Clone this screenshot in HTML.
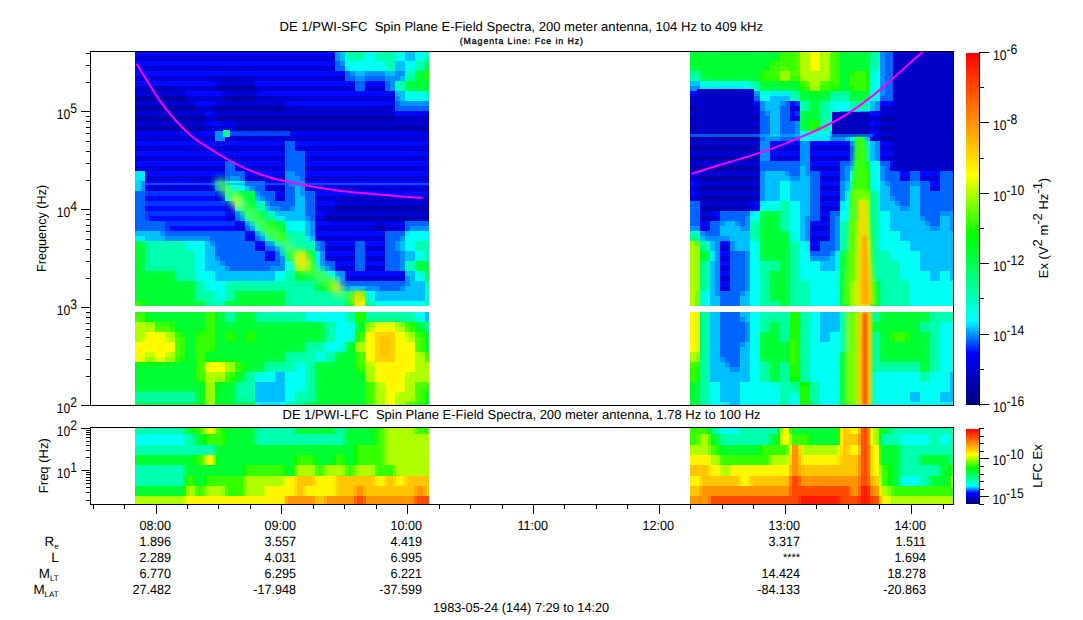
<!DOCTYPE html>
<html><head><meta charset="utf-8"><style>
html,body{margin:0;padding:0;background:#fff;}
svg{display:block;}
text{font-family:"Liberation Sans",sans-serif;fill:#000;}
</style></head><body>
<svg width="1083" height="620" viewBox="0 0 1083 620" shape-rendering="crispEdges">
<defs><filter id="bl" x="-20%" y="-20%" width="140%" height="140%"><feGaussianBlur stdDeviation="1.5"/></filter><filter id="bl2" x="-20%" y="-20%" width="140%" height="140%"><feGaussianBlur stdDeviation="3"/></filter><clipPath id="cLT"><rect x="135" y="51" width="294" height="255"/></clipPath><clipPath id="cRT"><rect x="690" y="51" width="263" height="255"/></clipPath><clipPath id="cRL"><rect x="690" y="312" width="263" height="93"/></clipPath><clipPath id="cRF"><rect x="690" y="428" width="263" height="76"/></clipPath><linearGradient id="cb" x1="0" y1="0" x2="0" y2="1"><stop offset="0.000" stop-color="#ff0000"/><stop offset="0.345" stop-color="#ffff00"/><stop offset="0.520" stop-color="#00ff00"/><stop offset="0.760" stop-color="#00ffff"/><stop offset="0.853" stop-color="#0000ff"/><stop offset="1.000" stop-color="#000078"/></linearGradient></defs>
<rect x="0" y="0" width="1083" height="620" fill="#fff"/>
<rect x="135" y="51" width="200" height="5" fill="#0008ff"/>
<rect x="335" y="51" width="5" height="5" fill="#0091ff"/>
<rect x="340" y="51" width="5" height="5" fill="#00bfff"/>
<rect x="345" y="51" width="20" height="5" fill="#00ffae"/>
<rect x="365" y="51" width="10" height="5" fill="#00fff4"/>
<rect x="375" y="51" width="20" height="5" fill="#00ffae"/>
<rect x="395" y="51" width="10" height="5" fill="#00fff4"/>
<rect x="405" y="51" width="10" height="5" fill="#00bfff"/>
<rect x="415" y="51" width="10" height="5" fill="#00fff4"/>
<rect x="425" y="51" width="4" height="5" fill="#00ffae"/>
<rect x="135" y="56" width="200" height="5" fill="#0000d4"/>
<rect x="335" y="56" width="5" height="5" fill="#0091ff"/>
<rect x="340" y="56" width="5" height="5" fill="#00bfff"/>
<rect x="345" y="56" width="5" height="5" fill="#00ffbf"/>
<rect x="350" y="56" width="15" height="5" fill="#00ffae"/>
<rect x="365" y="56" width="10" height="5" fill="#00fff4"/>
<rect x="375" y="56" width="20" height="5" fill="#00ffae"/>
<rect x="395" y="56" width="10" height="5" fill="#00fff4"/>
<rect x="405" y="56" width="10" height="5" fill="#00bfff"/>
<rect x="415" y="56" width="5" height="5" fill="#00fff4"/>
<rect x="420" y="56" width="5" height="5" fill="#00ffe3"/>
<rect x="425" y="56" width="4" height="5" fill="#00ffae"/>
<rect x="135" y="61" width="200" height="5" fill="#0008ff"/>
<rect x="335" y="61" width="5" height="5" fill="#0064ff"/>
<rect x="340" y="61" width="5" height="5" fill="#0091ff"/>
<rect x="345" y="61" width="35" height="5" fill="#00fff4"/>
<rect x="380" y="61" width="5" height="5" fill="#00ffe3"/>
<rect x="385" y="61" width="10" height="5" fill="#00ffae"/>
<rect x="395" y="61" width="10" height="5" fill="#00bfff"/>
<rect x="405" y="61" width="10" height="5" fill="#00fff4"/>
<rect x="415" y="61" width="10" height="5" fill="#00ffae"/>
<rect x="425" y="61" width="4" height="5" fill="#00ff55"/>
<rect x="135" y="66" width="200" height="5" fill="#0000d4"/>
<rect x="335" y="66" width="10" height="5" fill="#0064ff"/>
<rect x="345" y="66" width="5" height="5" fill="#00edff"/>
<rect x="350" y="66" width="35" height="5" fill="#00fff4"/>
<rect x="385" y="66" width="10" height="5" fill="#00ffbf"/>
<rect x="395" y="66" width="10" height="5" fill="#00bfff"/>
<rect x="405" y="66" width="5" height="5" fill="#00fff4"/>
<rect x="410" y="66" width="5" height="5" fill="#00ffe3"/>
<rect x="415" y="66" width="5" height="5" fill="#00ffae"/>
<rect x="420" y="66" width="5" height="5" fill="#00ff9c"/>
<rect x="425" y="66" width="4" height="5" fill="#00ff43"/>
<rect x="135" y="71" width="210" height="5" fill="#0008ff"/>
<rect x="345" y="71" width="5" height="5" fill="#0064ff"/>
<rect x="350" y="71" width="5" height="5" fill="#0091ff"/>
<rect x="355" y="71" width="10" height="5" fill="#00bfff"/>
<rect x="365" y="71" width="20" height="5" fill="#0091ff"/>
<rect x="385" y="71" width="10" height="5" fill="#00bfff"/>
<rect x="395" y="71" width="10" height="5" fill="#0091ff"/>
<rect x="405" y="71" width="5" height="5" fill="#00ffbf"/>
<rect x="410" y="71" width="5" height="5" fill="#00ffae"/>
<rect x="415" y="71" width="5" height="5" fill="#00ff43"/>
<rect x="420" y="71" width="5" height="5" fill="#00ff32"/>
<rect x="425" y="71" width="4" height="5" fill="#1dff00"/>
<rect x="135" y="76" width="85" height="5" fill="#0000d4"/>
<rect x="220" y="76" width="30" height="5" fill="#0000c5"/>
<rect x="250" y="76" width="95" height="5" fill="#0000d4"/>
<rect x="345" y="76" width="10" height="5" fill="#0064ff"/>
<rect x="355" y="76" width="10" height="5" fill="#0091ff"/>
<rect x="365" y="76" width="20" height="5" fill="#0064ff"/>
<rect x="385" y="76" width="15" height="5" fill="#0091ff"/>
<rect x="400" y="76" width="5" height="5" fill="#00bfff"/>
<rect x="405" y="76" width="5" height="5" fill="#00ffae"/>
<rect x="410" y="76" width="5" height="5" fill="#00ff9c"/>
<rect x="415" y="76" width="5" height="5" fill="#00ff43"/>
<rect x="420" y="76" width="5" height="5" fill="#00ff32"/>
<rect x="425" y="76" width="4" height="5" fill="#1dff00"/>
<rect x="135" y="81" width="80" height="5" fill="#0008ff"/>
<rect x="215" y="81" width="40" height="5" fill="#0000d4"/>
<rect x="255" y="81" width="100" height="5" fill="#0008ff"/>
<rect x="355" y="81" width="10" height="5" fill="#0064ff"/>
<rect x="365" y="81" width="20" height="5" fill="#0008ff"/>
<rect x="385" y="81" width="5" height="5" fill="#0064ff"/>
<rect x="390" y="81" width="5" height="5" fill="#0091ff"/>
<rect x="395" y="81" width="5" height="5" fill="#00ffbf"/>
<rect x="400" y="81" width="5" height="5" fill="#00ffae"/>
<rect x="405" y="81" width="10" height="5" fill="#00ff43"/>
<rect x="415" y="81" width="14" height="5" fill="#00ff32"/>
<rect x="135" y="86" width="45" height="5" fill="#0000c5"/>
<rect x="180" y="86" width="35" height="5" fill="#0000d4"/>
<rect x="215" y="86" width="40" height="5" fill="#0000a6"/>
<rect x="255" y="86" width="5" height="5" fill="#0000c5"/>
<rect x="260" y="86" width="95" height="5" fill="#0000d4"/>
<rect x="355" y="86" width="10" height="5" fill="#0064ff"/>
<rect x="365" y="86" width="20" height="5" fill="#0000d4"/>
<rect x="385" y="86" width="5" height="5" fill="#0064ff"/>
<rect x="390" y="86" width="5" height="5" fill="#0091ff"/>
<rect x="395" y="86" width="5" height="5" fill="#00ffbf"/>
<rect x="400" y="86" width="5" height="5" fill="#00ffae"/>
<rect x="405" y="86" width="5" height="5" fill="#00ff55"/>
<rect x="410" y="86" width="19" height="5" fill="#00ff43"/>
<rect x="135" y="91" width="50" height="5" fill="#0000d4"/>
<rect x="185" y="91" width="35" height="5" fill="#0008ff"/>
<rect x="220" y="91" width="5" height="5" fill="#0000f2"/>
<rect x="225" y="91" width="30" height="5" fill="#0000d4"/>
<rect x="255" y="91" width="5" height="5" fill="#0000f2"/>
<rect x="260" y="91" width="135" height="5" fill="#0008ff"/>
<rect x="395" y="91" width="10" height="5" fill="#00bfff"/>
<rect x="405" y="91" width="20" height="5" fill="#00ffe3"/>
<rect x="425" y="91" width="4" height="5" fill="#00ffae"/>
<rect x="135" y="96" width="50" height="5" fill="#0000a6"/>
<rect x="185" y="96" width="5" height="5" fill="#0000c5"/>
<rect x="190" y="96" width="30" height="5" fill="#0000d4"/>
<rect x="220" y="96" width="5" height="5" fill="#0000c5"/>
<rect x="225" y="96" width="30" height="5" fill="#0000a6"/>
<rect x="255" y="96" width="25" height="5" fill="#0000c5"/>
<rect x="280" y="96" width="115" height="5" fill="#0000d4"/>
<rect x="395" y="96" width="5" height="5" fill="#0091ff"/>
<rect x="400" y="96" width="5" height="5" fill="#00bfff"/>
<rect x="405" y="96" width="20" height="5" fill="#00fff4"/>
<rect x="425" y="96" width="4" height="5" fill="#00ffbf"/>
<rect x="135" y="101" width="60" height="5" fill="#0000d4"/>
<rect x="195" y="101" width="20" height="5" fill="#0008ff"/>
<rect x="215" y="101" width="70" height="5" fill="#0000d4"/>
<rect x="285" y="101" width="110" height="5" fill="#0008ff"/>
<rect x="395" y="101" width="5" height="5" fill="#0064ff"/>
<rect x="400" y="101" width="29" height="5" fill="#0091ff"/>
<rect x="135" y="106" width="60" height="5" fill="#0000a6"/>
<rect x="195" y="106" width="5" height="5" fill="#0000c5"/>
<rect x="200" y="106" width="10" height="5" fill="#0000d4"/>
<rect x="210" y="106" width="5" height="5" fill="#0000c5"/>
<rect x="215" y="106" width="70" height="5" fill="#0000a6"/>
<rect x="285" y="106" width="105" height="5" fill="#0000c5"/>
<rect x="390" y="106" width="5" height="5" fill="#0000d4"/>
<rect x="395" y="106" width="34" height="5" fill="#0064ff"/>
<rect x="135" y="111" width="70" height="5" fill="#0000d4"/>
<rect x="205" y="111" width="5" height="5" fill="#0008ff"/>
<rect x="210" y="111" width="5" height="5" fill="#0000f2"/>
<rect x="215" y="111" width="180" height="5" fill="#0000d4"/>
<rect x="395" y="111" width="34" height="5" fill="#0008ff"/>
<rect x="135" y="116" width="70" height="5" fill="#0000a6"/>
<rect x="205" y="116" width="5" height="5" fill="#0000c5"/>
<rect x="210" y="116" width="5" height="5" fill="#0000d4"/>
<rect x="215" y="116" width="180" height="5" fill="#0000a6"/>
<rect x="395" y="116" width="34" height="5" fill="#0000c5"/>
<rect x="135" y="121" width="70" height="5" fill="#0000d4"/>
<rect x="205" y="121" width="5" height="5" fill="#0000f2"/>
<rect x="210" y="121" width="10" height="5" fill="#0008ff"/>
<rect x="220" y="121" width="15" height="5" fill="#0000f2"/>
<rect x="235" y="121" width="194" height="5" fill="#0000d4"/>
<rect x="135" y="126" width="70" height="5" fill="#0000a6"/>
<rect x="205" y="126" width="30" height="5" fill="#0000d4"/>
<rect x="235" y="126" width="194" height="5" fill="#0000a6"/>
<rect x="135" y="131" width="65" height="5" fill="#0000f2"/>
<rect x="200" y="131" width="15" height="5" fill="#0008ff"/>
<rect x="215" y="131" width="10" height="5" fill="#0091ff"/>
<rect x="225" y="131" width="15" height="5" fill="#0008ff"/>
<rect x="240" y="131" width="189" height="5" fill="#0000f2"/>
<rect x="135" y="136" width="80" height="5" fill="#0000d4"/>
<rect x="215" y="136" width="10" height="5" fill="#0091ff"/>
<rect x="225" y="136" width="204" height="5" fill="#0000d4"/>
<rect x="135" y="141" width="150" height="5" fill="#0008ff"/>
<rect x="285" y="141" width="10" height="5" fill="#0064ff"/>
<rect x="295" y="141" width="134" height="5" fill="#0008ff"/>
<rect x="135" y="146" width="150" height="5" fill="#0000d4"/>
<rect x="285" y="146" width="10" height="5" fill="#0064ff"/>
<rect x="295" y="146" width="5" height="5" fill="#0000e3"/>
<rect x="300" y="146" width="129" height="5" fill="#0000d4"/>
<rect x="135" y="151" width="150" height="5" fill="#0008ff"/>
<rect x="285" y="151" width="20" height="5" fill="#0064ff"/>
<rect x="305" y="151" width="124" height="5" fill="#0008ff"/>
<rect x="135" y="156" width="150" height="5" fill="#0000d4"/>
<rect x="285" y="156" width="20" height="5" fill="#0064ff"/>
<rect x="305" y="156" width="124" height="5" fill="#0000d4"/>
<rect x="135" y="161" width="90" height="5" fill="#0008ff"/>
<rect x="225" y="161" width="10" height="5" fill="#0064ff"/>
<rect x="235" y="161" width="50" height="5" fill="#0008ff"/>
<rect x="285" y="161" width="20" height="5" fill="#0064ff"/>
<rect x="305" y="161" width="124" height="5" fill="#0008ff"/>
<rect x="135" y="166" width="10" height="5" fill="#0000e3"/>
<rect x="145" y="166" width="80" height="5" fill="#0000d4"/>
<rect x="225" y="166" width="10" height="5" fill="#0064ff"/>
<rect x="235" y="166" width="5" height="5" fill="#0000e3"/>
<rect x="240" y="166" width="45" height="5" fill="#0000d4"/>
<rect x="285" y="166" width="20" height="5" fill="#0064ff"/>
<rect x="305" y="166" width="124" height="5" fill="#0000d4"/>
<rect x="135" y="171" width="10" height="5" fill="#00edff"/>
<rect x="145" y="171" width="80" height="5" fill="#0008ff"/>
<rect x="225" y="171" width="20" height="5" fill="#0064ff"/>
<rect x="245" y="171" width="40" height="5" fill="#0008ff"/>
<rect x="285" y="171" width="10" height="5" fill="#0091ff"/>
<rect x="295" y="171" width="10" height="5" fill="#0064ff"/>
<rect x="305" y="171" width="124" height="5" fill="#0008ff"/>
<rect x="135" y="176" width="5" height="5" fill="#00fff4"/>
<rect x="140" y="176" width="5" height="5" fill="#00edff"/>
<rect x="145" y="176" width="5" height="5" fill="#0000e3"/>
<rect x="150" y="176" width="70" height="5" fill="#0000d4"/>
<rect x="220" y="176" width="5" height="5" fill="#0000e3"/>
<rect x="225" y="176" width="5" height="5" fill="#0064ff"/>
<rect x="230" y="176" width="10" height="5" fill="#0091ff"/>
<rect x="240" y="176" width="5" height="5" fill="#0064ff"/>
<rect x="245" y="176" width="5" height="5" fill="#0000e3"/>
<rect x="250" y="176" width="35" height="5" fill="#0000d4"/>
<rect x="285" y="176" width="15" height="5" fill="#0091ff"/>
<rect x="300" y="176" width="5" height="5" fill="#0064ff"/>
<rect x="305" y="176" width="124" height="5" fill="#0000d4"/>
<rect x="135" y="181" width="5" height="5" fill="#00bfff"/>
<rect x="140" y="181" width="5" height="5" fill="#0091ff"/>
<rect x="145" y="181" width="70" height="5" fill="#0008ff"/>
<rect x="215" y="181" width="10" height="5" fill="#0064ff"/>
<rect x="225" y="181" width="5" height="5" fill="#00edff"/>
<rect x="230" y="181" width="10" height="5" fill="#00fff4"/>
<rect x="240" y="181" width="5" height="5" fill="#00edff"/>
<rect x="245" y="181" width="20" height="5" fill="#0064ff"/>
<rect x="265" y="181" width="20" height="5" fill="#0008ff"/>
<rect x="285" y="181" width="5" height="5" fill="#0064ff"/>
<rect x="290" y="181" width="15" height="5" fill="#0091ff"/>
<rect x="305" y="181" width="124" height="5" fill="#0008ff"/>
<rect x="135" y="186" width="5" height="5" fill="#00bfff"/>
<rect x="140" y="186" width="5" height="5" fill="#0091ff"/>
<rect x="145" y="186" width="5" height="5" fill="#0000e3"/>
<rect x="150" y="186" width="65" height="5" fill="#0000d4"/>
<rect x="215" y="186" width="10" height="5" fill="#0064ff"/>
<rect x="225" y="186" width="10" height="5" fill="#00fff4"/>
<rect x="235" y="186" width="10" height="5" fill="#00ffe3"/>
<rect x="245" y="186" width="5" height="5" fill="#00bfff"/>
<rect x="250" y="186" width="5" height="5" fill="#0091ff"/>
<rect x="255" y="186" width="10" height="5" fill="#0064ff"/>
<rect x="265" y="186" width="5" height="5" fill="#0000e3"/>
<rect x="270" y="186" width="15" height="5" fill="#0000d4"/>
<rect x="285" y="186" width="10" height="5" fill="#0064ff"/>
<rect x="295" y="186" width="5" height="5" fill="#00bfff"/>
<rect x="300" y="186" width="5" height="5" fill="#0091ff"/>
<rect x="305" y="186" width="5" height="5" fill="#0000e3"/>
<rect x="310" y="186" width="119" height="5" fill="#0000d4"/>
<rect x="135" y="191" width="10" height="5" fill="#0064ff"/>
<rect x="145" y="191" width="70" height="5" fill="#0036ff"/>
<rect x="215" y="191" width="10" height="5" fill="#0008ff"/>
<rect x="225" y="191" width="5" height="5" fill="#00edff"/>
<rect x="230" y="191" width="5" height="5" fill="#00ffe3"/>
<rect x="235" y="191" width="5" height="5" fill="#00ff55"/>
<rect x="240" y="191" width="10" height="5" fill="#00ff43"/>
<rect x="250" y="191" width="5" height="5" fill="#00ff55"/>
<rect x="255" y="191" width="5" height="5" fill="#0091ff"/>
<rect x="260" y="191" width="15" height="5" fill="#0064ff"/>
<rect x="275" y="191" width="10" height="5" fill="#0008ff"/>
<rect x="285" y="191" width="10" height="5" fill="#0064ff"/>
<rect x="295" y="191" width="5" height="5" fill="#00bfff"/>
<rect x="300" y="191" width="5" height="5" fill="#0091ff"/>
<rect x="305" y="191" width="10" height="5" fill="#0064ff"/>
<rect x="315" y="191" width="114" height="5" fill="#0008ff"/>
<rect x="135" y="196" width="10" height="5" fill="#0064ff"/>
<rect x="145" y="196" width="70" height="5" fill="#0008ff"/>
<rect x="215" y="196" width="5" height="5" fill="#0000d4"/>
<rect x="220" y="196" width="5" height="5" fill="#0000e3"/>
<rect x="225" y="196" width="5" height="5" fill="#00edff"/>
<rect x="230" y="196" width="5" height="5" fill="#00fff4"/>
<rect x="235" y="196" width="5" height="5" fill="#00ff55"/>
<rect x="240" y="196" width="5" height="5" fill="#00ff43"/>
<rect x="245" y="196" width="5" height="5" fill="#00ff32"/>
<rect x="250" y="196" width="5" height="5" fill="#00ff43"/>
<rect x="255" y="196" width="5" height="5" fill="#00bfff"/>
<rect x="260" y="196" width="5" height="5" fill="#0091ff"/>
<rect x="265" y="196" width="10" height="5" fill="#0064ff"/>
<rect x="275" y="196" width="10" height="5" fill="#0000e3"/>
<rect x="285" y="196" width="10" height="5" fill="#0064ff"/>
<rect x="295" y="196" width="10" height="5" fill="#00bfff"/>
<rect x="305" y="196" width="10" height="5" fill="#0064ff"/>
<rect x="315" y="196" width="25" height="5" fill="#0000d4"/>
<rect x="340" y="196" width="89" height="5" fill="#0000c5"/>
<rect x="135" y="201" width="10" height="5" fill="#0064ff"/>
<rect x="145" y="201" width="80" height="5" fill="#0036ff"/>
<rect x="225" y="201" width="10" height="5" fill="#0008ff"/>
<rect x="235" y="201" width="5" height="5" fill="#00fff4"/>
<rect x="240" y="201" width="5" height="5" fill="#00ffd1"/>
<rect x="245" y="201" width="10" height="5" fill="#00ff43"/>
<rect x="255" y="201" width="5" height="5" fill="#00ffae"/>
<rect x="260" y="201" width="5" height="5" fill="#00ffbf"/>
<rect x="265" y="201" width="5" height="5" fill="#0091ff"/>
<rect x="270" y="201" width="25" height="5" fill="#0064ff"/>
<rect x="295" y="201" width="10" height="5" fill="#00bfff"/>
<rect x="305" y="201" width="10" height="5" fill="#0064ff"/>
<rect x="315" y="201" width="20" height="5" fill="#0008ff"/>
<rect x="335" y="201" width="94" height="5" fill="#0000d4"/>
<rect x="135" y="206" width="10" height="5" fill="#0064ff"/>
<rect x="145" y="206" width="80" height="5" fill="#0008ff"/>
<rect x="225" y="206" width="5" height="5" fill="#0000d4"/>
<rect x="230" y="206" width="5" height="5" fill="#0000e3"/>
<rect x="235" y="206" width="5" height="5" fill="#00edff"/>
<rect x="240" y="206" width="5" height="5" fill="#00ffe3"/>
<rect x="245" y="206" width="5" height="5" fill="#00ff55"/>
<rect x="250" y="206" width="5" height="5" fill="#00ff43"/>
<rect x="255" y="206" width="5" height="5" fill="#00ff9c"/>
<rect x="260" y="206" width="5" height="5" fill="#00ffae"/>
<rect x="265" y="206" width="5" height="5" fill="#00bfff"/>
<rect x="270" y="206" width="10" height="5" fill="#0091ff"/>
<rect x="280" y="206" width="10" height="5" fill="#0064ff"/>
<rect x="290" y="206" width="5" height="5" fill="#0091ff"/>
<rect x="295" y="206" width="10" height="5" fill="#00bfff"/>
<rect x="305" y="206" width="10" height="5" fill="#0064ff"/>
<rect x="315" y="206" width="15" height="5" fill="#0000d4"/>
<rect x="330" y="206" width="5" height="5" fill="#0000c5"/>
<rect x="335" y="206" width="94" height="5" fill="#0000a6"/>
<rect x="135" y="211" width="10" height="5" fill="#0064ff"/>
<rect x="145" y="211" width="80" height="5" fill="#0036ff"/>
<rect x="225" y="211" width="10" height="5" fill="#0008ff"/>
<rect x="235" y="211" width="5" height="5" fill="#0064ff"/>
<rect x="240" y="211" width="5" height="5" fill="#0091ff"/>
<rect x="245" y="211" width="5" height="5" fill="#00ffae"/>
<rect x="250" y="211" width="5" height="5" fill="#00ff9c"/>
<rect x="255" y="211" width="10" height="5" fill="#00ff43"/>
<rect x="265" y="211" width="5" height="5" fill="#00ffae"/>
<rect x="270" y="211" width="5" height="5" fill="#00ffbf"/>
<rect x="275" y="211" width="30" height="5" fill="#00bfff"/>
<rect x="305" y="211" width="10" height="5" fill="#0064ff"/>
<rect x="315" y="211" width="10" height="5" fill="#0008ff"/>
<rect x="325" y="211" width="104" height="5" fill="#0000d4"/>
<rect x="135" y="216" width="10" height="5" fill="#0064ff"/>
<rect x="145" y="216" width="5" height="5" fill="#0036ff"/>
<rect x="150" y="216" width="75" height="5" fill="#0008ff"/>
<rect x="225" y="216" width="10" height="5" fill="#0000d4"/>
<rect x="235" y="216" width="5" height="5" fill="#0064ff"/>
<rect x="240" y="216" width="5" height="5" fill="#0091ff"/>
<rect x="245" y="216" width="5" height="5" fill="#00ffbf"/>
<rect x="250" y="216" width="5" height="5" fill="#00ffae"/>
<rect x="255" y="216" width="10" height="5" fill="#00ff43"/>
<rect x="265" y="216" width="5" height="5" fill="#00ff8a"/>
<rect x="270" y="216" width="5" height="5" fill="#00ff9c"/>
<rect x="275" y="216" width="10" height="5" fill="#00edff"/>
<rect x="285" y="216" width="20" height="5" fill="#00bfff"/>
<rect x="305" y="216" width="5" height="5" fill="#0091ff"/>
<rect x="310" y="216" width="5" height="5" fill="#0064ff"/>
<rect x="315" y="216" width="10" height="5" fill="#0000d4"/>
<rect x="325" y="216" width="85" height="5" fill="#0000a6"/>
<rect x="410" y="216" width="19" height="5" fill="#0000b5"/>
<rect x="135" y="221" width="30" height="5" fill="#0064ff"/>
<rect x="165" y="221" width="70" height="5" fill="#0036ff"/>
<rect x="235" y="221" width="10" height="5" fill="#0008ff"/>
<rect x="245" y="221" width="5" height="5" fill="#0091ff"/>
<rect x="250" y="221" width="5" height="5" fill="#00bfff"/>
<rect x="255" y="221" width="5" height="5" fill="#00ffae"/>
<rect x="260" y="221" width="5" height="5" fill="#00ff8a"/>
<rect x="265" y="221" width="5" height="5" fill="#05ff00"/>
<rect x="270" y="221" width="5" height="5" fill="#1dff00"/>
<rect x="275" y="221" width="5" height="5" fill="#00ff43"/>
<rect x="280" y="221" width="5" height="5" fill="#00ff55"/>
<rect x="285" y="221" width="5" height="5" fill="#00ffe3"/>
<rect x="290" y="221" width="15" height="5" fill="#00fff4"/>
<rect x="305" y="221" width="5" height="5" fill="#00bfff"/>
<rect x="310" y="221" width="5" height="5" fill="#0091ff"/>
<rect x="315" y="221" width="15" height="5" fill="#0008ff"/>
<rect x="330" y="221" width="45" height="5" fill="#0000f2"/>
<rect x="375" y="221" width="10" height="5" fill="#0000d4"/>
<rect x="385" y="221" width="15" height="5" fill="#0000f2"/>
<rect x="400" y="221" width="5" height="5" fill="#0008ff"/>
<rect x="405" y="221" width="24" height="5" fill="#0064ff"/>
<rect x="135" y="226" width="30" height="5" fill="#0064ff"/>
<rect x="165" y="226" width="5" height="5" fill="#0036ff"/>
<rect x="170" y="226" width="65" height="5" fill="#0008ff"/>
<rect x="235" y="226" width="5" height="5" fill="#0000d4"/>
<rect x="240" y="226" width="5" height="5" fill="#0000e3"/>
<rect x="245" y="226" width="5" height="5" fill="#0064ff"/>
<rect x="250" y="226" width="5" height="5" fill="#0091ff"/>
<rect x="255" y="226" width="5" height="5" fill="#00ffbf"/>
<rect x="260" y="226" width="5" height="5" fill="#00ff9c"/>
<rect x="265" y="226" width="5" height="5" fill="#05ff00"/>
<rect x="270" y="226" width="5" height="5" fill="#1dff00"/>
<rect x="275" y="226" width="5" height="5" fill="#00ff20"/>
<rect x="280" y="226" width="5" height="5" fill="#00ff43"/>
<rect x="285" y="226" width="5" height="5" fill="#00ffe3"/>
<rect x="290" y="226" width="15" height="5" fill="#00fff4"/>
<rect x="305" y="226" width="5" height="5" fill="#00bfff"/>
<rect x="310" y="226" width="5" height="5" fill="#0091ff"/>
<rect x="315" y="226" width="60" height="5" fill="#0000d4"/>
<rect x="375" y="226" width="10" height="5" fill="#0000a6"/>
<rect x="385" y="226" width="15" height="5" fill="#0000d4"/>
<rect x="400" y="226" width="5" height="5" fill="#0000e3"/>
<rect x="405" y="226" width="5" height="5" fill="#0064ff"/>
<rect x="410" y="226" width="19" height="5" fill="#0091ff"/>
<rect x="135" y="231" width="25" height="5" fill="#00bfff"/>
<rect x="160" y="231" width="5" height="5" fill="#0091ff"/>
<rect x="165" y="231" width="80" height="5" fill="#0064ff"/>
<rect x="245" y="231" width="10" height="5" fill="#0008ff"/>
<rect x="255" y="231" width="5" height="5" fill="#0091ff"/>
<rect x="260" y="231" width="5" height="5" fill="#00bfff"/>
<rect x="265" y="231" width="5" height="5" fill="#00ff9c"/>
<rect x="270" y="231" width="5" height="5" fill="#00ff8a"/>
<rect x="275" y="231" width="10" height="5" fill="#1dff00"/>
<rect x="285" y="231" width="5" height="5" fill="#00ff9c"/>
<rect x="290" y="231" width="10" height="5" fill="#00ffae"/>
<rect x="300" y="231" width="5" height="5" fill="#00ffbf"/>
<rect x="305" y="231" width="5" height="5" fill="#00bfff"/>
<rect x="310" y="231" width="5" height="5" fill="#0091ff"/>
<rect x="315" y="231" width="70" height="5" fill="#0008ff"/>
<rect x="385" y="231" width="20" height="5" fill="#0064ff"/>
<rect x="405" y="231" width="5" height="5" fill="#00edff"/>
<rect x="410" y="231" width="19" height="5" fill="#00fff4"/>
<rect x="135" y="236" width="10" height="5" fill="#00edff"/>
<rect x="145" y="236" width="20" height="5" fill="#00bfff"/>
<rect x="165" y="236" width="45" height="5" fill="#0091ff"/>
<rect x="210" y="236" width="35" height="5" fill="#0064ff"/>
<rect x="245" y="236" width="10" height="5" fill="#0000e3"/>
<rect x="255" y="236" width="5" height="5" fill="#0064ff"/>
<rect x="260" y="236" width="5" height="5" fill="#0091ff"/>
<rect x="265" y="236" width="5" height="5" fill="#00ffbf"/>
<rect x="270" y="236" width="5" height="5" fill="#00ffae"/>
<rect x="275" y="236" width="10" height="5" fill="#05ff00"/>
<rect x="285" y="236" width="5" height="5" fill="#00ff9c"/>
<rect x="290" y="236" width="15" height="5" fill="#00ffae"/>
<rect x="305" y="236" width="5" height="5" fill="#00edff"/>
<rect x="310" y="236" width="5" height="5" fill="#00bfff"/>
<rect x="315" y="236" width="5" height="5" fill="#0000e3"/>
<rect x="320" y="236" width="65" height="5" fill="#0000d4"/>
<rect x="385" y="236" width="15" height="5" fill="#0064ff"/>
<rect x="400" y="236" width="5" height="5" fill="#0091ff"/>
<rect x="405" y="236" width="24" height="5" fill="#00fff4"/>
<rect x="135" y="241" width="5" height="5" fill="#00ff43"/>
<rect x="140" y="241" width="5" height="5" fill="#00ff55"/>
<rect x="145" y="241" width="35" height="5" fill="#00ffae"/>
<rect x="180" y="241" width="5" height="5" fill="#00ffbf"/>
<rect x="185" y="241" width="20" height="5" fill="#00fff4"/>
<rect x="205" y="241" width="5" height="5" fill="#00bfff"/>
<rect x="210" y="241" width="5" height="5" fill="#0091ff"/>
<rect x="215" y="241" width="40" height="5" fill="#0064ff"/>
<rect x="255" y="241" width="10" height="5" fill="#0008ff"/>
<rect x="265" y="241" width="10" height="5" fill="#0091ff"/>
<rect x="275" y="241" width="10" height="5" fill="#00edff"/>
<rect x="285" y="241" width="5" height="5" fill="#00fff4"/>
<rect x="290" y="241" width="5" height="5" fill="#00ffe3"/>
<rect x="295" y="241" width="15" height="5" fill="#00ffae"/>
<rect x="310" y="241" width="5" height="5" fill="#00ffbf"/>
<rect x="315" y="241" width="5" height="5" fill="#0091ff"/>
<rect x="320" y="241" width="5" height="5" fill="#0064ff"/>
<rect x="325" y="241" width="30" height="5" fill="#0008ff"/>
<rect x="355" y="241" width="10" height="5" fill="#0064ff"/>
<rect x="365" y="241" width="20" height="5" fill="#0008ff"/>
<rect x="385" y="241" width="10" height="5" fill="#0064ff"/>
<rect x="395" y="241" width="5" height="5" fill="#0091ff"/>
<rect x="400" y="241" width="5" height="5" fill="#00bfff"/>
<rect x="405" y="241" width="10" height="5" fill="#00fff4"/>
<rect x="415" y="241" width="14" height="5" fill="#00ffae"/>
<rect x="135" y="246" width="5" height="5" fill="#00ff32"/>
<rect x="140" y="246" width="5" height="5" fill="#00ff43"/>
<rect x="145" y="246" width="5" height="5" fill="#00ff9c"/>
<rect x="150" y="246" width="35" height="5" fill="#00ffae"/>
<rect x="185" y="246" width="5" height="5" fill="#00ffe3"/>
<rect x="190" y="246" width="15" height="5" fill="#00fff4"/>
<rect x="205" y="246" width="10" height="5" fill="#00bfff"/>
<rect x="215" y="246" width="40" height="5" fill="#0064ff"/>
<rect x="255" y="246" width="10" height="5" fill="#0000e3"/>
<rect x="265" y="246" width="10" height="5" fill="#0064ff"/>
<rect x="275" y="246" width="5" height="5" fill="#0091ff"/>
<rect x="280" y="246" width="5" height="5" fill="#00bfff"/>
<rect x="285" y="246" width="10" height="5" fill="#00ffe3"/>
<rect x="295" y="246" width="15" height="5" fill="#00ff9c"/>
<rect x="310" y="246" width="5" height="5" fill="#00ffae"/>
<rect x="315" y="246" width="5" height="5" fill="#0091ff"/>
<rect x="320" y="246" width="5" height="5" fill="#0064ff"/>
<rect x="325" y="246" width="30" height="5" fill="#0000d4"/>
<rect x="355" y="246" width="10" height="5" fill="#0064ff"/>
<rect x="365" y="246" width="20" height="5" fill="#0000d4"/>
<rect x="385" y="246" width="10" height="5" fill="#0064ff"/>
<rect x="395" y="246" width="5" height="5" fill="#0091ff"/>
<rect x="400" y="246" width="5" height="5" fill="#00bfff"/>
<rect x="405" y="246" width="10" height="5" fill="#00fff4"/>
<rect x="415" y="246" width="14" height="5" fill="#00ffae"/>
<rect x="135" y="251" width="5" height="5" fill="#00ff32"/>
<rect x="140" y="251" width="5" height="5" fill="#00ff43"/>
<rect x="145" y="251" width="5" height="5" fill="#00ff9c"/>
<rect x="150" y="251" width="45" height="5" fill="#00ffae"/>
<rect x="195" y="251" width="10" height="5" fill="#00fff4"/>
<rect x="205" y="251" width="10" height="5" fill="#00bfff"/>
<rect x="215" y="251" width="50" height="5" fill="#0064ff"/>
<rect x="265" y="251" width="10" height="5" fill="#0008ff"/>
<rect x="275" y="251" width="5" height="5" fill="#0064ff"/>
<rect x="280" y="251" width="5" height="5" fill="#00bfff"/>
<rect x="285" y="251" width="5" height="5" fill="#00ff55"/>
<rect x="290" y="251" width="5" height="5" fill="#00ff32"/>
<rect x="295" y="251" width="10" height="5" fill="#7eff00"/>
<rect x="305" y="251" width="5" height="5" fill="#00ff32"/>
<rect x="310" y="251" width="5" height="5" fill="#00ff55"/>
<rect x="315" y="251" width="5" height="5" fill="#00edff"/>
<rect x="320" y="251" width="5" height="5" fill="#0091ff"/>
<rect x="325" y="251" width="30" height="5" fill="#0008ff"/>
<rect x="355" y="251" width="10" height="5" fill="#0064ff"/>
<rect x="365" y="251" width="20" height="5" fill="#0008ff"/>
<rect x="385" y="251" width="15" height="5" fill="#0064ff"/>
<rect x="400" y="251" width="5" height="5" fill="#0091ff"/>
<rect x="405" y="251" width="10" height="5" fill="#00bfff"/>
<rect x="415" y="251" width="5" height="5" fill="#00fff4"/>
<rect x="420" y="251" width="5" height="5" fill="#00ffe3"/>
<rect x="425" y="251" width="4" height="5" fill="#00ffae"/>
<rect x="135" y="256" width="5" height="5" fill="#00ff32"/>
<rect x="140" y="256" width="5" height="5" fill="#00ff43"/>
<rect x="145" y="256" width="5" height="5" fill="#00ff9c"/>
<rect x="150" y="256" width="45" height="5" fill="#00ffae"/>
<rect x="195" y="256" width="10" height="5" fill="#00fff4"/>
<rect x="205" y="256" width="10" height="5" fill="#00bfff"/>
<rect x="215" y="256" width="5" height="5" fill="#0091ff"/>
<rect x="220" y="256" width="45" height="5" fill="#0064ff"/>
<rect x="265" y="256" width="10" height="5" fill="#0000e3"/>
<rect x="275" y="256" width="5" height="5" fill="#0064ff"/>
<rect x="280" y="256" width="5" height="5" fill="#0091ff"/>
<rect x="285" y="256" width="5" height="5" fill="#00ff55"/>
<rect x="290" y="256" width="5" height="5" fill="#00ff32"/>
<rect x="295" y="256" width="10" height="5" fill="#97ff00"/>
<rect x="305" y="256" width="5" height="5" fill="#00ff20"/>
<rect x="310" y="256" width="5" height="5" fill="#00ff43"/>
<rect x="315" y="256" width="5" height="5" fill="#00edff"/>
<rect x="320" y="256" width="5" height="5" fill="#0091ff"/>
<rect x="325" y="256" width="5" height="5" fill="#0000e3"/>
<rect x="330" y="256" width="25" height="5" fill="#0000d4"/>
<rect x="355" y="256" width="10" height="5" fill="#0064ff"/>
<rect x="365" y="256" width="20" height="5" fill="#0000d4"/>
<rect x="385" y="256" width="15" height="5" fill="#0064ff"/>
<rect x="400" y="256" width="5" height="5" fill="#0091ff"/>
<rect x="405" y="256" width="10" height="5" fill="#00bfff"/>
<rect x="415" y="256" width="10" height="5" fill="#00ffe3"/>
<rect x="425" y="256" width="4" height="5" fill="#00ffae"/>
<rect x="135" y="261" width="5" height="5" fill="#00ff32"/>
<rect x="140" y="261" width="5" height="5" fill="#00ff43"/>
<rect x="145" y="261" width="5" height="5" fill="#00ff9c"/>
<rect x="150" y="261" width="45" height="5" fill="#00ffae"/>
<rect x="195" y="261" width="10" height="5" fill="#00fff4"/>
<rect x="205" y="261" width="15" height="5" fill="#00bfff"/>
<rect x="220" y="261" width="5" height="5" fill="#0091ff"/>
<rect x="225" y="261" width="55" height="5" fill="#0064ff"/>
<rect x="280" y="261" width="5" height="5" fill="#0091ff"/>
<rect x="285" y="261" width="5" height="5" fill="#00fff4"/>
<rect x="290" y="261" width="5" height="5" fill="#00ffd1"/>
<rect x="295" y="261" width="5" height="5" fill="#7eff00"/>
<rect x="300" y="261" width="5" height="5" fill="#afff00"/>
<rect x="305" y="261" width="5" height="5" fill="#35ff00"/>
<rect x="310" y="261" width="5" height="5" fill="#05ff00"/>
<rect x="315" y="261" width="5" height="5" fill="#00edff"/>
<rect x="320" y="261" width="5" height="5" fill="#0091ff"/>
<rect x="325" y="261" width="10" height="5" fill="#0064ff"/>
<rect x="335" y="261" width="20" height="5" fill="#0008ff"/>
<rect x="355" y="261" width="10" height="5" fill="#0064ff"/>
<rect x="365" y="261" width="20" height="5" fill="#0008ff"/>
<rect x="385" y="261" width="15" height="5" fill="#0064ff"/>
<rect x="400" y="261" width="5" height="5" fill="#0091ff"/>
<rect x="405" y="261" width="5" height="5" fill="#00ffbf"/>
<rect x="410" y="261" width="5" height="5" fill="#00ffae"/>
<rect x="415" y="261" width="5" height="5" fill="#00ff55"/>
<rect x="420" y="261" width="9" height="5" fill="#00ff43"/>
<rect x="135" y="266" width="5" height="5" fill="#00ff32"/>
<rect x="140" y="266" width="5" height="5" fill="#00ff43"/>
<rect x="145" y="266" width="30" height="5" fill="#00ff9c"/>
<rect x="175" y="266" width="20" height="5" fill="#00ffae"/>
<rect x="195" y="266" width="10" height="5" fill="#00fff4"/>
<rect x="205" y="266" width="20" height="5" fill="#00bfff"/>
<rect x="225" y="266" width="5" height="5" fill="#0091ff"/>
<rect x="230" y="266" width="40" height="5" fill="#0064ff"/>
<rect x="270" y="266" width="15" height="5" fill="#0091ff"/>
<rect x="285" y="266" width="5" height="5" fill="#00fff4"/>
<rect x="290" y="266" width="5" height="5" fill="#00ffd1"/>
<rect x="295" y="266" width="5" height="5" fill="#7eff00"/>
<rect x="300" y="266" width="5" height="5" fill="#97ff00"/>
<rect x="305" y="266" width="5" height="5" fill="#35ff00"/>
<rect x="310" y="266" width="5" height="5" fill="#05ff00"/>
<rect x="315" y="266" width="5" height="5" fill="#00edff"/>
<rect x="320" y="266" width="5" height="5" fill="#00bfff"/>
<rect x="325" y="266" width="5" height="5" fill="#0091ff"/>
<rect x="330" y="266" width="5" height="5" fill="#0064ff"/>
<rect x="335" y="266" width="5" height="5" fill="#0000e3"/>
<rect x="340" y="266" width="15" height="5" fill="#0000d4"/>
<rect x="355" y="266" width="10" height="5" fill="#0064ff"/>
<rect x="365" y="266" width="20" height="5" fill="#0000d4"/>
<rect x="385" y="266" width="15" height="5" fill="#0064ff"/>
<rect x="400" y="266" width="5" height="5" fill="#0091ff"/>
<rect x="405" y="266" width="5" height="5" fill="#00ffbf"/>
<rect x="410" y="266" width="5" height="5" fill="#00ffae"/>
<rect x="415" y="266" width="5" height="5" fill="#00ff55"/>
<rect x="420" y="266" width="5" height="5" fill="#00ff43"/>
<rect x="425" y="266" width="4" height="5" fill="#00ff32"/>
<rect x="135" y="271" width="10" height="5" fill="#00ff32"/>
<rect x="145" y="271" width="30" height="5" fill="#00ff43"/>
<rect x="175" y="271" width="5" height="5" fill="#00ff9c"/>
<rect x="180" y="271" width="15" height="5" fill="#00ffae"/>
<rect x="195" y="271" width="20" height="5" fill="#00fff4"/>
<rect x="215" y="271" width="60" height="5" fill="#00bfff"/>
<rect x="275" y="271" width="10" height="5" fill="#00fff4"/>
<rect x="285" y="271" width="10" height="5" fill="#00ffae"/>
<rect x="295" y="271" width="5" height="5" fill="#00ff32"/>
<rect x="300" y="271" width="5" height="5" fill="#00ff20"/>
<rect x="305" y="271" width="10" height="5" fill="#00ff32"/>
<rect x="315" y="271" width="5" height="5" fill="#00ffae"/>
<rect x="320" y="271" width="5" height="5" fill="#00ffbf"/>
<rect x="325" y="271" width="10" height="5" fill="#00fff4"/>
<rect x="335" y="271" width="10" height="5" fill="#0091ff"/>
<rect x="345" y="271" width="60" height="5" fill="#0008ff"/>
<rect x="405" y="271" width="10" height="5" fill="#00bfff"/>
<rect x="415" y="271" width="5" height="5" fill="#00ffe3"/>
<rect x="420" y="271" width="5" height="5" fill="#00ffd1"/>
<rect x="425" y="271" width="4" height="5" fill="#00ff55"/>
<rect x="135" y="276" width="35" height="5" fill="#00ff32"/>
<rect x="170" y="276" width="5" height="5" fill="#00ff43"/>
<rect x="175" y="276" width="15" height="5" fill="#00ff9c"/>
<rect x="190" y="276" width="5" height="5" fill="#00ffae"/>
<rect x="195" y="276" width="5" height="5" fill="#00ffe3"/>
<rect x="200" y="276" width="15" height="5" fill="#00fff4"/>
<rect x="215" y="276" width="60" height="5" fill="#00bfff"/>
<rect x="275" y="276" width="5" height="5" fill="#00fff4"/>
<rect x="280" y="276" width="5" height="5" fill="#00ffe3"/>
<rect x="285" y="276" width="5" height="5" fill="#00ffae"/>
<rect x="290" y="276" width="5" height="5" fill="#00ff9c"/>
<rect x="295" y="276" width="20" height="5" fill="#00ff43"/>
<rect x="315" y="276" width="5" height="5" fill="#00ff9c"/>
<rect x="320" y="276" width="5" height="5" fill="#00ffae"/>
<rect x="325" y="276" width="5" height="5" fill="#00ffd1"/>
<rect x="330" y="276" width="5" height="5" fill="#00ffe3"/>
<rect x="335" y="276" width="5" height="5" fill="#00bfff"/>
<rect x="340" y="276" width="5" height="5" fill="#0091ff"/>
<rect x="345" y="276" width="5" height="5" fill="#0000e3"/>
<rect x="350" y="276" width="50" height="5" fill="#0000d4"/>
<rect x="400" y="276" width="5" height="5" fill="#0000e3"/>
<rect x="405" y="276" width="5" height="5" fill="#0091ff"/>
<rect x="410" y="276" width="5" height="5" fill="#00bfff"/>
<rect x="415" y="276" width="5" height="5" fill="#00fff4"/>
<rect x="420" y="276" width="5" height="5" fill="#00ffe3"/>
<rect x="425" y="276" width="4" height="5" fill="#00ff55"/>
<rect x="135" y="281" width="40" height="5" fill="#00ff32"/>
<rect x="175" y="281" width="20" height="5" fill="#00ff43"/>
<rect x="195" y="281" width="10" height="5" fill="#00ffae"/>
<rect x="205" y="281" width="20" height="5" fill="#00fff4"/>
<rect x="225" y="281" width="5" height="5" fill="#00ffbf"/>
<rect x="230" y="281" width="65" height="5" fill="#00ffae"/>
<rect x="295" y="281" width="20" height="5" fill="#00ff9c"/>
<rect x="315" y="281" width="5" height="5" fill="#00ff43"/>
<rect x="320" y="281" width="5" height="5" fill="#00ff32"/>
<rect x="325" y="281" width="5" height="5" fill="#1dff00"/>
<rect x="330" y="281" width="5" height="5" fill="#05ff00"/>
<rect x="335" y="281" width="5" height="5" fill="#00bfff"/>
<rect x="340" y="281" width="65" height="5" fill="#0064ff"/>
<rect x="405" y="281" width="5" height="5" fill="#0091ff"/>
<rect x="410" y="281" width="15" height="5" fill="#00bfff"/>
<rect x="425" y="281" width="4" height="5" fill="#00ffae"/>
<rect x="135" y="286" width="55" height="5" fill="#00ff32"/>
<rect x="190" y="286" width="5" height="5" fill="#00ff43"/>
<rect x="195" y="286" width="5" height="5" fill="#00ff9c"/>
<rect x="200" y="286" width="5" height="5" fill="#00ffae"/>
<rect x="205" y="286" width="5" height="5" fill="#00ffe3"/>
<rect x="210" y="286" width="15" height="5" fill="#00fff4"/>
<rect x="225" y="286" width="10" height="5" fill="#00ffae"/>
<rect x="235" y="286" width="50" height="5" fill="#00ff9c"/>
<rect x="285" y="286" width="25" height="5" fill="#00ffae"/>
<rect x="310" y="286" width="5" height="5" fill="#00ff9c"/>
<rect x="315" y="286" width="5" height="5" fill="#00ff43"/>
<rect x="320" y="286" width="5" height="5" fill="#00ff32"/>
<rect x="325" y="286" width="5" height="5" fill="#1dff00"/>
<rect x="330" y="286" width="5" height="5" fill="#05ff00"/>
<rect x="335" y="286" width="5" height="5" fill="#00bfff"/>
<rect x="340" y="286" width="10" height="5" fill="#0091ff"/>
<rect x="350" y="286" width="15" height="5" fill="#00bfff"/>
<rect x="365" y="286" width="15" height="5" fill="#0091ff"/>
<rect x="380" y="286" width="20" height="5" fill="#0064ff"/>
<rect x="400" y="286" width="5" height="5" fill="#0091ff"/>
<rect x="405" y="286" width="20" height="5" fill="#00bfff"/>
<rect x="425" y="286" width="4" height="5" fill="#00ffbf"/>
<rect x="135" y="291" width="55" height="5" fill="#00ff32"/>
<rect x="190" y="291" width="5" height="5" fill="#00ff43"/>
<rect x="195" y="291" width="5" height="5" fill="#00ff9c"/>
<rect x="200" y="291" width="15" height="5" fill="#00ffae"/>
<rect x="215" y="291" width="10" height="5" fill="#00fff4"/>
<rect x="225" y="291" width="5" height="5" fill="#00ffae"/>
<rect x="230" y="291" width="5" height="5" fill="#00ff9c"/>
<rect x="235" y="291" width="50" height="5" fill="#00ff43"/>
<rect x="285" y="291" width="5" height="5" fill="#00ff9c"/>
<rect x="290" y="291" width="25" height="5" fill="#00ffae"/>
<rect x="315" y="291" width="20" height="5" fill="#00ff9c"/>
<rect x="335" y="291" width="10" height="5" fill="#00ffae"/>
<rect x="345" y="291" width="5" height="5" fill="#00ff55"/>
<rect x="350" y="291" width="5" height="5" fill="#00ff43"/>
<rect x="355" y="291" width="10" height="5" fill="#66ff00"/>
<rect x="365" y="291" width="5" height="5" fill="#00ffe3"/>
<rect x="370" y="291" width="5" height="5" fill="#00fff4"/>
<rect x="375" y="291" width="50" height="5" fill="#00bfff"/>
<rect x="425" y="291" width="4" height="5" fill="#00ffbf"/>
<rect x="135" y="296" width="55" height="5" fill="#00ff32"/>
<rect x="190" y="296" width="5" height="5" fill="#00ff43"/>
<rect x="195" y="296" width="10" height="5" fill="#00ff9c"/>
<rect x="205" y="296" width="10" height="5" fill="#00ffae"/>
<rect x="215" y="296" width="10" height="5" fill="#00ffe3"/>
<rect x="225" y="296" width="5" height="5" fill="#00ffae"/>
<rect x="230" y="296" width="5" height="5" fill="#00ff9c"/>
<rect x="235" y="296" width="5" height="5" fill="#00ff43"/>
<rect x="240" y="296" width="40" height="5" fill="#00ff32"/>
<rect x="280" y="296" width="5" height="5" fill="#00ff43"/>
<rect x="285" y="296" width="5" height="5" fill="#00ff9c"/>
<rect x="290" y="296" width="50" height="5" fill="#00ffae"/>
<rect x="340" y="296" width="5" height="5" fill="#00ff9c"/>
<rect x="345" y="296" width="5" height="5" fill="#00ff43"/>
<rect x="350" y="296" width="5" height="5" fill="#00ff20"/>
<rect x="355" y="296" width="10" height="5" fill="#97ff00"/>
<rect x="365" y="296" width="5" height="5" fill="#00ffd1"/>
<rect x="370" y="296" width="5" height="5" fill="#00fff4"/>
<rect x="375" y="296" width="50" height="5" fill="#00bfff"/>
<rect x="425" y="296" width="4" height="5" fill="#00ffbf"/>
<rect x="135" y="301" width="5" height="5" fill="#35ff00"/>
<rect x="140" y="301" width="5" height="5" fill="#1dff00"/>
<rect x="145" y="301" width="50" height="5" fill="#00ff32"/>
<rect x="195" y="301" width="10" height="5" fill="#00ff43"/>
<rect x="205" y="301" width="5" height="5" fill="#00ff9c"/>
<rect x="210" y="301" width="15" height="5" fill="#00ffae"/>
<rect x="225" y="301" width="10" height="5" fill="#00ff43"/>
<rect x="235" y="301" width="45" height="5" fill="#00ff32"/>
<rect x="280" y="301" width="5" height="5" fill="#00ff43"/>
<rect x="285" y="301" width="5" height="5" fill="#00ff9c"/>
<rect x="290" y="301" width="50" height="5" fill="#00ffae"/>
<rect x="340" y="301" width="5" height="5" fill="#00ff9c"/>
<rect x="345" y="301" width="5" height="5" fill="#00ff43"/>
<rect x="350" y="301" width="5" height="5" fill="#00ff20"/>
<rect x="355" y="301" width="10" height="5" fill="#dfff00"/>
<rect x="365" y="301" width="5" height="5" fill="#00ff9c"/>
<rect x="370" y="301" width="5" height="5" fill="#00ffae"/>
<rect x="375" y="301" width="50" height="5" fill="#00fff4"/>
<rect x="425" y="301" width="4" height="5" fill="#00ffae"/>
<rect x="135" y="312" width="10" height="5" fill="#35ff00"/>
<rect x="145" y="312" width="60" height="5" fill="#00ff32"/>
<rect x="205" y="312" width="10" height="5" fill="#35ff00"/>
<rect x="215" y="312" width="5" height="5" fill="#00ff32"/>
<rect x="220" y="312" width="5" height="5" fill="#00ff43"/>
<rect x="225" y="312" width="10" height="5" fill="#00ff9c"/>
<rect x="235" y="312" width="5" height="5" fill="#00ff43"/>
<rect x="240" y="312" width="10" height="5" fill="#00ff32"/>
<rect x="250" y="312" width="5" height="5" fill="#00ff43"/>
<rect x="255" y="312" width="5" height="5" fill="#00ff9c"/>
<rect x="260" y="312" width="45" height="5" fill="#00ffae"/>
<rect x="305" y="312" width="40" height="5" fill="#00fff4"/>
<rect x="345" y="312" width="5" height="5" fill="#00ffae"/>
<rect x="350" y="312" width="5" height="5" fill="#00ff9c"/>
<rect x="355" y="312" width="10" height="5" fill="#1dff00"/>
<rect x="365" y="312" width="5" height="5" fill="#00ff9c"/>
<rect x="370" y="312" width="45" height="5" fill="#00ffae"/>
<rect x="415" y="312" width="10" height="5" fill="#00fff4"/>
<rect x="425" y="312" width="4" height="5" fill="#00bfff"/>
<rect x="135" y="317" width="5" height="5" fill="#4eff00"/>
<rect x="140" y="317" width="5" height="5" fill="#35ff00"/>
<rect x="145" y="317" width="10" height="5" fill="#00ff20"/>
<rect x="155" y="317" width="50" height="5" fill="#00ff32"/>
<rect x="205" y="317" width="10" height="5" fill="#35ff00"/>
<rect x="215" y="317" width="5" height="5" fill="#00ff32"/>
<rect x="220" y="317" width="5" height="5" fill="#00ff43"/>
<rect x="225" y="317" width="10" height="5" fill="#00ff9c"/>
<rect x="235" y="317" width="5" height="5" fill="#00ff43"/>
<rect x="240" y="317" width="10" height="5" fill="#00ff32"/>
<rect x="250" y="317" width="5" height="5" fill="#00ff43"/>
<rect x="255" y="317" width="45" height="5" fill="#00ff9c"/>
<rect x="300" y="317" width="5" height="5" fill="#00ffae"/>
<rect x="305" y="317" width="20" height="5" fill="#00ffe3"/>
<rect x="325" y="317" width="20" height="5" fill="#00fff4"/>
<rect x="345" y="317" width="5" height="5" fill="#00ffae"/>
<rect x="350" y="317" width="5" height="5" fill="#00ff9c"/>
<rect x="355" y="317" width="10" height="5" fill="#1dff00"/>
<rect x="365" y="317" width="35" height="5" fill="#00ff8a"/>
<rect x="400" y="317" width="15" height="5" fill="#00ff9c"/>
<rect x="415" y="317" width="10" height="5" fill="#00ffe3"/>
<rect x="425" y="317" width="4" height="5" fill="#00bfff"/>
<rect x="135" y="322" width="10" height="5" fill="#afff00"/>
<rect x="145" y="322" width="10" height="5" fill="#97ff00"/>
<rect x="155" y="322" width="15" height="5" fill="#35ff00"/>
<rect x="170" y="322" width="5" height="5" fill="#1dff00"/>
<rect x="175" y="322" width="30" height="5" fill="#00ff32"/>
<rect x="205" y="322" width="10" height="5" fill="#35ff00"/>
<rect x="215" y="322" width="10" height="5" fill="#00ff32"/>
<rect x="225" y="322" width="10" height="5" fill="#00ff43"/>
<rect x="235" y="322" width="20" height="5" fill="#00ff32"/>
<rect x="255" y="322" width="65" height="5" fill="#00ff43"/>
<rect x="320" y="322" width="5" height="5" fill="#00ff55"/>
<rect x="325" y="322" width="10" height="5" fill="#00ffae"/>
<rect x="335" y="322" width="15" height="5" fill="#00fff4"/>
<rect x="350" y="322" width="5" height="5" fill="#00ffe3"/>
<rect x="355" y="322" width="5" height="5" fill="#00ff43"/>
<rect x="360" y="322" width="5" height="5" fill="#00ff20"/>
<rect x="365" y="322" width="5" height="5" fill="#7eff00"/>
<rect x="370" y="322" width="5" height="5" fill="#97ff00"/>
<rect x="375" y="322" width="20" height="5" fill="#dfff00"/>
<rect x="395" y="322" width="5" height="5" fill="#97ff00"/>
<rect x="400" y="322" width="5" height="5" fill="#7eff00"/>
<rect x="405" y="322" width="5" height="5" fill="#35ff00"/>
<rect x="410" y="322" width="5" height="5" fill="#1dff00"/>
<rect x="415" y="322" width="5" height="5" fill="#00ff43"/>
<rect x="420" y="322" width="5" height="5" fill="#00ff55"/>
<rect x="425" y="322" width="4" height="5" fill="#00ff9c"/>
<rect x="135" y="327" width="20" height="5" fill="#afff00"/>
<rect x="155" y="327" width="15" height="5" fill="#4eff00"/>
<rect x="170" y="327" width="5" height="5" fill="#35ff00"/>
<rect x="175" y="327" width="5" height="5" fill="#00ff20"/>
<rect x="180" y="327" width="20" height="5" fill="#00ff32"/>
<rect x="200" y="327" width="5" height="5" fill="#00ff20"/>
<rect x="205" y="327" width="10" height="5" fill="#35ff00"/>
<rect x="215" y="327" width="105" height="5" fill="#00ff32"/>
<rect x="320" y="327" width="5" height="5" fill="#00ff43"/>
<rect x="325" y="327" width="5" height="5" fill="#00ff9c"/>
<rect x="330" y="327" width="5" height="5" fill="#00ffae"/>
<rect x="335" y="327" width="15" height="5" fill="#00fff4"/>
<rect x="350" y="327" width="5" height="5" fill="#00ffe3"/>
<rect x="355" y="327" width="5" height="5" fill="#00ff43"/>
<rect x="360" y="327" width="5" height="5" fill="#00ff20"/>
<rect x="365" y="327" width="5" height="5" fill="#97ff00"/>
<rect x="370" y="327" width="5" height="5" fill="#c7ff00"/>
<rect x="375" y="327" width="20" height="5" fill="#fff600"/>
<rect x="395" y="327" width="5" height="5" fill="#c7ff00"/>
<rect x="400" y="327" width="5" height="5" fill="#afff00"/>
<rect x="405" y="327" width="5" height="5" fill="#4eff00"/>
<rect x="410" y="327" width="5" height="5" fill="#35ff00"/>
<rect x="415" y="327" width="5" height="5" fill="#00ff20"/>
<rect x="420" y="327" width="5" height="5" fill="#00ff32"/>
<rect x="425" y="327" width="4" height="5" fill="#00ff8a"/>
<rect x="135" y="332" width="10" height="5" fill="#afff00"/>
<rect x="145" y="332" width="20" height="5" fill="#f8ff00"/>
<rect x="165" y="332" width="5" height="5" fill="#afff00"/>
<rect x="170" y="332" width="5" height="5" fill="#97ff00"/>
<rect x="175" y="332" width="5" height="5" fill="#35ff00"/>
<rect x="180" y="332" width="5" height="5" fill="#1dff00"/>
<rect x="185" y="332" width="10" height="5" fill="#00ff32"/>
<rect x="195" y="332" width="5" height="5" fill="#1dff00"/>
<rect x="200" y="332" width="15" height="5" fill="#35ff00"/>
<rect x="215" y="332" width="10" height="5" fill="#00ff32"/>
<rect x="225" y="332" width="10" height="5" fill="#1dff00"/>
<rect x="235" y="332" width="10" height="5" fill="#00ff32"/>
<rect x="245" y="332" width="10" height="5" fill="#1dff00"/>
<rect x="255" y="332" width="65" height="5" fill="#00ff32"/>
<rect x="320" y="332" width="5" height="5" fill="#00ff43"/>
<rect x="325" y="332" width="5" height="5" fill="#00ff9c"/>
<rect x="330" y="332" width="5" height="5" fill="#00ffae"/>
<rect x="335" y="332" width="15" height="5" fill="#00fff4"/>
<rect x="350" y="332" width="5" height="5" fill="#00ffe3"/>
<rect x="355" y="332" width="5" height="5" fill="#1dff00"/>
<rect x="360" y="332" width="5" height="5" fill="#35ff00"/>
<rect x="365" y="332" width="5" height="5" fill="#f8ff00"/>
<rect x="370" y="332" width="5" height="5" fill="#fff600"/>
<rect x="375" y="332" width="20" height="5" fill="#ffd100"/>
<rect x="395" y="332" width="5" height="5" fill="#fff600"/>
<rect x="400" y="332" width="5" height="5" fill="#f8ff00"/>
<rect x="405" y="332" width="5" height="5" fill="#afff00"/>
<rect x="410" y="332" width="5" height="5" fill="#97ff00"/>
<rect x="415" y="332" width="5" height="5" fill="#35ff00"/>
<rect x="420" y="332" width="5" height="5" fill="#1dff00"/>
<rect x="425" y="332" width="4" height="5" fill="#00ff32"/>
<rect x="135" y="337" width="5" height="5" fill="#afff00"/>
<rect x="140" y="337" width="5" height="5" fill="#c7ff00"/>
<rect x="145" y="337" width="5" height="5" fill="#f8ff00"/>
<rect x="150" y="337" width="10" height="5" fill="#fff600"/>
<rect x="160" y="337" width="5" height="5" fill="#f8ff00"/>
<rect x="165" y="337" width="5" height="5" fill="#c7ff00"/>
<rect x="170" y="337" width="5" height="5" fill="#afff00"/>
<rect x="175" y="337" width="5" height="5" fill="#4eff00"/>
<rect x="180" y="337" width="5" height="5" fill="#35ff00"/>
<rect x="185" y="337" width="10" height="5" fill="#00ff32"/>
<rect x="195" y="337" width="20" height="5" fill="#35ff00"/>
<rect x="215" y="337" width="10" height="5" fill="#00ff32"/>
<rect x="225" y="337" width="10" height="5" fill="#1dff00"/>
<rect x="235" y="337" width="10" height="5" fill="#00ff32"/>
<rect x="245" y="337" width="10" height="5" fill="#1dff00"/>
<rect x="255" y="337" width="50" height="5" fill="#00ff32"/>
<rect x="305" y="337" width="20" height="5" fill="#00ff43"/>
<rect x="325" y="337" width="10" height="5" fill="#00ffae"/>
<rect x="335" y="337" width="10" height="5" fill="#00fff4"/>
<rect x="345" y="337" width="5" height="5" fill="#00ffe3"/>
<rect x="350" y="337" width="5" height="5" fill="#00ffd1"/>
<rect x="355" y="337" width="5" height="5" fill="#1dff00"/>
<rect x="360" y="337" width="5" height="5" fill="#4eff00"/>
<rect x="365" y="337" width="5" height="5" fill="#f8ff00"/>
<rect x="370" y="337" width="5" height="5" fill="#fff600"/>
<rect x="375" y="337" width="5" height="5" fill="#ffd100"/>
<rect x="380" y="337" width="10" height="5" fill="#ffc500"/>
<rect x="390" y="337" width="5" height="5" fill="#ffd100"/>
<rect x="395" y="337" width="5" height="5" fill="#fff600"/>
<rect x="400" y="337" width="5" height="5" fill="#f8ff00"/>
<rect x="405" y="337" width="5" height="5" fill="#c7ff00"/>
<rect x="410" y="337" width="5" height="5" fill="#afff00"/>
<rect x="415" y="337" width="5" height="5" fill="#4eff00"/>
<rect x="420" y="337" width="5" height="5" fill="#35ff00"/>
<rect x="425" y="337" width="4" height="5" fill="#00ff20"/>
<rect x="135" y="342" width="10" height="5" fill="#f8ff00"/>
<rect x="145" y="342" width="20" height="5" fill="#fff600"/>
<rect x="165" y="342" width="10" height="5" fill="#f8ff00"/>
<rect x="175" y="342" width="5" height="5" fill="#4eff00"/>
<rect x="180" y="342" width="5" height="5" fill="#35ff00"/>
<rect x="185" y="342" width="10" height="5" fill="#00ff32"/>
<rect x="195" y="342" width="20" height="5" fill="#35ff00"/>
<rect x="215" y="342" width="85" height="5" fill="#00ff32"/>
<rect x="300" y="342" width="5" height="5" fill="#00ff43"/>
<rect x="305" y="342" width="15" height="5" fill="#00ff9c"/>
<rect x="320" y="342" width="5" height="5" fill="#00ffae"/>
<rect x="325" y="342" width="5" height="5" fill="#00ffe3"/>
<rect x="330" y="342" width="10" height="5" fill="#00fff4"/>
<rect x="340" y="342" width="5" height="5" fill="#00ffe3"/>
<rect x="345" y="342" width="5" height="5" fill="#00ff55"/>
<rect x="350" y="342" width="5" height="5" fill="#00ff32"/>
<rect x="355" y="342" width="5" height="5" fill="#97ff00"/>
<rect x="360" y="342" width="5" height="5" fill="#afff00"/>
<rect x="365" y="342" width="5" height="5" fill="#f8ff00"/>
<rect x="370" y="342" width="5" height="5" fill="#fff600"/>
<rect x="375" y="342" width="5" height="5" fill="#ffd100"/>
<rect x="380" y="342" width="10" height="5" fill="#ffc500"/>
<rect x="390" y="342" width="5" height="5" fill="#ffd100"/>
<rect x="395" y="342" width="10" height="5" fill="#fff600"/>
<rect x="405" y="342" width="10" height="5" fill="#f8ff00"/>
<rect x="415" y="342" width="5" height="5" fill="#4eff00"/>
<rect x="420" y="342" width="5" height="5" fill="#35ff00"/>
<rect x="425" y="342" width="4" height="5" fill="#00ff20"/>
<rect x="135" y="347" width="10" height="5" fill="#fff600"/>
<rect x="145" y="347" width="10" height="5" fill="#f8ff00"/>
<rect x="155" y="347" width="10" height="5" fill="#fff600"/>
<rect x="165" y="347" width="10" height="5" fill="#f8ff00"/>
<rect x="175" y="347" width="5" height="5" fill="#4eff00"/>
<rect x="180" y="347" width="5" height="5" fill="#35ff00"/>
<rect x="185" y="347" width="10" height="5" fill="#00ff32"/>
<rect x="195" y="347" width="15" height="5" fill="#35ff00"/>
<rect x="210" y="347" width="5" height="5" fill="#1dff00"/>
<rect x="215" y="347" width="70" height="5" fill="#00ff32"/>
<rect x="285" y="347" width="20" height="5" fill="#00ff43"/>
<rect x="305" y="347" width="5" height="5" fill="#00ff9c"/>
<rect x="310" y="347" width="15" height="5" fill="#00ffae"/>
<rect x="325" y="347" width="5" height="5" fill="#00ffe3"/>
<rect x="330" y="347" width="5" height="5" fill="#00fff4"/>
<rect x="335" y="347" width="5" height="5" fill="#00ffe3"/>
<rect x="340" y="347" width="5" height="5" fill="#00ffd1"/>
<rect x="345" y="347" width="5" height="5" fill="#00ff43"/>
<rect x="350" y="347" width="5" height="5" fill="#00ff20"/>
<rect x="355" y="347" width="5" height="5" fill="#97ff00"/>
<rect x="360" y="347" width="5" height="5" fill="#afff00"/>
<rect x="365" y="347" width="5" height="5" fill="#f8ff00"/>
<rect x="370" y="347" width="5" height="5" fill="#fff600"/>
<rect x="375" y="347" width="5" height="5" fill="#ffd100"/>
<rect x="380" y="347" width="10" height="5" fill="#ffc500"/>
<rect x="390" y="347" width="5" height="5" fill="#ffd100"/>
<rect x="395" y="347" width="15" height="5" fill="#fff600"/>
<rect x="410" y="347" width="5" height="5" fill="#f8ff00"/>
<rect x="415" y="347" width="5" height="5" fill="#4eff00"/>
<rect x="420" y="347" width="5" height="5" fill="#35ff00"/>
<rect x="425" y="347" width="4" height="5" fill="#00ff20"/>
<rect x="135" y="352" width="5" height="5" fill="#fff600"/>
<rect x="140" y="352" width="5" height="5" fill="#f8ff00"/>
<rect x="145" y="352" width="10" height="5" fill="#c7ff00"/>
<rect x="155" y="352" width="10" height="5" fill="#f8ff00"/>
<rect x="165" y="352" width="5" height="5" fill="#c7ff00"/>
<rect x="170" y="352" width="5" height="5" fill="#afff00"/>
<rect x="175" y="352" width="5" height="5" fill="#4eff00"/>
<rect x="180" y="352" width="5" height="5" fill="#35ff00"/>
<rect x="185" y="352" width="10" height="5" fill="#00ff32"/>
<rect x="195" y="352" width="10" height="5" fill="#35ff00"/>
<rect x="205" y="352" width="5" height="5" fill="#00ff20"/>
<rect x="210" y="352" width="70" height="5" fill="#00ff32"/>
<rect x="280" y="352" width="5" height="5" fill="#00ff43"/>
<rect x="285" y="352" width="20" height="5" fill="#00ff9c"/>
<rect x="305" y="352" width="10" height="5" fill="#00ffae"/>
<rect x="315" y="352" width="10" height="5" fill="#00ffe3"/>
<rect x="325" y="352" width="10" height="5" fill="#00ffae"/>
<rect x="335" y="352" width="5" height="5" fill="#00ff55"/>
<rect x="340" y="352" width="5" height="5" fill="#00ff43"/>
<rect x="345" y="352" width="10" height="5" fill="#00ff32"/>
<rect x="355" y="352" width="5" height="5" fill="#35ff00"/>
<rect x="360" y="352" width="5" height="5" fill="#4eff00"/>
<rect x="365" y="352" width="5" height="5" fill="#f8ff00"/>
<rect x="370" y="352" width="5" height="5" fill="#fff600"/>
<rect x="375" y="352" width="5" height="5" fill="#ffd100"/>
<rect x="380" y="352" width="10" height="5" fill="#ffc500"/>
<rect x="390" y="352" width="5" height="5" fill="#ffd100"/>
<rect x="395" y="352" width="15" height="5" fill="#fff600"/>
<rect x="410" y="352" width="5" height="5" fill="#f8ff00"/>
<rect x="415" y="352" width="5" height="5" fill="#afff00"/>
<rect x="420" y="352" width="5" height="5" fill="#97ff00"/>
<rect x="425" y="352" width="4" height="5" fill="#35ff00"/>
<rect x="135" y="357" width="5" height="5" fill="#f8ff00"/>
<rect x="140" y="357" width="5" height="5" fill="#dfff00"/>
<rect x="145" y="357" width="10" height="5" fill="#97ff00"/>
<rect x="155" y="357" width="10" height="5" fill="#dfff00"/>
<rect x="165" y="357" width="10" height="5" fill="#97ff00"/>
<rect x="175" y="357" width="5" height="5" fill="#35ff00"/>
<rect x="180" y="357" width="5" height="5" fill="#1dff00"/>
<rect x="185" y="357" width="10" height="5" fill="#00ff32"/>
<rect x="195" y="357" width="10" height="5" fill="#35ff00"/>
<rect x="205" y="357" width="30" height="5" fill="#00ff20"/>
<rect x="235" y="357" width="30" height="5" fill="#00ff32"/>
<rect x="265" y="357" width="20" height="5" fill="#00ff43"/>
<rect x="285" y="357" width="5" height="5" fill="#00ff9c"/>
<rect x="290" y="357" width="25" height="5" fill="#00ffae"/>
<rect x="315" y="357" width="10" height="5" fill="#00ffe3"/>
<rect x="325" y="357" width="5" height="5" fill="#00ffae"/>
<rect x="330" y="357" width="5" height="5" fill="#00ff9c"/>
<rect x="335" y="357" width="5" height="5" fill="#00ff43"/>
<rect x="340" y="357" width="15" height="5" fill="#00ff32"/>
<rect x="355" y="357" width="5" height="5" fill="#35ff00"/>
<rect x="360" y="357" width="5" height="5" fill="#4eff00"/>
<rect x="365" y="357" width="5" height="5" fill="#f8ff00"/>
<rect x="370" y="357" width="5" height="5" fill="#fff600"/>
<rect x="375" y="357" width="20" height="5" fill="#ffd100"/>
<rect x="395" y="357" width="15" height="5" fill="#fff600"/>
<rect x="410" y="357" width="5" height="5" fill="#f8ff00"/>
<rect x="415" y="357" width="10" height="5" fill="#afff00"/>
<rect x="425" y="357" width="4" height="5" fill="#4eff00"/>
<rect x="135" y="362" width="40" height="5" fill="#00ff20"/>
<rect x="175" y="362" width="20" height="5" fill="#00ff32"/>
<rect x="195" y="362" width="5" height="5" fill="#35ff00"/>
<rect x="200" y="362" width="5" height="5" fill="#4eff00"/>
<rect x="205" y="362" width="5" height="5" fill="#dfff00"/>
<rect x="210" y="362" width="10" height="5" fill="#f8ff00"/>
<rect x="220" y="362" width="5" height="5" fill="#dfff00"/>
<rect x="225" y="362" width="10" height="5" fill="#97ff00"/>
<rect x="235" y="362" width="5" height="5" fill="#35ff00"/>
<rect x="240" y="362" width="5" height="5" fill="#1dff00"/>
<rect x="245" y="362" width="15" height="5" fill="#00ff32"/>
<rect x="260" y="362" width="5" height="5" fill="#00ff43"/>
<rect x="265" y="362" width="20" height="5" fill="#00ff9c"/>
<rect x="285" y="362" width="10" height="5" fill="#00ffae"/>
<rect x="295" y="362" width="10" height="5" fill="#00ffe3"/>
<rect x="305" y="362" width="5" height="5" fill="#00ffae"/>
<rect x="310" y="362" width="5" height="5" fill="#00ff9c"/>
<rect x="315" y="362" width="20" height="5" fill="#00ff43"/>
<rect x="335" y="362" width="20" height="5" fill="#00ff32"/>
<rect x="355" y="362" width="5" height="5" fill="#35ff00"/>
<rect x="360" y="362" width="5" height="5" fill="#4eff00"/>
<rect x="365" y="362" width="5" height="5" fill="#afff00"/>
<rect x="370" y="362" width="5" height="5" fill="#c7ff00"/>
<rect x="375" y="362" width="35" height="5" fill="#fff600"/>
<rect x="410" y="362" width="5" height="5" fill="#f8ff00"/>
<rect x="415" y="362" width="14" height="5" fill="#afff00"/>
<rect x="135" y="367" width="60" height="5" fill="#00ff32"/>
<rect x="195" y="367" width="5" height="5" fill="#35ff00"/>
<rect x="200" y="367" width="5" height="5" fill="#4eff00"/>
<rect x="205" y="367" width="20" height="5" fill="#f8ff00"/>
<rect x="225" y="367" width="5" height="5" fill="#afff00"/>
<rect x="230" y="367" width="5" height="5" fill="#97ff00"/>
<rect x="235" y="367" width="5" height="5" fill="#35ff00"/>
<rect x="240" y="367" width="5" height="5" fill="#1dff00"/>
<rect x="245" y="367" width="5" height="5" fill="#00ff32"/>
<rect x="250" y="367" width="10" height="5" fill="#00ff43"/>
<rect x="260" y="367" width="5" height="5" fill="#00ff55"/>
<rect x="265" y="367" width="30" height="5" fill="#00ffae"/>
<rect x="295" y="367" width="10" height="5" fill="#00fff4"/>
<rect x="305" y="367" width="5" height="5" fill="#00ffae"/>
<rect x="310" y="367" width="5" height="5" fill="#00ff9c"/>
<rect x="315" y="367" width="5" height="5" fill="#00ff43"/>
<rect x="320" y="367" width="35" height="5" fill="#00ff32"/>
<rect x="355" y="367" width="5" height="5" fill="#1dff00"/>
<rect x="360" y="367" width="5" height="5" fill="#35ff00"/>
<rect x="365" y="367" width="10" height="5" fill="#afff00"/>
<rect x="375" y="367" width="5" height="5" fill="#f8ff00"/>
<rect x="380" y="367" width="25" height="5" fill="#fff600"/>
<rect x="405" y="367" width="10" height="5" fill="#f8ff00"/>
<rect x="415" y="367" width="14" height="5" fill="#afff00"/>
<rect x="135" y="372" width="60" height="5" fill="#00ff32"/>
<rect x="195" y="372" width="5" height="5" fill="#35ff00"/>
<rect x="200" y="372" width="5" height="5" fill="#4eff00"/>
<rect x="205" y="372" width="20" height="5" fill="#afff00"/>
<rect x="225" y="372" width="5" height="5" fill="#4eff00"/>
<rect x="230" y="372" width="5" height="5" fill="#35ff00"/>
<rect x="235" y="372" width="5" height="5" fill="#00ff20"/>
<rect x="240" y="372" width="5" height="5" fill="#00ff32"/>
<rect x="245" y="372" width="5" height="5" fill="#00ff9c"/>
<rect x="250" y="372" width="5" height="5" fill="#00ffae"/>
<rect x="255" y="372" width="10" height="5" fill="#00ffe3"/>
<rect x="265" y="372" width="10" height="5" fill="#00fff4"/>
<rect x="275" y="372" width="10" height="5" fill="#00bfff"/>
<rect x="285" y="372" width="20" height="5" fill="#00fff4"/>
<rect x="305" y="372" width="5" height="5" fill="#00ffae"/>
<rect x="310" y="372" width="5" height="5" fill="#00ff9c"/>
<rect x="315" y="372" width="5" height="5" fill="#00ff43"/>
<rect x="320" y="372" width="40" height="5" fill="#00ff32"/>
<rect x="360" y="372" width="5" height="5" fill="#00ff20"/>
<rect x="365" y="372" width="5" height="5" fill="#97ff00"/>
<rect x="370" y="372" width="5" height="5" fill="#afff00"/>
<rect x="375" y="372" width="5" height="5" fill="#f8ff00"/>
<rect x="380" y="372" width="20" height="5" fill="#fff600"/>
<rect x="400" y="372" width="5" height="5" fill="#f8ff00"/>
<rect x="405" y="372" width="5" height="5" fill="#c7ff00"/>
<rect x="410" y="372" width="19" height="5" fill="#afff00"/>
<rect x="135" y="377" width="60" height="5" fill="#00ff32"/>
<rect x="195" y="377" width="5" height="5" fill="#1dff00"/>
<rect x="200" y="377" width="5" height="5" fill="#35ff00"/>
<rect x="205" y="377" width="10" height="5" fill="#afff00"/>
<rect x="215" y="377" width="10" height="5" fill="#97ff00"/>
<rect x="225" y="377" width="5" height="5" fill="#35ff00"/>
<rect x="230" y="377" width="5" height="5" fill="#1dff00"/>
<rect x="235" y="377" width="5" height="5" fill="#00ff32"/>
<rect x="240" y="377" width="5" height="5" fill="#00ff43"/>
<rect x="245" y="377" width="5" height="5" fill="#00ff9c"/>
<rect x="250" y="377" width="5" height="5" fill="#00ffae"/>
<rect x="255" y="377" width="20" height="5" fill="#00fff4"/>
<rect x="275" y="377" width="10" height="5" fill="#00bfff"/>
<rect x="285" y="377" width="20" height="5" fill="#00fff4"/>
<rect x="305" y="377" width="5" height="5" fill="#00ffae"/>
<rect x="310" y="377" width="5" height="5" fill="#00ff9c"/>
<rect x="315" y="377" width="5" height="5" fill="#00ff43"/>
<rect x="320" y="377" width="40" height="5" fill="#00ff32"/>
<rect x="360" y="377" width="5" height="5" fill="#00ff20"/>
<rect x="365" y="377" width="5" height="5" fill="#97ff00"/>
<rect x="370" y="377" width="5" height="5" fill="#afff00"/>
<rect x="375" y="377" width="10" height="5" fill="#f8ff00"/>
<rect x="385" y="377" width="15" height="5" fill="#fff600"/>
<rect x="400" y="377" width="5" height="5" fill="#f8ff00"/>
<rect x="405" y="377" width="24" height="5" fill="#afff00"/>
<rect x="135" y="382" width="65" height="5" fill="#00ff32"/>
<rect x="200" y="382" width="5" height="5" fill="#00ff20"/>
<rect x="205" y="382" width="10" height="5" fill="#97ff00"/>
<rect x="215" y="382" width="10" height="5" fill="#00ff20"/>
<rect x="225" y="382" width="10" height="5" fill="#00ff32"/>
<rect x="235" y="382" width="10" height="5" fill="#00ff9c"/>
<rect x="245" y="382" width="10" height="5" fill="#00ffae"/>
<rect x="255" y="382" width="30" height="5" fill="#00bfff"/>
<rect x="285" y="382" width="20" height="5" fill="#00fff4"/>
<rect x="305" y="382" width="5" height="5" fill="#00ffae"/>
<rect x="310" y="382" width="5" height="5" fill="#00ff9c"/>
<rect x="315" y="382" width="5" height="5" fill="#00ff43"/>
<rect x="320" y="382" width="45" height="5" fill="#00ff32"/>
<rect x="365" y="382" width="5" height="5" fill="#35ff00"/>
<rect x="370" y="382" width="5" height="5" fill="#4eff00"/>
<rect x="375" y="382" width="5" height="5" fill="#afff00"/>
<rect x="380" y="382" width="5" height="5" fill="#c7ff00"/>
<rect x="385" y="382" width="5" height="5" fill="#f8ff00"/>
<rect x="390" y="382" width="10" height="5" fill="#fff600"/>
<rect x="400" y="382" width="5" height="5" fill="#f8ff00"/>
<rect x="405" y="382" width="10" height="5" fill="#afff00"/>
<rect x="415" y="382" width="14" height="5" fill="#4eff00"/>
<rect x="135" y="387" width="60" height="5" fill="#00ff43"/>
<rect x="195" y="387" width="5" height="5" fill="#00ff32"/>
<rect x="200" y="387" width="5" height="5" fill="#00ff20"/>
<rect x="205" y="387" width="10" height="5" fill="#97ff00"/>
<rect x="215" y="387" width="5" height="5" fill="#00ff20"/>
<rect x="220" y="387" width="10" height="5" fill="#00ff32"/>
<rect x="230" y="387" width="5" height="5" fill="#00ff43"/>
<rect x="235" y="387" width="5" height="5" fill="#00ff9c"/>
<rect x="240" y="387" width="15" height="5" fill="#00ffae"/>
<rect x="255" y="387" width="30" height="5" fill="#00bfff"/>
<rect x="285" y="387" width="15" height="5" fill="#00fff4"/>
<rect x="300" y="387" width="5" height="5" fill="#00ffe3"/>
<rect x="305" y="387" width="5" height="5" fill="#00ffae"/>
<rect x="310" y="387" width="5" height="5" fill="#00ff9c"/>
<rect x="315" y="387" width="5" height="5" fill="#00ff43"/>
<rect x="320" y="387" width="45" height="5" fill="#00ff32"/>
<rect x="365" y="387" width="5" height="5" fill="#35ff00"/>
<rect x="370" y="387" width="5" height="5" fill="#4eff00"/>
<rect x="375" y="387" width="10" height="5" fill="#afff00"/>
<rect x="385" y="387" width="5" height="5" fill="#f8ff00"/>
<rect x="390" y="387" width="5" height="5" fill="#fff600"/>
<rect x="395" y="387" width="10" height="5" fill="#f8ff00"/>
<rect x="405" y="387" width="10" height="5" fill="#afff00"/>
<rect x="415" y="387" width="5" height="5" fill="#4eff00"/>
<rect x="420" y="387" width="9" height="5" fill="#35ff00"/>
<rect x="135" y="392" width="60" height="5" fill="#00ff9c"/>
<rect x="195" y="392" width="5" height="5" fill="#00ff43"/>
<rect x="200" y="392" width="5" height="5" fill="#00ff20"/>
<rect x="205" y="392" width="10" height="5" fill="#97ff00"/>
<rect x="215" y="392" width="5" height="5" fill="#00ff20"/>
<rect x="220" y="392" width="10" height="5" fill="#00ff32"/>
<rect x="230" y="392" width="5" height="5" fill="#00ff43"/>
<rect x="235" y="392" width="5" height="5" fill="#00ff9c"/>
<rect x="240" y="392" width="15" height="5" fill="#00ffae"/>
<rect x="255" y="392" width="30" height="5" fill="#00bfff"/>
<rect x="285" y="392" width="10" height="5" fill="#00fff4"/>
<rect x="295" y="392" width="15" height="5" fill="#00ffae"/>
<rect x="310" y="392" width="5" height="5" fill="#00ff9c"/>
<rect x="315" y="392" width="5" height="5" fill="#00ff43"/>
<rect x="320" y="392" width="45" height="5" fill="#00ff32"/>
<rect x="365" y="392" width="5" height="5" fill="#35ff00"/>
<rect x="370" y="392" width="5" height="5" fill="#4eff00"/>
<rect x="375" y="392" width="10" height="5" fill="#afff00"/>
<rect x="385" y="392" width="10" height="5" fill="#f8ff00"/>
<rect x="395" y="392" width="5" height="5" fill="#c7ff00"/>
<rect x="400" y="392" width="15" height="5" fill="#afff00"/>
<rect x="415" y="392" width="5" height="5" fill="#4eff00"/>
<rect x="420" y="392" width="5" height="5" fill="#35ff00"/>
<rect x="425" y="392" width="4" height="5" fill="#00ff20"/>
<rect x="135" y="397" width="60" height="5" fill="#00ff9c"/>
<rect x="195" y="397" width="5" height="5" fill="#00ff43"/>
<rect x="200" y="397" width="5" height="5" fill="#00ff20"/>
<rect x="205" y="397" width="10" height="5" fill="#97ff00"/>
<rect x="215" y="397" width="5" height="5" fill="#00ff20"/>
<rect x="220" y="397" width="10" height="5" fill="#00ff32"/>
<rect x="230" y="397" width="5" height="5" fill="#00ff43"/>
<rect x="235" y="397" width="15" height="5" fill="#00ff9c"/>
<rect x="250" y="397" width="5" height="5" fill="#00ffae"/>
<rect x="255" y="397" width="30" height="5" fill="#00bfff"/>
<rect x="285" y="397" width="5" height="5" fill="#00fff4"/>
<rect x="290" y="397" width="5" height="5" fill="#00ffe3"/>
<rect x="295" y="397" width="10" height="5" fill="#00ffae"/>
<rect x="305" y="397" width="10" height="5" fill="#00ff9c"/>
<rect x="315" y="397" width="5" height="5" fill="#00ff43"/>
<rect x="320" y="397" width="45" height="5" fill="#00ff32"/>
<rect x="365" y="397" width="5" height="5" fill="#35ff00"/>
<rect x="370" y="397" width="5" height="5" fill="#4eff00"/>
<rect x="375" y="397" width="10" height="5" fill="#afff00"/>
<rect x="385" y="397" width="10" height="5" fill="#f8ff00"/>
<rect x="395" y="397" width="15" height="5" fill="#afff00"/>
<rect x="410" y="397" width="5" height="5" fill="#97ff00"/>
<rect x="415" y="397" width="5" height="5" fill="#4eff00"/>
<rect x="420" y="397" width="5" height="5" fill="#35ff00"/>
<rect x="425" y="397" width="4" height="5" fill="#00ff20"/>
<rect x="135" y="402" width="60" height="3" fill="#00ff55"/>
<rect x="195" y="402" width="5" height="3" fill="#00ff32"/>
<rect x="200" y="402" width="5" height="3" fill="#00ff20"/>
<rect x="205" y="402" width="10" height="3" fill="#97ff00"/>
<rect x="215" y="402" width="5" height="3" fill="#00ff20"/>
<rect x="220" y="402" width="15" height="3" fill="#00ff32"/>
<rect x="235" y="402" width="20" height="3" fill="#00ff55"/>
<rect x="255" y="402" width="5" height="3" fill="#00fff4"/>
<rect x="260" y="402" width="20" height="3" fill="#00edff"/>
<rect x="280" y="402" width="5" height="3" fill="#00fff4"/>
<rect x="285" y="402" width="10" height="3" fill="#00ffbf"/>
<rect x="295" y="402" width="5" height="3" fill="#00ffae"/>
<rect x="300" y="402" width="5" height="3" fill="#00ff9c"/>
<rect x="305" y="402" width="10" height="3" fill="#00ff55"/>
<rect x="315" y="402" width="50" height="3" fill="#00ff32"/>
<rect x="365" y="402" width="5" height="3" fill="#35ff00"/>
<rect x="370" y="402" width="5" height="3" fill="#4eff00"/>
<rect x="375" y="402" width="10" height="3" fill="#afff00"/>
<rect x="385" y="402" width="10" height="3" fill="#f8ff00"/>
<rect x="395" y="402" width="10" height="3" fill="#afff00"/>
<rect x="405" y="402" width="5" height="3" fill="#66ff00"/>
<rect x="410" y="402" width="5" height="3" fill="#4eff00"/>
<rect x="415" y="402" width="10" height="3" fill="#35ff00"/>
<rect x="425" y="402" width="4" height="3" fill="#00ff20"/>
<rect x="690" y="51" width="90" height="5" fill="#00ff32"/>
<rect x="780" y="51" width="15" height="5" fill="#35ff00"/>
<rect x="795" y="51" width="5" height="5" fill="#4eff00"/>
<rect x="800" y="51" width="10" height="5" fill="#afff00"/>
<rect x="810" y="51" width="10" height="5" fill="#f8ff00"/>
<rect x="820" y="51" width="10" height="5" fill="#afff00"/>
<rect x="830" y="51" width="5" height="5" fill="#4eff00"/>
<rect x="835" y="51" width="5" height="5" fill="#35ff00"/>
<rect x="840" y="51" width="25" height="5" fill="#00ff32"/>
<rect x="865" y="51" width="5" height="5" fill="#00ff43"/>
<rect x="870" y="51" width="5" height="5" fill="#00ff9c"/>
<rect x="875" y="51" width="5" height="5" fill="#00ffae"/>
<rect x="880" y="51" width="5" height="5" fill="#0091ff"/>
<rect x="885" y="51" width="15" height="5" fill="#0064ff"/>
<rect x="900" y="51" width="5" height="5" fill="#0000e3"/>
<rect x="905" y="51" width="48" height="5" fill="#0000d4"/>
<rect x="690" y="56" width="85" height="5" fill="#00ff32"/>
<rect x="775" y="56" width="5" height="5" fill="#00ff20"/>
<rect x="780" y="56" width="15" height="5" fill="#35ff00"/>
<rect x="795" y="56" width="5" height="5" fill="#4eff00"/>
<rect x="800" y="56" width="10" height="5" fill="#afff00"/>
<rect x="810" y="56" width="10" height="5" fill="#f8ff00"/>
<rect x="820" y="56" width="10" height="5" fill="#afff00"/>
<rect x="830" y="56" width="5" height="5" fill="#4eff00"/>
<rect x="835" y="56" width="5" height="5" fill="#35ff00"/>
<rect x="840" y="56" width="25" height="5" fill="#00ff32"/>
<rect x="865" y="56" width="5" height="5" fill="#00ff43"/>
<rect x="870" y="56" width="5" height="5" fill="#00ff9c"/>
<rect x="875" y="56" width="5" height="5" fill="#00ffae"/>
<rect x="880" y="56" width="5" height="5" fill="#0091ff"/>
<rect x="885" y="56" width="15" height="5" fill="#0064ff"/>
<rect x="900" y="56" width="5" height="5" fill="#0000b5"/>
<rect x="905" y="56" width="48" height="5" fill="#0000a6"/>
<rect x="690" y="61" width="80" height="5" fill="#00ff32"/>
<rect x="770" y="61" width="5" height="5" fill="#1dff00"/>
<rect x="775" y="61" width="20" height="5" fill="#35ff00"/>
<rect x="795" y="61" width="5" height="5" fill="#4eff00"/>
<rect x="800" y="61" width="10" height="5" fill="#afff00"/>
<rect x="810" y="61" width="10" height="5" fill="#f8ff00"/>
<rect x="820" y="61" width="10" height="5" fill="#afff00"/>
<rect x="830" y="61" width="5" height="5" fill="#4eff00"/>
<rect x="835" y="61" width="5" height="5" fill="#35ff00"/>
<rect x="840" y="61" width="25" height="5" fill="#00ff32"/>
<rect x="865" y="61" width="5" height="5" fill="#00ff43"/>
<rect x="870" y="61" width="5" height="5" fill="#00ff9c"/>
<rect x="875" y="61" width="5" height="5" fill="#00ffae"/>
<rect x="880" y="61" width="5" height="5" fill="#0091ff"/>
<rect x="885" y="61" width="15" height="5" fill="#0064ff"/>
<rect x="900" y="61" width="5" height="5" fill="#0000e3"/>
<rect x="905" y="61" width="48" height="5" fill="#0000d4"/>
<rect x="690" y="66" width="10" height="5" fill="#00ff43"/>
<rect x="700" y="66" width="65" height="5" fill="#00ff32"/>
<rect x="765" y="66" width="5" height="5" fill="#00ff20"/>
<rect x="770" y="66" width="10" height="5" fill="#35ff00"/>
<rect x="780" y="66" width="10" height="5" fill="#4eff00"/>
<rect x="790" y="66" width="5" height="5" fill="#35ff00"/>
<rect x="795" y="66" width="5" height="5" fill="#4eff00"/>
<rect x="800" y="66" width="10" height="5" fill="#afff00"/>
<rect x="810" y="66" width="10" height="5" fill="#f8ff00"/>
<rect x="820" y="66" width="10" height="5" fill="#afff00"/>
<rect x="830" y="66" width="5" height="5" fill="#4eff00"/>
<rect x="835" y="66" width="5" height="5" fill="#35ff00"/>
<rect x="840" y="66" width="30" height="5" fill="#00ff32"/>
<rect x="870" y="66" width="5" height="5" fill="#00ffae"/>
<rect x="875" y="66" width="5" height="5" fill="#00ffbf"/>
<rect x="880" y="66" width="5" height="5" fill="#0091ff"/>
<rect x="885" y="66" width="15" height="5" fill="#0064ff"/>
<rect x="900" y="66" width="5" height="5" fill="#0000b5"/>
<rect x="905" y="66" width="48" height="5" fill="#0000a6"/>
<rect x="690" y="71" width="10" height="5" fill="#00ff9c"/>
<rect x="700" y="71" width="5" height="5" fill="#00ff43"/>
<rect x="705" y="71" width="55" height="5" fill="#00ff32"/>
<rect x="760" y="71" width="5" height="5" fill="#1dff00"/>
<rect x="765" y="71" width="10" height="5" fill="#35ff00"/>
<rect x="775" y="71" width="5" height="5" fill="#4eff00"/>
<rect x="780" y="71" width="10" height="5" fill="#97ff00"/>
<rect x="790" y="71" width="10" height="5" fill="#4eff00"/>
<rect x="800" y="71" width="30" height="5" fill="#afff00"/>
<rect x="830" y="71" width="5" height="5" fill="#4eff00"/>
<rect x="835" y="71" width="5" height="5" fill="#35ff00"/>
<rect x="840" y="71" width="10" height="5" fill="#00ff32"/>
<rect x="850" y="71" width="5" height="5" fill="#1dff00"/>
<rect x="855" y="71" width="10" height="5" fill="#35ff00"/>
<rect x="865" y="71" width="5" height="5" fill="#1dff00"/>
<rect x="870" y="71" width="5" height="5" fill="#00ffd1"/>
<rect x="875" y="71" width="5" height="5" fill="#00fff4"/>
<rect x="880" y="71" width="5" height="5" fill="#0091ff"/>
<rect x="885" y="71" width="15" height="5" fill="#0064ff"/>
<rect x="900" y="71" width="5" height="5" fill="#0000e3"/>
<rect x="905" y="71" width="48" height="5" fill="#0000d4"/>
<rect x="690" y="76" width="10" height="5" fill="#00ffae"/>
<rect x="700" y="76" width="5" height="5" fill="#00ff55"/>
<rect x="705" y="76" width="50" height="5" fill="#00ff43"/>
<rect x="755" y="76" width="5" height="5" fill="#00ff32"/>
<rect x="760" y="76" width="5" height="5" fill="#1dff00"/>
<rect x="765" y="76" width="15" height="5" fill="#35ff00"/>
<rect x="780" y="76" width="10" height="5" fill="#97ff00"/>
<rect x="790" y="76" width="10" height="5" fill="#35ff00"/>
<rect x="800" y="76" width="5" height="5" fill="#97ff00"/>
<rect x="805" y="76" width="20" height="5" fill="#afff00"/>
<rect x="825" y="76" width="5" height="5" fill="#97ff00"/>
<rect x="830" y="76" width="5" height="5" fill="#4eff00"/>
<rect x="835" y="76" width="5" height="5" fill="#35ff00"/>
<rect x="840" y="76" width="10" height="5" fill="#00ff32"/>
<rect x="850" y="76" width="15" height="5" fill="#35ff00"/>
<rect x="865" y="76" width="5" height="5" fill="#1dff00"/>
<rect x="870" y="76" width="5" height="5" fill="#00ffe3"/>
<rect x="875" y="76" width="5" height="5" fill="#00fff4"/>
<rect x="880" y="76" width="5" height="5" fill="#0091ff"/>
<rect x="885" y="76" width="15" height="5" fill="#0064ff"/>
<rect x="900" y="76" width="5" height="5" fill="#0000b5"/>
<rect x="905" y="76" width="48" height="5" fill="#0000a6"/>
<rect x="690" y="81" width="10" height="5" fill="#00bfff"/>
<rect x="700" y="81" width="50" height="5" fill="#00ffe3"/>
<rect x="750" y="81" width="5" height="5" fill="#00ffae"/>
<rect x="755" y="81" width="5" height="5" fill="#00ff9c"/>
<rect x="760" y="81" width="20" height="5" fill="#00ff32"/>
<rect x="780" y="81" width="10" height="5" fill="#00ff20"/>
<rect x="790" y="81" width="5" height="5" fill="#00ff32"/>
<rect x="795" y="81" width="5" height="5" fill="#00ff20"/>
<rect x="800" y="81" width="5" height="5" fill="#35ff00"/>
<rect x="805" y="81" width="5" height="5" fill="#4eff00"/>
<rect x="810" y="81" width="10" height="5" fill="#afff00"/>
<rect x="820" y="81" width="10" height="5" fill="#4eff00"/>
<rect x="830" y="81" width="10" height="5" fill="#35ff00"/>
<rect x="840" y="81" width="10" height="5" fill="#00ff32"/>
<rect x="850" y="81" width="15" height="5" fill="#35ff00"/>
<rect x="865" y="81" width="5" height="5" fill="#1dff00"/>
<rect x="870" y="81" width="5" height="5" fill="#00ffe3"/>
<rect x="875" y="81" width="5" height="5" fill="#00fff4"/>
<rect x="880" y="81" width="5" height="5" fill="#0091ff"/>
<rect x="885" y="81" width="15" height="5" fill="#0064ff"/>
<rect x="900" y="81" width="5" height="5" fill="#0000e3"/>
<rect x="905" y="81" width="48" height="5" fill="#0000d4"/>
<rect x="690" y="86" width="10" height="5" fill="#0091ff"/>
<rect x="700" y="86" width="45" height="5" fill="#00edff"/>
<rect x="745" y="86" width="5" height="5" fill="#00fff4"/>
<rect x="750" y="86" width="5" height="5" fill="#00ffbf"/>
<rect x="755" y="86" width="5" height="5" fill="#00ffae"/>
<rect x="760" y="86" width="5" height="5" fill="#00ff55"/>
<rect x="765" y="86" width="30" height="5" fill="#00ff43"/>
<rect x="795" y="86" width="5" height="5" fill="#00ff32"/>
<rect x="800" y="86" width="5" height="5" fill="#1dff00"/>
<rect x="805" y="86" width="5" height="5" fill="#35ff00"/>
<rect x="810" y="86" width="10" height="5" fill="#97ff00"/>
<rect x="820" y="86" width="10" height="5" fill="#35ff00"/>
<rect x="830" y="86" width="10" height="5" fill="#1dff00"/>
<rect x="840" y="86" width="10" height="5" fill="#00ff32"/>
<rect x="850" y="86" width="5" height="5" fill="#1dff00"/>
<rect x="855" y="86" width="10" height="5" fill="#35ff00"/>
<rect x="865" y="86" width="5" height="5" fill="#1dff00"/>
<rect x="870" y="86" width="5" height="5" fill="#00ffe3"/>
<rect x="875" y="86" width="5" height="5" fill="#00fff4"/>
<rect x="880" y="86" width="5" height="5" fill="#0091ff"/>
<rect x="885" y="86" width="15" height="5" fill="#0064ff"/>
<rect x="900" y="86" width="5" height="5" fill="#0000b5"/>
<rect x="905" y="86" width="48" height="5" fill="#0000a6"/>
<rect x="690" y="91" width="60" height="5" fill="#0008ff"/>
<rect x="750" y="91" width="10" height="5" fill="#0091ff"/>
<rect x="760" y="91" width="10" height="5" fill="#00ffe3"/>
<rect x="770" y="91" width="20" height="5" fill="#00edff"/>
<rect x="790" y="91" width="5" height="5" fill="#00ffae"/>
<rect x="795" y="91" width="5" height="5" fill="#00ff9c"/>
<rect x="800" y="91" width="10" height="5" fill="#00ff32"/>
<rect x="810" y="91" width="10" height="5" fill="#00ff20"/>
<rect x="820" y="91" width="10" height="5" fill="#00ff32"/>
<rect x="830" y="91" width="5" height="5" fill="#00ff8a"/>
<rect x="835" y="91" width="15" height="5" fill="#00ff9c"/>
<rect x="850" y="91" width="15" height="5" fill="#00ff32"/>
<rect x="865" y="91" width="5" height="5" fill="#00ff43"/>
<rect x="870" y="91" width="5" height="5" fill="#00ffe3"/>
<rect x="875" y="91" width="5" height="5" fill="#00fff4"/>
<rect x="880" y="91" width="5" height="5" fill="#0091ff"/>
<rect x="885" y="91" width="15" height="5" fill="#0064ff"/>
<rect x="900" y="91" width="5" height="5" fill="#0000e3"/>
<rect x="905" y="91" width="48" height="5" fill="#0000d4"/>
<rect x="690" y="96" width="5" height="5" fill="#0000c5"/>
<rect x="695" y="96" width="20" height="5" fill="#0000d4"/>
<rect x="715" y="96" width="30" height="5" fill="#0000c5"/>
<rect x="745" y="96" width="5" height="5" fill="#0000d4"/>
<rect x="750" y="96" width="10" height="5" fill="#0064ff"/>
<rect x="760" y="96" width="10" height="5" fill="#00fff4"/>
<rect x="770" y="96" width="20" height="5" fill="#00bfff"/>
<rect x="790" y="96" width="5" height="5" fill="#00ffbf"/>
<rect x="795" y="96" width="5" height="5" fill="#00ffae"/>
<rect x="800" y="96" width="10" height="5" fill="#00ff43"/>
<rect x="810" y="96" width="10" height="5" fill="#00ff32"/>
<rect x="820" y="96" width="10" height="5" fill="#00ff43"/>
<rect x="830" y="96" width="20" height="5" fill="#00ffae"/>
<rect x="850" y="96" width="15" height="5" fill="#00ff43"/>
<rect x="865" y="96" width="5" height="5" fill="#00ff55"/>
<rect x="870" y="96" width="5" height="5" fill="#00ffe3"/>
<rect x="875" y="96" width="5" height="5" fill="#00fff4"/>
<rect x="880" y="96" width="20" height="5" fill="#0064ff"/>
<rect x="900" y="96" width="53" height="5" fill="#0000a6"/>
<rect x="690" y="101" width="10" height="5" fill="#0000d4"/>
<rect x="700" y="101" width="10" height="5" fill="#0008ff"/>
<rect x="710" y="101" width="40" height="5" fill="#0000d4"/>
<rect x="750" y="101" width="10" height="5" fill="#0008ff"/>
<rect x="760" y="101" width="5" height="5" fill="#0091ff"/>
<rect x="765" y="101" width="15" height="5" fill="#00bfff"/>
<rect x="780" y="101" width="5" height="5" fill="#0091ff"/>
<rect x="785" y="101" width="5" height="5" fill="#0064ff"/>
<rect x="790" y="101" width="5" height="5" fill="#0008ff"/>
<rect x="795" y="101" width="5" height="5" fill="#0036ff"/>
<rect x="800" y="101" width="5" height="5" fill="#00ffae"/>
<rect x="805" y="101" width="5" height="5" fill="#00ff9c"/>
<rect x="810" y="101" width="10" height="5" fill="#00ff43"/>
<rect x="820" y="101" width="5" height="5" fill="#00ff9c"/>
<rect x="825" y="101" width="5" height="5" fill="#00ffae"/>
<rect x="830" y="101" width="5" height="5" fill="#00ffe3"/>
<rect x="835" y="101" width="10" height="5" fill="#00fff4"/>
<rect x="845" y="101" width="5" height="5" fill="#00ffe3"/>
<rect x="850" y="101" width="5" height="5" fill="#00ffae"/>
<rect x="855" y="101" width="10" height="5" fill="#00ff9c"/>
<rect x="865" y="101" width="5" height="5" fill="#00ffae"/>
<rect x="870" y="101" width="5" height="5" fill="#00bfff"/>
<rect x="875" y="101" width="5" height="5" fill="#0091ff"/>
<rect x="880" y="101" width="20" height="5" fill="#0008ff"/>
<rect x="900" y="101" width="53" height="5" fill="#0000d4"/>
<rect x="690" y="106" width="10" height="5" fill="#0000a6"/>
<rect x="700" y="106" width="10" height="5" fill="#0000c5"/>
<rect x="710" y="106" width="40" height="5" fill="#0000a6"/>
<rect x="750" y="106" width="5" height="5" fill="#0000c5"/>
<rect x="755" y="106" width="5" height="5" fill="#0000d4"/>
<rect x="760" y="106" width="5" height="5" fill="#0091ff"/>
<rect x="765" y="106" width="15" height="5" fill="#00bfff"/>
<rect x="780" y="106" width="10" height="5" fill="#0064ff"/>
<rect x="790" y="106" width="5" height="5" fill="#0000d4"/>
<rect x="795" y="106" width="5" height="5" fill="#0000e3"/>
<rect x="800" y="106" width="5" height="5" fill="#00ffae"/>
<rect x="805" y="106" width="5" height="5" fill="#00ff9c"/>
<rect x="810" y="106" width="10" height="5" fill="#00ff43"/>
<rect x="820" y="106" width="5" height="5" fill="#00ff9c"/>
<rect x="825" y="106" width="5" height="5" fill="#00ffae"/>
<rect x="830" y="106" width="5" height="5" fill="#00ffe3"/>
<rect x="835" y="106" width="15" height="5" fill="#00fff4"/>
<rect x="850" y="106" width="5" height="5" fill="#00ffbf"/>
<rect x="855" y="106" width="10" height="5" fill="#00ffae"/>
<rect x="865" y="106" width="5" height="5" fill="#00ffbf"/>
<rect x="870" y="106" width="5" height="5" fill="#00bfff"/>
<rect x="875" y="106" width="5" height="5" fill="#0091ff"/>
<rect x="880" y="106" width="5" height="5" fill="#0000d4"/>
<rect x="885" y="106" width="15" height="5" fill="#0000c5"/>
<rect x="900" y="106" width="53" height="5" fill="#0000a6"/>
<rect x="690" y="111" width="10" height="5" fill="#0000d4"/>
<rect x="700" y="111" width="10" height="5" fill="#0000f2"/>
<rect x="710" y="111" width="45" height="5" fill="#0000d4"/>
<rect x="755" y="111" width="5" height="5" fill="#0000e3"/>
<rect x="760" y="111" width="5" height="5" fill="#0064ff"/>
<rect x="765" y="111" width="5" height="5" fill="#0091ff"/>
<rect x="770" y="111" width="10" height="5" fill="#00bfff"/>
<rect x="780" y="111" width="10" height="5" fill="#0064ff"/>
<rect x="790" y="111" width="5" height="5" fill="#0008ff"/>
<rect x="795" y="111" width="5" height="5" fill="#0036ff"/>
<rect x="800" y="111" width="5" height="5" fill="#00ff55"/>
<rect x="805" y="111" width="5" height="5" fill="#00ff43"/>
<rect x="810" y="111" width="5" height="5" fill="#00ff32"/>
<rect x="815" y="111" width="5" height="5" fill="#00ff43"/>
<rect x="820" y="111" width="5" height="5" fill="#00ff9c"/>
<rect x="825" y="111" width="10" height="5" fill="#00ffae"/>
<rect x="835" y="111" width="5" height="5" fill="#00ffbf"/>
<rect x="840" y="111" width="10" height="5" fill="#0091ff"/>
<rect x="850" y="111" width="10" height="5" fill="#00bfff"/>
<rect x="860" y="111" width="10" height="5" fill="#0091ff"/>
<rect x="870" y="111" width="10" height="5" fill="#0008ff"/>
<rect x="880" y="111" width="73" height="5" fill="#0000d4"/>
<rect x="690" y="116" width="10" height="5" fill="#0000a6"/>
<rect x="700" y="116" width="10" height="5" fill="#0000c5"/>
<rect x="710" y="116" width="45" height="5" fill="#0000a6"/>
<rect x="755" y="116" width="5" height="5" fill="#0000b5"/>
<rect x="760" y="116" width="10" height="5" fill="#0064ff"/>
<rect x="770" y="116" width="10" height="5" fill="#00bfff"/>
<rect x="780" y="116" width="10" height="5" fill="#0064ff"/>
<rect x="790" y="116" width="5" height="5" fill="#0000e3"/>
<rect x="795" y="116" width="5" height="5" fill="#0000f2"/>
<rect x="800" y="116" width="5" height="5" fill="#00ff55"/>
<rect x="805" y="116" width="15" height="5" fill="#00ff32"/>
<rect x="820" y="116" width="5" height="5" fill="#00ff9c"/>
<rect x="825" y="116" width="10" height="5" fill="#00ffae"/>
<rect x="835" y="116" width="5" height="5" fill="#00ffbf"/>
<rect x="840" y="116" width="10" height="5" fill="#0091ff"/>
<rect x="850" y="116" width="10" height="5" fill="#00bfff"/>
<rect x="860" y="116" width="5" height="5" fill="#0091ff"/>
<rect x="865" y="116" width="5" height="5" fill="#0064ff"/>
<rect x="870" y="116" width="5" height="5" fill="#0000d4"/>
<rect x="875" y="116" width="5" height="5" fill="#0000c5"/>
<rect x="880" y="116" width="73" height="5" fill="#0000a6"/>
<rect x="690" y="121" width="10" height="5" fill="#0000d4"/>
<rect x="700" y="121" width="10" height="5" fill="#0000f2"/>
<rect x="710" y="121" width="45" height="5" fill="#0000d4"/>
<rect x="755" y="121" width="5" height="5" fill="#0000e3"/>
<rect x="760" y="121" width="10" height="5" fill="#0064ff"/>
<rect x="770" y="121" width="10" height="5" fill="#00bfff"/>
<rect x="780" y="121" width="15" height="5" fill="#0064ff"/>
<rect x="795" y="121" width="5" height="5" fill="#0091ff"/>
<rect x="800" y="121" width="5" height="5" fill="#00ff43"/>
<rect x="805" y="121" width="5" height="5" fill="#00ff32"/>
<rect x="810" y="121" width="10" height="5" fill="#1dff00"/>
<rect x="820" y="121" width="5" height="5" fill="#00ff9c"/>
<rect x="825" y="121" width="5" height="5" fill="#00ffae"/>
<rect x="830" y="121" width="5" height="5" fill="#00ffe3"/>
<rect x="835" y="121" width="5" height="5" fill="#00fff4"/>
<rect x="840" y="121" width="10" height="5" fill="#0091ff"/>
<rect x="850" y="121" width="10" height="5" fill="#00fff4"/>
<rect x="860" y="121" width="5" height="5" fill="#00bfff"/>
<rect x="865" y="121" width="5" height="5" fill="#0091ff"/>
<rect x="870" y="121" width="5" height="5" fill="#0008ff"/>
<rect x="875" y="121" width="5" height="5" fill="#0000f2"/>
<rect x="880" y="121" width="73" height="5" fill="#0000d4"/>
<rect x="690" y="126" width="10" height="5" fill="#0000a6"/>
<rect x="700" y="126" width="10" height="5" fill="#0000c5"/>
<rect x="710" y="126" width="45" height="5" fill="#0000a6"/>
<rect x="755" y="126" width="5" height="5" fill="#0000b5"/>
<rect x="760" y="126" width="10" height="5" fill="#0064ff"/>
<rect x="770" y="126" width="10" height="5" fill="#00bfff"/>
<rect x="780" y="126" width="15" height="5" fill="#0064ff"/>
<rect x="795" y="126" width="5" height="5" fill="#0091ff"/>
<rect x="800" y="126" width="5" height="5" fill="#00ff55"/>
<rect x="805" y="126" width="5" height="5" fill="#00ff43"/>
<rect x="810" y="126" width="5" height="5" fill="#1dff00"/>
<rect x="815" y="126" width="5" height="5" fill="#05ff00"/>
<rect x="820" y="126" width="5" height="5" fill="#00ff9c"/>
<rect x="825" y="126" width="5" height="5" fill="#00ffae"/>
<rect x="830" y="126" width="10" height="5" fill="#00fff4"/>
<rect x="840" y="126" width="10" height="5" fill="#0091ff"/>
<rect x="850" y="126" width="10" height="5" fill="#00fff4"/>
<rect x="860" y="126" width="5" height="5" fill="#00bfff"/>
<rect x="865" y="126" width="5" height="5" fill="#0091ff"/>
<rect x="870" y="126" width="5" height="5" fill="#0000d4"/>
<rect x="875" y="126" width="5" height="5" fill="#0000c5"/>
<rect x="880" y="126" width="73" height="5" fill="#0000a6"/>
<rect x="690" y="131" width="10" height="5" fill="#0000d4"/>
<rect x="700" y="131" width="10" height="5" fill="#0000f2"/>
<rect x="710" y="131" width="45" height="5" fill="#0000d4"/>
<rect x="755" y="131" width="5" height="5" fill="#0000e3"/>
<rect x="760" y="131" width="10" height="5" fill="#0064ff"/>
<rect x="770" y="131" width="10" height="5" fill="#00bfff"/>
<rect x="780" y="131" width="15" height="5" fill="#0064ff"/>
<rect x="795" y="131" width="5" height="5" fill="#0091ff"/>
<rect x="800" y="131" width="5" height="5" fill="#00fff4"/>
<rect x="805" y="131" width="15" height="5" fill="#00ffe3"/>
<rect x="820" y="131" width="10" height="5" fill="#00fff4"/>
<rect x="830" y="131" width="20" height="5" fill="#00bfff"/>
<rect x="850" y="131" width="10" height="5" fill="#00ffbf"/>
<rect x="860" y="131" width="5" height="5" fill="#00bfff"/>
<rect x="865" y="131" width="5" height="5" fill="#0091ff"/>
<rect x="870" y="131" width="5" height="5" fill="#0008ff"/>
<rect x="875" y="131" width="5" height="5" fill="#0000f2"/>
<rect x="880" y="131" width="73" height="5" fill="#0000d4"/>
<rect x="690" y="136" width="10" height="5" fill="#0000a6"/>
<rect x="700" y="136" width="10" height="5" fill="#0000c5"/>
<rect x="710" y="136" width="45" height="5" fill="#0000a6"/>
<rect x="755" y="136" width="5" height="5" fill="#0000b5"/>
<rect x="760" y="136" width="5" height="5" fill="#0064ff"/>
<rect x="765" y="136" width="15" height="5" fill="#0091ff"/>
<rect x="780" y="136" width="20" height="5" fill="#0064ff"/>
<rect x="800" y="136" width="10" height="5" fill="#00fff4"/>
<rect x="810" y="136" width="20" height="5" fill="#00edff"/>
<rect x="830" y="136" width="15" height="5" fill="#0091ff"/>
<rect x="845" y="136" width="5" height="5" fill="#00bfff"/>
<rect x="850" y="136" width="10" height="5" fill="#00ffbf"/>
<rect x="860" y="136" width="5" height="5" fill="#00edff"/>
<rect x="865" y="136" width="5" height="5" fill="#00bfff"/>
<rect x="870" y="136" width="5" height="5" fill="#0000e3"/>
<rect x="875" y="136" width="5" height="5" fill="#0000d4"/>
<rect x="880" y="136" width="73" height="5" fill="#0000a6"/>
<rect x="690" y="141" width="65" height="5" fill="#0000d4"/>
<rect x="755" y="141" width="5" height="5" fill="#0000e3"/>
<rect x="760" y="141" width="10" height="5" fill="#0091ff"/>
<rect x="770" y="141" width="30" height="5" fill="#0008ff"/>
<rect x="800" y="141" width="10" height="5" fill="#0091ff"/>
<rect x="810" y="141" width="40" height="5" fill="#0008ff"/>
<rect x="850" y="141" width="5" height="5" fill="#0091ff"/>
<rect x="855" y="141" width="5" height="5" fill="#00bfff"/>
<rect x="860" y="141" width="10" height="5" fill="#00ffbf"/>
<rect x="870" y="141" width="5" height="5" fill="#00bfff"/>
<rect x="875" y="141" width="5" height="5" fill="#0091ff"/>
<rect x="880" y="141" width="5" height="5" fill="#0008ff"/>
<rect x="885" y="141" width="15" height="5" fill="#0000f2"/>
<rect x="900" y="141" width="10" height="5" fill="#0000d4"/>
<rect x="910" y="141" width="10" height="5" fill="#0000f2"/>
<rect x="920" y="141" width="33" height="5" fill="#0000d4"/>
<rect x="690" y="146" width="65" height="5" fill="#0000a6"/>
<rect x="755" y="146" width="5" height="5" fill="#0000b5"/>
<rect x="760" y="146" width="10" height="5" fill="#0091ff"/>
<rect x="770" y="146" width="30" height="5" fill="#0000d4"/>
<rect x="800" y="146" width="10" height="5" fill="#0091ff"/>
<rect x="810" y="146" width="40" height="5" fill="#0000d4"/>
<rect x="850" y="146" width="5" height="5" fill="#0064ff"/>
<rect x="855" y="146" width="5" height="5" fill="#0091ff"/>
<rect x="860" y="146" width="10" height="5" fill="#00ffae"/>
<rect x="870" y="146" width="5" height="5" fill="#00bfff"/>
<rect x="875" y="146" width="5" height="5" fill="#0091ff"/>
<rect x="880" y="146" width="15" height="5" fill="#0000d4"/>
<rect x="895" y="146" width="5" height="5" fill="#0000c5"/>
<rect x="900" y="146" width="10" height="5" fill="#0000a6"/>
<rect x="910" y="146" width="10" height="5" fill="#0000c5"/>
<rect x="920" y="146" width="33" height="5" fill="#0000a6"/>
<rect x="690" y="151" width="65" height="5" fill="#0000d4"/>
<rect x="755" y="151" width="5" height="5" fill="#0000e3"/>
<rect x="760" y="151" width="10" height="5" fill="#0091ff"/>
<rect x="770" y="151" width="30" height="5" fill="#0008ff"/>
<rect x="800" y="151" width="10" height="5" fill="#0091ff"/>
<rect x="810" y="151" width="40" height="5" fill="#0008ff"/>
<rect x="850" y="151" width="5" height="5" fill="#0064ff"/>
<rect x="855" y="151" width="5" height="5" fill="#0091ff"/>
<rect x="860" y="151" width="10" height="5" fill="#00ffae"/>
<rect x="870" y="151" width="5" height="5" fill="#00bfff"/>
<rect x="875" y="151" width="5" height="5" fill="#0091ff"/>
<rect x="880" y="151" width="15" height="5" fill="#0008ff"/>
<rect x="895" y="151" width="5" height="5" fill="#0000f2"/>
<rect x="900" y="151" width="10" height="5" fill="#0000d4"/>
<rect x="910" y="151" width="10" height="5" fill="#0000f2"/>
<rect x="920" y="151" width="33" height="5" fill="#0000d4"/>
<rect x="690" y="156" width="65" height="5" fill="#0000a6"/>
<rect x="755" y="156" width="5" height="5" fill="#0000b5"/>
<rect x="760" y="156" width="10" height="5" fill="#0091ff"/>
<rect x="770" y="156" width="5" height="5" fill="#0000e3"/>
<rect x="775" y="156" width="20" height="5" fill="#0000d4"/>
<rect x="795" y="156" width="5" height="5" fill="#0000e3"/>
<rect x="800" y="156" width="10" height="5" fill="#0091ff"/>
<rect x="810" y="156" width="35" height="5" fill="#0000d4"/>
<rect x="845" y="156" width="5" height="5" fill="#0000e3"/>
<rect x="850" y="156" width="5" height="5" fill="#0064ff"/>
<rect x="855" y="156" width="5" height="5" fill="#0091ff"/>
<rect x="860" y="156" width="10" height="5" fill="#00ffae"/>
<rect x="870" y="156" width="5" height="5" fill="#00bfff"/>
<rect x="875" y="156" width="5" height="5" fill="#0091ff"/>
<rect x="880" y="156" width="5" height="5" fill="#0000e3"/>
<rect x="885" y="156" width="15" height="5" fill="#0000d4"/>
<rect x="900" y="156" width="10" height="5" fill="#0000a6"/>
<rect x="910" y="156" width="10" height="5" fill="#0000d4"/>
<rect x="920" y="156" width="33" height="5" fill="#0000a6"/>
<rect x="690" y="161" width="65" height="5" fill="#0000d4"/>
<rect x="755" y="161" width="5" height="5" fill="#0000e3"/>
<rect x="760" y="161" width="40" height="5" fill="#0064ff"/>
<rect x="800" y="161" width="10" height="5" fill="#0091ff"/>
<rect x="810" y="161" width="30" height="5" fill="#0008ff"/>
<rect x="840" y="161" width="10" height="5" fill="#0064ff"/>
<rect x="850" y="161" width="5" height="5" fill="#0091ff"/>
<rect x="855" y="161" width="5" height="5" fill="#00edff"/>
<rect x="860" y="161" width="10" height="5" fill="#00ff55"/>
<rect x="870" y="161" width="5" height="5" fill="#00ffe3"/>
<rect x="875" y="161" width="5" height="5" fill="#00fff4"/>
<rect x="880" y="161" width="10" height="5" fill="#0064ff"/>
<rect x="890" y="161" width="20" height="5" fill="#0008ff"/>
<rect x="910" y="161" width="10" height="5" fill="#0064ff"/>
<rect x="920" y="161" width="5" height="5" fill="#0008ff"/>
<rect x="925" y="161" width="28" height="5" fill="#0000f2"/>
<rect x="690" y="166" width="65" height="5" fill="#0000a6"/>
<rect x="755" y="166" width="5" height="5" fill="#0000b5"/>
<rect x="760" y="166" width="40" height="5" fill="#0064ff"/>
<rect x="800" y="166" width="5" height="5" fill="#00bfff"/>
<rect x="805" y="166" width="5" height="5" fill="#0091ff"/>
<rect x="810" y="166" width="5" height="5" fill="#0000e3"/>
<rect x="815" y="166" width="25" height="5" fill="#0000d4"/>
<rect x="840" y="166" width="5" height="5" fill="#0064ff"/>
<rect x="845" y="166" width="5" height="5" fill="#0091ff"/>
<rect x="850" y="166" width="5" height="5" fill="#00bfff"/>
<rect x="855" y="166" width="5" height="5" fill="#00edff"/>
<rect x="860" y="166" width="10" height="5" fill="#00ff43"/>
<rect x="870" y="166" width="5" height="5" fill="#00ffe3"/>
<rect x="875" y="166" width="5" height="5" fill="#00fff4"/>
<rect x="880" y="166" width="5" height="5" fill="#0091ff"/>
<rect x="885" y="166" width="5" height="5" fill="#0064ff"/>
<rect x="890" y="166" width="5" height="5" fill="#0000e3"/>
<rect x="895" y="166" width="15" height="5" fill="#0000d4"/>
<rect x="910" y="166" width="10" height="5" fill="#0064ff"/>
<rect x="920" y="166" width="33" height="5" fill="#0000d4"/>
<rect x="690" y="171" width="10" height="5" fill="#0000f2"/>
<rect x="700" y="171" width="55" height="5" fill="#0000d4"/>
<rect x="755" y="171" width="5" height="5" fill="#0000e3"/>
<rect x="760" y="171" width="5" height="5" fill="#0091ff"/>
<rect x="765" y="171" width="20" height="5" fill="#00bfff"/>
<rect x="785" y="171" width="5" height="5" fill="#0091ff"/>
<rect x="790" y="171" width="10" height="5" fill="#0064ff"/>
<rect x="800" y="171" width="5" height="5" fill="#00bfff"/>
<rect x="805" y="171" width="5" height="5" fill="#0091ff"/>
<rect x="810" y="171" width="10" height="5" fill="#0064ff"/>
<rect x="820" y="171" width="20" height="5" fill="#0008ff"/>
<rect x="840" y="171" width="5" height="5" fill="#0064ff"/>
<rect x="845" y="171" width="5" height="5" fill="#0091ff"/>
<rect x="850" y="171" width="5" height="5" fill="#00fff4"/>
<rect x="855" y="171" width="5" height="5" fill="#00ffe3"/>
<rect x="860" y="171" width="10" height="5" fill="#1dff00"/>
<rect x="870" y="171" width="5" height="5" fill="#00ffe3"/>
<rect x="875" y="171" width="5" height="5" fill="#00fff4"/>
<rect x="880" y="171" width="5" height="5" fill="#0091ff"/>
<rect x="885" y="171" width="15" height="5" fill="#0064ff"/>
<rect x="900" y="171" width="10" height="5" fill="#0008ff"/>
<rect x="910" y="171" width="10" height="5" fill="#0064ff"/>
<rect x="920" y="171" width="20" height="5" fill="#0008ff"/>
<rect x="940" y="171" width="13" height="5" fill="#0064ff"/>
<rect x="690" y="176" width="5" height="5" fill="#0000d4"/>
<rect x="695" y="176" width="5" height="5" fill="#0000c5"/>
<rect x="700" y="176" width="55" height="5" fill="#0000a6"/>
<rect x="755" y="176" width="5" height="5" fill="#0000b5"/>
<rect x="760" y="176" width="5" height="5" fill="#0091ff"/>
<rect x="765" y="176" width="25" height="5" fill="#00bfff"/>
<rect x="790" y="176" width="10" height="5" fill="#0091ff"/>
<rect x="800" y="176" width="10" height="5" fill="#00bfff"/>
<rect x="810" y="176" width="10" height="5" fill="#0064ff"/>
<rect x="820" y="176" width="20" height="5" fill="#0000d4"/>
<rect x="840" y="176" width="5" height="5" fill="#0064ff"/>
<rect x="845" y="176" width="5" height="5" fill="#0091ff"/>
<rect x="850" y="176" width="5" height="5" fill="#00fff4"/>
<rect x="855" y="176" width="5" height="5" fill="#00ffd1"/>
<rect x="860" y="176" width="10" height="5" fill="#1dff00"/>
<rect x="870" y="176" width="5" height="5" fill="#00ffe3"/>
<rect x="875" y="176" width="5" height="5" fill="#00fff4"/>
<rect x="880" y="176" width="5" height="5" fill="#0091ff"/>
<rect x="885" y="176" width="15" height="5" fill="#0064ff"/>
<rect x="900" y="176" width="10" height="5" fill="#0000e3"/>
<rect x="910" y="176" width="10" height="5" fill="#0064ff"/>
<rect x="920" y="176" width="5" height="5" fill="#0000e3"/>
<rect x="925" y="176" width="15" height="5" fill="#0000d4"/>
<rect x="940" y="176" width="13" height="5" fill="#0064ff"/>
<rect x="690" y="181" width="5" height="5" fill="#0008ff"/>
<rect x="695" y="181" width="5" height="5" fill="#0000f2"/>
<rect x="700" y="181" width="55" height="5" fill="#0000d4"/>
<rect x="755" y="181" width="5" height="5" fill="#0000e3"/>
<rect x="760" y="181" width="5" height="5" fill="#0091ff"/>
<rect x="765" y="181" width="15" height="5" fill="#00bfff"/>
<rect x="780" y="181" width="10" height="5" fill="#00fff4"/>
<rect x="790" y="181" width="20" height="5" fill="#00bfff"/>
<rect x="810" y="181" width="10" height="5" fill="#0064ff"/>
<rect x="820" y="181" width="20" height="5" fill="#0008ff"/>
<rect x="840" y="181" width="5" height="5" fill="#0091ff"/>
<rect x="845" y="181" width="5" height="5" fill="#00bfff"/>
<rect x="850" y="181" width="5" height="5" fill="#00ffbf"/>
<rect x="855" y="181" width="5" height="5" fill="#00ff9c"/>
<rect x="860" y="181" width="10" height="5" fill="#1dff00"/>
<rect x="870" y="181" width="5" height="5" fill="#00ffe3"/>
<rect x="875" y="181" width="5" height="5" fill="#00fff4"/>
<rect x="880" y="181" width="5" height="5" fill="#00bfff"/>
<rect x="885" y="181" width="5" height="5" fill="#0091ff"/>
<rect x="890" y="181" width="20" height="5" fill="#0064ff"/>
<rect x="910" y="181" width="10" height="5" fill="#0091ff"/>
<rect x="920" y="181" width="10" height="5" fill="#0064ff"/>
<rect x="930" y="181" width="10" height="5" fill="#0008ff"/>
<rect x="940" y="181" width="13" height="5" fill="#0064ff"/>
<rect x="690" y="186" width="5" height="5" fill="#0000d4"/>
<rect x="695" y="186" width="5" height="5" fill="#0000c5"/>
<rect x="700" y="186" width="55" height="5" fill="#0000a6"/>
<rect x="755" y="186" width="5" height="5" fill="#0000b5"/>
<rect x="760" y="186" width="5" height="5" fill="#0091ff"/>
<rect x="765" y="186" width="15" height="5" fill="#00bfff"/>
<rect x="780" y="186" width="10" height="5" fill="#00fff4"/>
<rect x="790" y="186" width="20" height="5" fill="#00bfff"/>
<rect x="810" y="186" width="10" height="5" fill="#0064ff"/>
<rect x="820" y="186" width="20" height="5" fill="#0000d4"/>
<rect x="840" y="186" width="5" height="5" fill="#0091ff"/>
<rect x="845" y="186" width="5" height="5" fill="#00bfff"/>
<rect x="850" y="186" width="5" height="5" fill="#00ffae"/>
<rect x="855" y="186" width="5" height="5" fill="#00ff8a"/>
<rect x="860" y="186" width="5" height="5" fill="#35ff00"/>
<rect x="865" y="186" width="5" height="5" fill="#1dff00"/>
<rect x="870" y="186" width="5" height="5" fill="#00ffd1"/>
<rect x="875" y="186" width="5" height="5" fill="#00fff4"/>
<rect x="880" y="186" width="10" height="5" fill="#00bfff"/>
<rect x="890" y="186" width="20" height="5" fill="#0064ff"/>
<rect x="910" y="186" width="10" height="5" fill="#00bfff"/>
<rect x="920" y="186" width="10" height="5" fill="#0064ff"/>
<rect x="930" y="186" width="10" height="5" fill="#0000e3"/>
<rect x="940" y="186" width="13" height="5" fill="#0064ff"/>
<rect x="690" y="191" width="5" height="5" fill="#0008ff"/>
<rect x="695" y="191" width="5" height="5" fill="#0000f2"/>
<rect x="700" y="191" width="55" height="5" fill="#0000d4"/>
<rect x="755" y="191" width="5" height="5" fill="#0000e3"/>
<rect x="760" y="191" width="5" height="5" fill="#0091ff"/>
<rect x="765" y="191" width="15" height="5" fill="#00bfff"/>
<rect x="780" y="191" width="10" height="5" fill="#00fff4"/>
<rect x="790" y="191" width="20" height="5" fill="#00bfff"/>
<rect x="810" y="191" width="10" height="5" fill="#0064ff"/>
<rect x="820" y="191" width="20" height="5" fill="#0008ff"/>
<rect x="840" y="191" width="5" height="5" fill="#0091ff"/>
<rect x="845" y="191" width="5" height="5" fill="#00edff"/>
<rect x="850" y="191" width="5" height="5" fill="#00ff55"/>
<rect x="855" y="191" width="5" height="5" fill="#00ff32"/>
<rect x="860" y="191" width="5" height="5" fill="#97ff00"/>
<rect x="865" y="191" width="5" height="5" fill="#7eff00"/>
<rect x="870" y="191" width="5" height="5" fill="#00ff9c"/>
<rect x="875" y="191" width="5" height="5" fill="#00ffbf"/>
<rect x="880" y="191" width="10" height="5" fill="#00bfff"/>
<rect x="890" y="191" width="20" height="5" fill="#0064ff"/>
<rect x="910" y="191" width="10" height="5" fill="#00bfff"/>
<rect x="920" y="191" width="33" height="5" fill="#0064ff"/>
<rect x="690" y="196" width="10" height="5" fill="#0000d4"/>
<rect x="700" y="196" width="55" height="5" fill="#0000a6"/>
<rect x="755" y="196" width="5" height="5" fill="#0000b5"/>
<rect x="760" y="196" width="5" height="5" fill="#0091ff"/>
<rect x="765" y="196" width="15" height="5" fill="#00bfff"/>
<rect x="780" y="196" width="10" height="5" fill="#00fff4"/>
<rect x="790" y="196" width="20" height="5" fill="#00bfff"/>
<rect x="810" y="196" width="10" height="5" fill="#0064ff"/>
<rect x="820" y="196" width="20" height="5" fill="#0000d4"/>
<rect x="840" y="196" width="5" height="5" fill="#0091ff"/>
<rect x="845" y="196" width="5" height="5" fill="#00edff"/>
<rect x="850" y="196" width="5" height="5" fill="#00ff43"/>
<rect x="855" y="196" width="5" height="5" fill="#00ff20"/>
<rect x="860" y="196" width="10" height="5" fill="#97ff00"/>
<rect x="870" y="196" width="5" height="5" fill="#00ff8a"/>
<rect x="875" y="196" width="5" height="5" fill="#00ffae"/>
<rect x="880" y="196" width="10" height="5" fill="#00bfff"/>
<rect x="890" y="196" width="5" height="5" fill="#0091ff"/>
<rect x="895" y="196" width="15" height="5" fill="#0064ff"/>
<rect x="910" y="196" width="10" height="5" fill="#00bfff"/>
<rect x="920" y="196" width="33" height="5" fill="#0064ff"/>
<rect x="690" y="201" width="10" height="5" fill="#0064ff"/>
<rect x="700" y="201" width="50" height="5" fill="#0000d4"/>
<rect x="750" y="201" width="5" height="5" fill="#0000f2"/>
<rect x="755" y="201" width="5" height="5" fill="#0008ff"/>
<rect x="760" y="201" width="5" height="5" fill="#00edff"/>
<rect x="765" y="201" width="15" height="5" fill="#00fff4"/>
<rect x="780" y="201" width="10" height="5" fill="#00ffae"/>
<rect x="790" y="201" width="10" height="5" fill="#00fff4"/>
<rect x="800" y="201" width="10" height="5" fill="#00bfff"/>
<rect x="810" y="201" width="10" height="5" fill="#0064ff"/>
<rect x="820" y="201" width="20" height="5" fill="#0008ff"/>
<rect x="840" y="201" width="5" height="5" fill="#00edff"/>
<rect x="845" y="201" width="5" height="5" fill="#00ffe3"/>
<rect x="850" y="201" width="5" height="5" fill="#00ff43"/>
<rect x="855" y="201" width="5" height="5" fill="#00ff20"/>
<rect x="860" y="201" width="10" height="5" fill="#97ff00"/>
<rect x="870" y="201" width="5" height="5" fill="#00ff8a"/>
<rect x="875" y="201" width="5" height="5" fill="#00ffae"/>
<rect x="880" y="201" width="15" height="5" fill="#00bfff"/>
<rect x="895" y="201" width="5" height="5" fill="#0091ff"/>
<rect x="900" y="201" width="10" height="5" fill="#0064ff"/>
<rect x="910" y="201" width="10" height="5" fill="#00bfff"/>
<rect x="920" y="201" width="33" height="5" fill="#0064ff"/>
<rect x="690" y="206" width="10" height="5" fill="#0064ff"/>
<rect x="700" y="206" width="5" height="5" fill="#0000b5"/>
<rect x="705" y="206" width="20" height="5" fill="#0000a6"/>
<rect x="725" y="206" width="25" height="5" fill="#0000b5"/>
<rect x="750" y="206" width="5" height="5" fill="#0000d4"/>
<rect x="755" y="206" width="5" height="5" fill="#0000f2"/>
<rect x="760" y="206" width="5" height="5" fill="#00fff4"/>
<rect x="765" y="206" width="15" height="5" fill="#00ffe3"/>
<rect x="780" y="206" width="10" height="5" fill="#00ffae"/>
<rect x="790" y="206" width="10" height="5" fill="#00fff4"/>
<rect x="800" y="206" width="10" height="5" fill="#00bfff"/>
<rect x="810" y="206" width="10" height="5" fill="#0064ff"/>
<rect x="820" y="206" width="15" height="5" fill="#0000d4"/>
<rect x="835" y="206" width="5" height="5" fill="#0000e3"/>
<rect x="840" y="206" width="5" height="5" fill="#00edff"/>
<rect x="845" y="206" width="5" height="5" fill="#00ffe3"/>
<rect x="850" y="206" width="5" height="5" fill="#00ff43"/>
<rect x="855" y="206" width="5" height="5" fill="#00ff20"/>
<rect x="860" y="206" width="10" height="5" fill="#97ff00"/>
<rect x="870" y="206" width="5" height="5" fill="#00ff8a"/>
<rect x="875" y="206" width="5" height="5" fill="#00ffae"/>
<rect x="880" y="206" width="20" height="5" fill="#00bfff"/>
<rect x="900" y="206" width="10" height="5" fill="#0091ff"/>
<rect x="910" y="206" width="10" height="5" fill="#00bfff"/>
<rect x="920" y="206" width="33" height="5" fill="#0064ff"/>
<rect x="690" y="211" width="10" height="5" fill="#0064ff"/>
<rect x="700" y="211" width="5" height="5" fill="#0000e3"/>
<rect x="705" y="211" width="5" height="5" fill="#0000d4"/>
<rect x="710" y="211" width="5" height="5" fill="#0000f2"/>
<rect x="715" y="211" width="5" height="5" fill="#0008ff"/>
<rect x="720" y="211" width="30" height="5" fill="#0064ff"/>
<rect x="750" y="211" width="5" height="5" fill="#00edff"/>
<rect x="755" y="211" width="5" height="5" fill="#00fff4"/>
<rect x="760" y="211" width="5" height="5" fill="#00ff55"/>
<rect x="765" y="211" width="15" height="5" fill="#00ff43"/>
<rect x="780" y="211" width="5" height="5" fill="#00ff9c"/>
<rect x="785" y="211" width="5" height="5" fill="#00ffae"/>
<rect x="790" y="211" width="10" height="5" fill="#00fff4"/>
<rect x="800" y="211" width="10" height="5" fill="#00bfff"/>
<rect x="810" y="211" width="10" height="5" fill="#0064ff"/>
<rect x="820" y="211" width="10" height="5" fill="#0008ff"/>
<rect x="830" y="211" width="10" height="5" fill="#0064ff"/>
<rect x="840" y="211" width="5" height="5" fill="#00fff4"/>
<rect x="845" y="211" width="5" height="5" fill="#00ffe3"/>
<rect x="850" y="211" width="5" height="5" fill="#00ff43"/>
<rect x="855" y="211" width="5" height="5" fill="#00ff20"/>
<rect x="860" y="211" width="10" height="5" fill="#97ff00"/>
<rect x="870" y="211" width="5" height="5" fill="#00ff8a"/>
<rect x="875" y="211" width="5" height="5" fill="#00ffae"/>
<rect x="880" y="211" width="10" height="5" fill="#00fff4"/>
<rect x="890" y="211" width="30" height="5" fill="#00bfff"/>
<rect x="920" y="211" width="20" height="5" fill="#0064ff"/>
<rect x="940" y="211" width="13" height="5" fill="#0091ff"/>
<rect x="690" y="216" width="10" height="5" fill="#0064ff"/>
<rect x="700" y="216" width="5" height="5" fill="#0000b5"/>
<rect x="705" y="216" width="5" height="5" fill="#0000a6"/>
<rect x="710" y="216" width="5" height="5" fill="#0000d4"/>
<rect x="715" y="216" width="5" height="5" fill="#0000e3"/>
<rect x="720" y="216" width="25" height="5" fill="#0064ff"/>
<rect x="745" y="216" width="5" height="5" fill="#0091ff"/>
<rect x="750" y="216" width="5" height="5" fill="#00fff4"/>
<rect x="755" y="216" width="5" height="5" fill="#00ffe3"/>
<rect x="760" y="216" width="5" height="5" fill="#00ff43"/>
<rect x="765" y="216" width="10" height="5" fill="#00ff32"/>
<rect x="775" y="216" width="5" height="5" fill="#00ff43"/>
<rect x="780" y="216" width="5" height="5" fill="#00ff9c"/>
<rect x="785" y="216" width="5" height="5" fill="#00ffae"/>
<rect x="790" y="216" width="10" height="5" fill="#00fff4"/>
<rect x="800" y="216" width="5" height="5" fill="#00bfff"/>
<rect x="805" y="216" width="5" height="5" fill="#0091ff"/>
<rect x="810" y="216" width="10" height="5" fill="#0064ff"/>
<rect x="820" y="216" width="10" height="5" fill="#0000d4"/>
<rect x="830" y="216" width="5" height="5" fill="#0064ff"/>
<rect x="835" y="216" width="5" height="5" fill="#0091ff"/>
<rect x="840" y="216" width="5" height="5" fill="#00fff4"/>
<rect x="845" y="216" width="5" height="5" fill="#00ffe3"/>
<rect x="850" y="216" width="5" height="5" fill="#00ff43"/>
<rect x="855" y="216" width="5" height="5" fill="#00ff20"/>
<rect x="860" y="216" width="10" height="5" fill="#97ff00"/>
<rect x="870" y="216" width="5" height="5" fill="#00ff8a"/>
<rect x="875" y="216" width="5" height="5" fill="#00ffae"/>
<rect x="880" y="216" width="10" height="5" fill="#00fff4"/>
<rect x="890" y="216" width="30" height="5" fill="#00bfff"/>
<rect x="920" y="216" width="5" height="5" fill="#0091ff"/>
<rect x="925" y="216" width="15" height="5" fill="#0064ff"/>
<rect x="940" y="216" width="10" height="5" fill="#00bfff"/>
<rect x="950" y="216" width="3" height="5" fill="#0091ff"/>
<rect x="690" y="221" width="10" height="5" fill="#0064ff"/>
<rect x="700" y="221" width="10" height="5" fill="#0008ff"/>
<rect x="710" y="221" width="10" height="5" fill="#0064ff"/>
<rect x="720" y="221" width="5" height="5" fill="#0091ff"/>
<rect x="725" y="221" width="10" height="5" fill="#00bfff"/>
<rect x="735" y="221" width="5" height="5" fill="#0091ff"/>
<rect x="740" y="221" width="5" height="5" fill="#0064ff"/>
<rect x="745" y="221" width="5" height="5" fill="#0091ff"/>
<rect x="750" y="221" width="5" height="5" fill="#00ffbf"/>
<rect x="755" y="221" width="5" height="5" fill="#00ffae"/>
<rect x="760" y="221" width="5" height="5" fill="#00ff43"/>
<rect x="765" y="221" width="10" height="5" fill="#00ff32"/>
<rect x="775" y="221" width="5" height="5" fill="#00ff43"/>
<rect x="780" y="221" width="5" height="5" fill="#00ff9c"/>
<rect x="785" y="221" width="5" height="5" fill="#00ffae"/>
<rect x="790" y="221" width="10" height="5" fill="#00fff4"/>
<rect x="800" y="221" width="5" height="5" fill="#00bfff"/>
<rect x="805" y="221" width="5" height="5" fill="#0091ff"/>
<rect x="810" y="221" width="20" height="5" fill="#0008ff"/>
<rect x="830" y="221" width="5" height="5" fill="#0064ff"/>
<rect x="835" y="221" width="5" height="5" fill="#0091ff"/>
<rect x="840" y="221" width="5" height="5" fill="#00ffbf"/>
<rect x="845" y="221" width="5" height="5" fill="#00ff9c"/>
<rect x="850" y="221" width="5" height="5" fill="#1dff00"/>
<rect x="855" y="221" width="5" height="5" fill="#35ff00"/>
<rect x="860" y="221" width="5" height="5" fill="#afff00"/>
<rect x="865" y="221" width="5" height="5" fill="#97ff00"/>
<rect x="870" y="221" width="5" height="5" fill="#00ff8a"/>
<rect x="875" y="221" width="5" height="5" fill="#00ffae"/>
<rect x="880" y="221" width="10" height="5" fill="#00fff4"/>
<rect x="890" y="221" width="35" height="5" fill="#00bfff"/>
<rect x="925" y="221" width="5" height="5" fill="#0091ff"/>
<rect x="930" y="221" width="10" height="5" fill="#0064ff"/>
<rect x="940" y="221" width="10" height="5" fill="#00bfff"/>
<rect x="950" y="221" width="3" height="5" fill="#0091ff"/>
<rect x="690" y="226" width="10" height="5" fill="#0091ff"/>
<rect x="700" y="226" width="10" height="5" fill="#0000e3"/>
<rect x="710" y="226" width="10" height="5" fill="#0064ff"/>
<rect x="720" y="226" width="20" height="5" fill="#00bfff"/>
<rect x="740" y="226" width="10" height="5" fill="#0091ff"/>
<rect x="750" y="226" width="5" height="5" fill="#00ffae"/>
<rect x="755" y="226" width="5" height="5" fill="#00ff9c"/>
<rect x="760" y="226" width="5" height="5" fill="#00ff43"/>
<rect x="765" y="226" width="10" height="5" fill="#00ff32"/>
<rect x="775" y="226" width="5" height="5" fill="#00ff43"/>
<rect x="780" y="226" width="5" height="5" fill="#00ff9c"/>
<rect x="785" y="226" width="5" height="5" fill="#00ffae"/>
<rect x="790" y="226" width="10" height="5" fill="#00fff4"/>
<rect x="800" y="226" width="5" height="5" fill="#00bfff"/>
<rect x="805" y="226" width="5" height="5" fill="#0091ff"/>
<rect x="810" y="226" width="20" height="5" fill="#0000d4"/>
<rect x="830" y="226" width="5" height="5" fill="#0064ff"/>
<rect x="835" y="226" width="5" height="5" fill="#0091ff"/>
<rect x="840" y="226" width="5" height="5" fill="#00ffae"/>
<rect x="845" y="226" width="5" height="5" fill="#00ff9c"/>
<rect x="850" y="226" width="5" height="5" fill="#1dff00"/>
<rect x="855" y="226" width="5" height="5" fill="#4eff00"/>
<rect x="860" y="226" width="5" height="5" fill="#afff00"/>
<rect x="865" y="226" width="5" height="5" fill="#97ff00"/>
<rect x="870" y="226" width="5" height="5" fill="#00ff8a"/>
<rect x="875" y="226" width="5" height="5" fill="#00ffae"/>
<rect x="880" y="226" width="10" height="5" fill="#00fff4"/>
<rect x="890" y="226" width="40" height="5" fill="#00bfff"/>
<rect x="930" y="226" width="10" height="5" fill="#0091ff"/>
<rect x="940" y="226" width="10" height="5" fill="#00bfff"/>
<rect x="950" y="226" width="3" height="5" fill="#0091ff"/>
<rect x="690" y="231" width="5" height="5" fill="#00ffae"/>
<rect x="695" y="231" width="5" height="5" fill="#00ffbf"/>
<rect x="700" y="231" width="5" height="5" fill="#0091ff"/>
<rect x="705" y="231" width="15" height="5" fill="#0064ff"/>
<rect x="720" y="231" width="30" height="5" fill="#00bfff"/>
<rect x="750" y="231" width="5" height="5" fill="#00ffae"/>
<rect x="755" y="231" width="5" height="5" fill="#00ff9c"/>
<rect x="760" y="231" width="5" height="5" fill="#00ff43"/>
<rect x="765" y="231" width="15" height="5" fill="#00ff32"/>
<rect x="780" y="231" width="5" height="5" fill="#00ff43"/>
<rect x="785" y="231" width="5" height="5" fill="#00ff55"/>
<rect x="790" y="231" width="5" height="5" fill="#00ffe3"/>
<rect x="795" y="231" width="5" height="5" fill="#00fff4"/>
<rect x="800" y="231" width="5" height="5" fill="#00bfff"/>
<rect x="805" y="231" width="5" height="5" fill="#0091ff"/>
<rect x="810" y="231" width="20" height="5" fill="#0008ff"/>
<rect x="830" y="231" width="5" height="5" fill="#0064ff"/>
<rect x="835" y="231" width="5" height="5" fill="#0091ff"/>
<rect x="840" y="231" width="5" height="5" fill="#00ffae"/>
<rect x="845" y="231" width="5" height="5" fill="#00ff9c"/>
<rect x="850" y="231" width="5" height="5" fill="#1dff00"/>
<rect x="855" y="231" width="5" height="5" fill="#4eff00"/>
<rect x="860" y="231" width="5" height="5" fill="#afff00"/>
<rect x="865" y="231" width="5" height="5" fill="#97ff00"/>
<rect x="870" y="231" width="5" height="5" fill="#00ff8a"/>
<rect x="875" y="231" width="5" height="5" fill="#00ffae"/>
<rect x="880" y="231" width="20" height="5" fill="#00fff4"/>
<rect x="900" y="231" width="53" height="5" fill="#00bfff"/>
<rect x="690" y="236" width="5" height="5" fill="#00ff8a"/>
<rect x="695" y="236" width="5" height="5" fill="#00ff9c"/>
<rect x="700" y="236" width="5" height="5" fill="#00bfff"/>
<rect x="705" y="236" width="25" height="5" fill="#0091ff"/>
<rect x="730" y="236" width="20" height="5" fill="#00bfff"/>
<rect x="750" y="236" width="5" height="5" fill="#00ffbf"/>
<rect x="755" y="236" width="5" height="5" fill="#00ffae"/>
<rect x="760" y="236" width="5" height="5" fill="#00ff43"/>
<rect x="765" y="236" width="20" height="5" fill="#00ff32"/>
<rect x="785" y="236" width="5" height="5" fill="#00ff43"/>
<rect x="790" y="236" width="5" height="5" fill="#00ffe3"/>
<rect x="795" y="236" width="5" height="5" fill="#00fff4"/>
<rect x="800" y="236" width="5" height="5" fill="#00bfff"/>
<rect x="805" y="236" width="5" height="5" fill="#0091ff"/>
<rect x="810" y="236" width="15" height="5" fill="#0000d4"/>
<rect x="825" y="236" width="5" height="5" fill="#0000e3"/>
<rect x="830" y="236" width="5" height="5" fill="#0064ff"/>
<rect x="835" y="236" width="5" height="5" fill="#0091ff"/>
<rect x="840" y="236" width="5" height="5" fill="#00ffae"/>
<rect x="845" y="236" width="5" height="5" fill="#00ff9c"/>
<rect x="850" y="236" width="5" height="5" fill="#1dff00"/>
<rect x="855" y="236" width="5" height="5" fill="#4eff00"/>
<rect x="860" y="236" width="5" height="5" fill="#afff00"/>
<rect x="865" y="236" width="5" height="5" fill="#97ff00"/>
<rect x="870" y="236" width="5" height="5" fill="#00ff8a"/>
<rect x="875" y="236" width="5" height="5" fill="#00ffae"/>
<rect x="880" y="236" width="20" height="5" fill="#00fff4"/>
<rect x="900" y="236" width="53" height="5" fill="#00bfff"/>
<rect x="690" y="241" width="5" height="5" fill="#97ff00"/>
<rect x="695" y="241" width="5" height="5" fill="#66ff00"/>
<rect x="700" y="241" width="5" height="5" fill="#00ff9c"/>
<rect x="705" y="241" width="5" height="5" fill="#00ffbf"/>
<rect x="710" y="241" width="5" height="5" fill="#00bfff"/>
<rect x="715" y="241" width="5" height="5" fill="#0091ff"/>
<rect x="720" y="241" width="10" height="5" fill="#0008ff"/>
<rect x="730" y="241" width="5" height="5" fill="#0091ff"/>
<rect x="735" y="241" width="15" height="5" fill="#00bfff"/>
<rect x="750" y="241" width="5" height="5" fill="#00fff4"/>
<rect x="755" y="241" width="5" height="5" fill="#00ffe3"/>
<rect x="760" y="241" width="5" height="5" fill="#00ff43"/>
<rect x="765" y="241" width="20" height="5" fill="#00ff32"/>
<rect x="785" y="241" width="5" height="5" fill="#00ff43"/>
<rect x="790" y="241" width="10" height="5" fill="#00ffae"/>
<rect x="800" y="241" width="5" height="5" fill="#00fff4"/>
<rect x="805" y="241" width="5" height="5" fill="#00edff"/>
<rect x="810" y="241" width="10" height="5" fill="#0008ff"/>
<rect x="820" y="241" width="15" height="5" fill="#0064ff"/>
<rect x="835" y="241" width="5" height="5" fill="#0091ff"/>
<rect x="840" y="241" width="5" height="5" fill="#00ffae"/>
<rect x="845" y="241" width="5" height="5" fill="#00ff9c"/>
<rect x="850" y="241" width="5" height="5" fill="#1dff00"/>
<rect x="855" y="241" width="5" height="5" fill="#4eff00"/>
<rect x="860" y="241" width="5" height="5" fill="#f8ff00"/>
<rect x="865" y="241" width="5" height="5" fill="#dfff00"/>
<rect x="870" y="241" width="5" height="5" fill="#00ff8a"/>
<rect x="875" y="241" width="5" height="5" fill="#00ffae"/>
<rect x="880" y="241" width="30" height="5" fill="#00fff4"/>
<rect x="910" y="241" width="43" height="5" fill="#00bfff"/>
<rect x="690" y="246" width="5" height="5" fill="#afff00"/>
<rect x="695" y="246" width="5" height="5" fill="#97ff00"/>
<rect x="700" y="246" width="5" height="5" fill="#00ff8a"/>
<rect x="705" y="246" width="5" height="5" fill="#00ffae"/>
<rect x="710" y="246" width="5" height="5" fill="#00bfff"/>
<rect x="715" y="246" width="5" height="5" fill="#0091ff"/>
<rect x="720" y="246" width="10" height="5" fill="#0000d4"/>
<rect x="730" y="246" width="5" height="5" fill="#0091ff"/>
<rect x="735" y="246" width="15" height="5" fill="#00bfff"/>
<rect x="750" y="246" width="5" height="5" fill="#00fff4"/>
<rect x="755" y="246" width="5" height="5" fill="#00ffe3"/>
<rect x="760" y="246" width="5" height="5" fill="#00ff43"/>
<rect x="765" y="246" width="20" height="5" fill="#00ff32"/>
<rect x="785" y="246" width="5" height="5" fill="#00ff43"/>
<rect x="790" y="246" width="5" height="5" fill="#00ff9c"/>
<rect x="795" y="246" width="5" height="5" fill="#00ffae"/>
<rect x="800" y="246" width="5" height="5" fill="#00fff4"/>
<rect x="805" y="246" width="5" height="5" fill="#00edff"/>
<rect x="810" y="246" width="10" height="5" fill="#0000e3"/>
<rect x="820" y="246" width="15" height="5" fill="#0064ff"/>
<rect x="835" y="246" width="5" height="5" fill="#0091ff"/>
<rect x="840" y="246" width="5" height="5" fill="#00ffae"/>
<rect x="845" y="246" width="5" height="5" fill="#00ff8a"/>
<rect x="850" y="246" width="5" height="5" fill="#1dff00"/>
<rect x="855" y="246" width="5" height="5" fill="#4eff00"/>
<rect x="860" y="246" width="5" height="5" fill="#f8ff00"/>
<rect x="865" y="246" width="5" height="5" fill="#dfff00"/>
<rect x="870" y="246" width="5" height="5" fill="#00ff8a"/>
<rect x="875" y="246" width="5" height="5" fill="#00ffae"/>
<rect x="880" y="246" width="5" height="5" fill="#00ffe3"/>
<rect x="885" y="246" width="25" height="5" fill="#00fff4"/>
<rect x="910" y="246" width="43" height="5" fill="#00bfff"/>
<rect x="690" y="251" width="5" height="5" fill="#afff00"/>
<rect x="695" y="251" width="5" height="5" fill="#97ff00"/>
<rect x="700" y="251" width="5" height="5" fill="#00ff32"/>
<rect x="705" y="251" width="5" height="5" fill="#00ff55"/>
<rect x="710" y="251" width="5" height="5" fill="#00edff"/>
<rect x="715" y="251" width="5" height="5" fill="#0091ff"/>
<rect x="720" y="251" width="10" height="5" fill="#0008ff"/>
<rect x="730" y="251" width="15" height="5" fill="#0064ff"/>
<rect x="745" y="251" width="5" height="5" fill="#0091ff"/>
<rect x="750" y="251" width="5" height="5" fill="#00fff4"/>
<rect x="755" y="251" width="5" height="5" fill="#00ffe3"/>
<rect x="760" y="251" width="5" height="5" fill="#00ff43"/>
<rect x="765" y="251" width="20" height="5" fill="#00ff32"/>
<rect x="785" y="251" width="5" height="5" fill="#00ff43"/>
<rect x="790" y="251" width="5" height="5" fill="#00ff9c"/>
<rect x="795" y="251" width="5" height="5" fill="#00ffae"/>
<rect x="800" y="251" width="10" height="5" fill="#00fff4"/>
<rect x="810" y="251" width="20" height="5" fill="#0064ff"/>
<rect x="830" y="251" width="5" height="5" fill="#0091ff"/>
<rect x="835" y="251" width="5" height="5" fill="#00edff"/>
<rect x="840" y="251" width="5" height="5" fill="#00ff55"/>
<rect x="845" y="251" width="5" height="5" fill="#00ff32"/>
<rect x="850" y="251" width="5" height="5" fill="#35ff00"/>
<rect x="855" y="251" width="5" height="5" fill="#4eff00"/>
<rect x="860" y="251" width="5" height="5" fill="#f8ff00"/>
<rect x="865" y="251" width="5" height="5" fill="#dfff00"/>
<rect x="870" y="251" width="5" height="5" fill="#00ff8a"/>
<rect x="875" y="251" width="15" height="5" fill="#00ffae"/>
<rect x="890" y="251" width="30" height="5" fill="#00fff4"/>
<rect x="920" y="251" width="33" height="5" fill="#00bfff"/>
<rect x="690" y="256" width="5" height="5" fill="#afff00"/>
<rect x="695" y="256" width="5" height="5" fill="#97ff00"/>
<rect x="700" y="256" width="5" height="5" fill="#00ff32"/>
<rect x="705" y="256" width="5" height="5" fill="#00ff55"/>
<rect x="710" y="256" width="5" height="5" fill="#00edff"/>
<rect x="715" y="256" width="5" height="5" fill="#0091ff"/>
<rect x="720" y="256" width="10" height="5" fill="#0000d4"/>
<rect x="730" y="256" width="15" height="5" fill="#0064ff"/>
<rect x="745" y="256" width="5" height="5" fill="#0091ff"/>
<rect x="750" y="256" width="5" height="5" fill="#00fff4"/>
<rect x="755" y="256" width="5" height="5" fill="#00ffe3"/>
<rect x="760" y="256" width="5" height="5" fill="#00ff55"/>
<rect x="765" y="256" width="15" height="5" fill="#00ff43"/>
<rect x="780" y="256" width="5" height="5" fill="#00ff32"/>
<rect x="785" y="256" width="5" height="5" fill="#00ff43"/>
<rect x="790" y="256" width="5" height="5" fill="#00ff9c"/>
<rect x="795" y="256" width="5" height="5" fill="#00ffae"/>
<rect x="800" y="256" width="10" height="5" fill="#00fff4"/>
<rect x="810" y="256" width="20" height="5" fill="#0091ff"/>
<rect x="830" y="256" width="5" height="5" fill="#00bfff"/>
<rect x="835" y="256" width="5" height="5" fill="#00edff"/>
<rect x="840" y="256" width="5" height="5" fill="#00ff43"/>
<rect x="845" y="256" width="5" height="5" fill="#00ff32"/>
<rect x="850" y="256" width="5" height="5" fill="#35ff00"/>
<rect x="855" y="256" width="5" height="5" fill="#4eff00"/>
<rect x="860" y="256" width="5" height="5" fill="#f8ff00"/>
<rect x="865" y="256" width="5" height="5" fill="#dfff00"/>
<rect x="870" y="256" width="5" height="5" fill="#00ff8a"/>
<rect x="875" y="256" width="15" height="5" fill="#00ffae"/>
<rect x="890" y="256" width="5" height="5" fill="#00ffe3"/>
<rect x="895" y="256" width="25" height="5" fill="#00fff4"/>
<rect x="920" y="256" width="33" height="5" fill="#00bfff"/>
<rect x="690" y="261" width="5" height="5" fill="#afff00"/>
<rect x="695" y="261" width="5" height="5" fill="#97ff00"/>
<rect x="700" y="261" width="5" height="5" fill="#00ff8a"/>
<rect x="705" y="261" width="5" height="5" fill="#00ffae"/>
<rect x="710" y="261" width="5" height="5" fill="#00bfff"/>
<rect x="715" y="261" width="5" height="5" fill="#0091ff"/>
<rect x="720" y="261" width="10" height="5" fill="#0008ff"/>
<rect x="730" y="261" width="15" height="5" fill="#0064ff"/>
<rect x="745" y="261" width="5" height="5" fill="#0091ff"/>
<rect x="750" y="261" width="10" height="5" fill="#00fff4"/>
<rect x="760" y="261" width="5" height="5" fill="#00ffae"/>
<rect x="765" y="261" width="15" height="5" fill="#00ff9c"/>
<rect x="780" y="261" width="10" height="5" fill="#00ff43"/>
<rect x="790" y="261" width="5" height="5" fill="#00ff9c"/>
<rect x="795" y="261" width="5" height="5" fill="#00ffae"/>
<rect x="800" y="261" width="20" height="5" fill="#00fff4"/>
<rect x="820" y="261" width="15" height="5" fill="#00bfff"/>
<rect x="835" y="261" width="5" height="5" fill="#00edff"/>
<rect x="840" y="261" width="5" height="5" fill="#00ff43"/>
<rect x="845" y="261" width="5" height="5" fill="#00ff32"/>
<rect x="850" y="261" width="5" height="5" fill="#35ff00"/>
<rect x="855" y="261" width="5" height="5" fill="#4eff00"/>
<rect x="860" y="261" width="5" height="5" fill="#f8ff00"/>
<rect x="865" y="261" width="5" height="5" fill="#dfff00"/>
<rect x="870" y="261" width="5" height="5" fill="#00ff8a"/>
<rect x="875" y="261" width="25" height="5" fill="#00ffae"/>
<rect x="900" y="261" width="20" height="5" fill="#00fff4"/>
<rect x="920" y="261" width="33" height="5" fill="#00bfff"/>
<rect x="690" y="266" width="5" height="5" fill="#afff00"/>
<rect x="695" y="266" width="5" height="5" fill="#97ff00"/>
<rect x="700" y="266" width="5" height="5" fill="#00ff8a"/>
<rect x="705" y="266" width="5" height="5" fill="#00ffae"/>
<rect x="710" y="266" width="5" height="5" fill="#00bfff"/>
<rect x="715" y="266" width="5" height="5" fill="#0091ff"/>
<rect x="720" y="266" width="10" height="5" fill="#0000d4"/>
<rect x="730" y="266" width="15" height="5" fill="#0064ff"/>
<rect x="745" y="266" width="5" height="5" fill="#0091ff"/>
<rect x="750" y="266" width="10" height="5" fill="#00fff4"/>
<rect x="760" y="266" width="10" height="5" fill="#00ffae"/>
<rect x="770" y="266" width="10" height="5" fill="#00ff9c"/>
<rect x="780" y="266" width="10" height="5" fill="#00ff43"/>
<rect x="790" y="266" width="5" height="5" fill="#00ff9c"/>
<rect x="795" y="266" width="5" height="5" fill="#00ffae"/>
<rect x="800" y="266" width="20" height="5" fill="#00fff4"/>
<rect x="820" y="266" width="15" height="5" fill="#00bfff"/>
<rect x="835" y="266" width="5" height="5" fill="#00edff"/>
<rect x="840" y="266" width="5" height="5" fill="#00ff43"/>
<rect x="845" y="266" width="5" height="5" fill="#00ff32"/>
<rect x="850" y="266" width="5" height="5" fill="#35ff00"/>
<rect x="855" y="266" width="5" height="5" fill="#4eff00"/>
<rect x="860" y="266" width="5" height="5" fill="#f8ff00"/>
<rect x="865" y="266" width="5" height="5" fill="#dfff00"/>
<rect x="870" y="266" width="5" height="5" fill="#00ff8a"/>
<rect x="875" y="266" width="25" height="5" fill="#00ffae"/>
<rect x="900" y="266" width="20" height="5" fill="#00fff4"/>
<rect x="920" y="266" width="33" height="5" fill="#00bfff"/>
<rect x="690" y="271" width="5" height="5" fill="#afff00"/>
<rect x="695" y="271" width="5" height="5" fill="#97ff00"/>
<rect x="700" y="271" width="5" height="5" fill="#00ff8a"/>
<rect x="705" y="271" width="5" height="5" fill="#00ffae"/>
<rect x="710" y="271" width="5" height="5" fill="#00bfff"/>
<rect x="715" y="271" width="5" height="5" fill="#0091ff"/>
<rect x="720" y="271" width="10" height="5" fill="#0008ff"/>
<rect x="730" y="271" width="15" height="5" fill="#0064ff"/>
<rect x="745" y="271" width="5" height="5" fill="#0091ff"/>
<rect x="750" y="271" width="10" height="5" fill="#00fff4"/>
<rect x="760" y="271" width="5" height="5" fill="#00ffae"/>
<rect x="765" y="271" width="5" height="5" fill="#00ff9c"/>
<rect x="770" y="271" width="10" height="5" fill="#00ff43"/>
<rect x="780" y="271" width="5" height="5" fill="#00ff32"/>
<rect x="785" y="271" width="5" height="5" fill="#00ff43"/>
<rect x="790" y="271" width="5" height="5" fill="#00ff9c"/>
<rect x="795" y="271" width="5" height="5" fill="#00ffae"/>
<rect x="800" y="271" width="35" height="5" fill="#00fff4"/>
<rect x="835" y="271" width="5" height="5" fill="#00ffe3"/>
<rect x="840" y="271" width="5" height="5" fill="#00ff43"/>
<rect x="845" y="271" width="5" height="5" fill="#00ff32"/>
<rect x="850" y="271" width="5" height="5" fill="#35ff00"/>
<rect x="855" y="271" width="5" height="5" fill="#4eff00"/>
<rect x="860" y="271" width="5" height="5" fill="#f8ff00"/>
<rect x="865" y="271" width="5" height="5" fill="#dfff00"/>
<rect x="870" y="271" width="5" height="5" fill="#00ff8a"/>
<rect x="875" y="271" width="25" height="5" fill="#00ffae"/>
<rect x="900" y="271" width="30" height="5" fill="#00fff4"/>
<rect x="930" y="271" width="10" height="5" fill="#00bfff"/>
<rect x="940" y="271" width="10" height="5" fill="#00fff4"/>
<rect x="950" y="271" width="3" height="5" fill="#00bfff"/>
<rect x="690" y="276" width="5" height="5" fill="#afff00"/>
<rect x="695" y="276" width="5" height="5" fill="#97ff00"/>
<rect x="700" y="276" width="5" height="5" fill="#00ff8a"/>
<rect x="705" y="276" width="5" height="5" fill="#00ffae"/>
<rect x="710" y="276" width="5" height="5" fill="#00bfff"/>
<rect x="715" y="276" width="5" height="5" fill="#0091ff"/>
<rect x="720" y="276" width="10" height="5" fill="#0000d4"/>
<rect x="730" y="276" width="15" height="5" fill="#0064ff"/>
<rect x="745" y="276" width="5" height="5" fill="#0091ff"/>
<rect x="750" y="276" width="10" height="5" fill="#00fff4"/>
<rect x="760" y="276" width="5" height="5" fill="#00ffae"/>
<rect x="765" y="276" width="5" height="5" fill="#00ff9c"/>
<rect x="770" y="276" width="5" height="5" fill="#00ff43"/>
<rect x="775" y="276" width="10" height="5" fill="#00ff32"/>
<rect x="785" y="276" width="5" height="5" fill="#00ff43"/>
<rect x="790" y="276" width="5" height="5" fill="#00ff9c"/>
<rect x="795" y="276" width="5" height="5" fill="#00ffae"/>
<rect x="800" y="276" width="5" height="5" fill="#00ffe3"/>
<rect x="805" y="276" width="30" height="5" fill="#00fff4"/>
<rect x="835" y="276" width="5" height="5" fill="#00ffe3"/>
<rect x="840" y="276" width="5" height="5" fill="#00ff43"/>
<rect x="845" y="276" width="5" height="5" fill="#00ff32"/>
<rect x="850" y="276" width="5" height="5" fill="#35ff00"/>
<rect x="855" y="276" width="5" height="5" fill="#4eff00"/>
<rect x="860" y="276" width="5" height="5" fill="#f8ff00"/>
<rect x="865" y="276" width="5" height="5" fill="#dfff00"/>
<rect x="870" y="276" width="5" height="5" fill="#00ff8a"/>
<rect x="875" y="276" width="5" height="5" fill="#00ff9c"/>
<rect x="880" y="276" width="20" height="5" fill="#00ffae"/>
<rect x="900" y="276" width="5" height="5" fill="#00ffe3"/>
<rect x="905" y="276" width="25" height="5" fill="#00fff4"/>
<rect x="930" y="276" width="10" height="5" fill="#00bfff"/>
<rect x="940" y="276" width="10" height="5" fill="#00fff4"/>
<rect x="950" y="276" width="3" height="5" fill="#00bfff"/>
<rect x="690" y="281" width="5" height="5" fill="#afff00"/>
<rect x="695" y="281" width="5" height="5" fill="#97ff00"/>
<rect x="700" y="281" width="5" height="5" fill="#00ff8a"/>
<rect x="705" y="281" width="5" height="5" fill="#00ffae"/>
<rect x="710" y="281" width="5" height="5" fill="#00bfff"/>
<rect x="715" y="281" width="5" height="5" fill="#0091ff"/>
<rect x="720" y="281" width="10" height="5" fill="#0008ff"/>
<rect x="730" y="281" width="15" height="5" fill="#0064ff"/>
<rect x="745" y="281" width="5" height="5" fill="#0091ff"/>
<rect x="750" y="281" width="10" height="5" fill="#00fff4"/>
<rect x="760" y="281" width="5" height="5" fill="#00ffae"/>
<rect x="765" y="281" width="5" height="5" fill="#00ff9c"/>
<rect x="770" y="281" width="5" height="5" fill="#00ff43"/>
<rect x="775" y="281" width="10" height="5" fill="#00ff32"/>
<rect x="785" y="281" width="5" height="5" fill="#00ff43"/>
<rect x="790" y="281" width="5" height="5" fill="#00ff9c"/>
<rect x="795" y="281" width="15" height="5" fill="#00ffae"/>
<rect x="810" y="281" width="25" height="5" fill="#00fff4"/>
<rect x="835" y="281" width="5" height="5" fill="#00ffe3"/>
<rect x="840" y="281" width="5" height="5" fill="#00ff43"/>
<rect x="845" y="281" width="5" height="5" fill="#00ff20"/>
<rect x="850" y="281" width="5" height="5" fill="#97ff00"/>
<rect x="855" y="281" width="5" height="5" fill="#afff00"/>
<rect x="860" y="281" width="5" height="5" fill="#f8ff00"/>
<rect x="865" y="281" width="5" height="5" fill="#dfff00"/>
<rect x="870" y="281" width="5" height="5" fill="#00ff32"/>
<rect x="875" y="281" width="5" height="5" fill="#00ff43"/>
<rect x="880" y="281" width="5" height="5" fill="#00ff9c"/>
<rect x="885" y="281" width="25" height="5" fill="#00ffae"/>
<rect x="910" y="281" width="43" height="5" fill="#00fff4"/>
<rect x="690" y="286" width="5" height="5" fill="#afff00"/>
<rect x="695" y="286" width="5" height="5" fill="#97ff00"/>
<rect x="700" y="286" width="5" height="5" fill="#00ff9c"/>
<rect x="705" y="286" width="5" height="5" fill="#00ffbf"/>
<rect x="710" y="286" width="5" height="5" fill="#00bfff"/>
<rect x="715" y="286" width="5" height="5" fill="#0091ff"/>
<rect x="720" y="286" width="10" height="5" fill="#0000e3"/>
<rect x="730" y="286" width="15" height="5" fill="#0064ff"/>
<rect x="745" y="286" width="5" height="5" fill="#0091ff"/>
<rect x="750" y="286" width="10" height="5" fill="#00fff4"/>
<rect x="760" y="286" width="5" height="5" fill="#00ffae"/>
<rect x="765" y="286" width="5" height="5" fill="#00ff9c"/>
<rect x="770" y="286" width="5" height="5" fill="#00ff43"/>
<rect x="775" y="286" width="10" height="5" fill="#00ff32"/>
<rect x="785" y="286" width="5" height="5" fill="#00ff43"/>
<rect x="790" y="286" width="5" height="5" fill="#00ff9c"/>
<rect x="795" y="286" width="15" height="5" fill="#00ffae"/>
<rect x="810" y="286" width="25" height="5" fill="#00fff4"/>
<rect x="835" y="286" width="5" height="5" fill="#00ffe3"/>
<rect x="840" y="286" width="5" height="5" fill="#00ff43"/>
<rect x="845" y="286" width="5" height="5" fill="#00ff20"/>
<rect x="850" y="286" width="5" height="5" fill="#97ff00"/>
<rect x="855" y="286" width="5" height="5" fill="#afff00"/>
<rect x="860" y="286" width="10" height="5" fill="#f8ff00"/>
<rect x="870" y="286" width="5" height="5" fill="#00ff20"/>
<rect x="875" y="286" width="5" height="5" fill="#00ff43"/>
<rect x="880" y="286" width="5" height="5" fill="#00ff9c"/>
<rect x="885" y="286" width="25" height="5" fill="#00ffae"/>
<rect x="910" y="286" width="43" height="5" fill="#00fff4"/>
<rect x="690" y="291" width="5" height="5" fill="#afff00"/>
<rect x="695" y="291" width="5" height="5" fill="#7eff00"/>
<rect x="700" y="291" width="5" height="5" fill="#00ffd1"/>
<rect x="705" y="291" width="5" height="5" fill="#00fff4"/>
<rect x="710" y="291" width="5" height="5" fill="#00bfff"/>
<rect x="715" y="291" width="5" height="5" fill="#0091ff"/>
<rect x="720" y="291" width="20" height="5" fill="#0064ff"/>
<rect x="740" y="291" width="5" height="5" fill="#0091ff"/>
<rect x="745" y="291" width="5" height="5" fill="#00bfff"/>
<rect x="750" y="291" width="10" height="5" fill="#00fff4"/>
<rect x="760" y="291" width="5" height="5" fill="#00ffae"/>
<rect x="765" y="291" width="5" height="5" fill="#00ff9c"/>
<rect x="770" y="291" width="5" height="5" fill="#00ff43"/>
<rect x="775" y="291" width="10" height="5" fill="#00ff32"/>
<rect x="785" y="291" width="5" height="5" fill="#00ff43"/>
<rect x="790" y="291" width="5" height="5" fill="#00ff9c"/>
<rect x="795" y="291" width="15" height="5" fill="#00ffae"/>
<rect x="810" y="291" width="25" height="5" fill="#00fff4"/>
<rect x="835" y="291" width="5" height="5" fill="#00ffe3"/>
<rect x="840" y="291" width="5" height="5" fill="#00ff43"/>
<rect x="845" y="291" width="5" height="5" fill="#00ff20"/>
<rect x="850" y="291" width="5" height="5" fill="#97ff00"/>
<rect x="855" y="291" width="5" height="5" fill="#afff00"/>
<rect x="860" y="291" width="10" height="5" fill="#f8ff00"/>
<rect x="870" y="291" width="5" height="5" fill="#00ff20"/>
<rect x="875" y="291" width="5" height="5" fill="#00ff43"/>
<rect x="880" y="291" width="5" height="5" fill="#00ff9c"/>
<rect x="885" y="291" width="25" height="5" fill="#00ffae"/>
<rect x="910" y="291" width="43" height="5" fill="#00fff4"/>
<rect x="690" y="296" width="5" height="5" fill="#afff00"/>
<rect x="695" y="296" width="5" height="5" fill="#7eff00"/>
<rect x="700" y="296" width="5" height="5" fill="#00ffd1"/>
<rect x="705" y="296" width="5" height="5" fill="#00fff4"/>
<rect x="710" y="296" width="10" height="5" fill="#00bfff"/>
<rect x="720" y="296" width="20" height="5" fill="#0064ff"/>
<rect x="740" y="296" width="10" height="5" fill="#00bfff"/>
<rect x="750" y="296" width="10" height="5" fill="#00fff4"/>
<rect x="760" y="296" width="5" height="5" fill="#00ffae"/>
<rect x="765" y="296" width="5" height="5" fill="#00ff9c"/>
<rect x="770" y="296" width="10" height="5" fill="#00ff43"/>
<rect x="780" y="296" width="5" height="5" fill="#00ff32"/>
<rect x="785" y="296" width="5" height="5" fill="#00ff43"/>
<rect x="790" y="296" width="5" height="5" fill="#00ff9c"/>
<rect x="795" y="296" width="15" height="5" fill="#00ffae"/>
<rect x="810" y="296" width="25" height="5" fill="#00fff4"/>
<rect x="835" y="296" width="5" height="5" fill="#00ffe3"/>
<rect x="840" y="296" width="5" height="5" fill="#00ff43"/>
<rect x="845" y="296" width="5" height="5" fill="#00ff20"/>
<rect x="850" y="296" width="5" height="5" fill="#97ff00"/>
<rect x="855" y="296" width="5" height="5" fill="#afff00"/>
<rect x="860" y="296" width="10" height="5" fill="#f8ff00"/>
<rect x="870" y="296" width="5" height="5" fill="#00ff20"/>
<rect x="875" y="296" width="5" height="5" fill="#00ff43"/>
<rect x="880" y="296" width="5" height="5" fill="#00ff9c"/>
<rect x="885" y="296" width="25" height="5" fill="#00ffae"/>
<rect x="910" y="296" width="43" height="5" fill="#00fff4"/>
<rect x="690" y="301" width="5" height="5" fill="#afff00"/>
<rect x="695" y="301" width="5" height="5" fill="#7eff00"/>
<rect x="700" y="301" width="5" height="5" fill="#00ffd1"/>
<rect x="705" y="301" width="5" height="5" fill="#00fff4"/>
<rect x="710" y="301" width="10" height="5" fill="#00bfff"/>
<rect x="720" y="301" width="20" height="5" fill="#0064ff"/>
<rect x="740" y="301" width="10" height="5" fill="#00bfff"/>
<rect x="750" y="301" width="10" height="5" fill="#00fff4"/>
<rect x="760" y="301" width="10" height="5" fill="#00ffae"/>
<rect x="770" y="301" width="10" height="5" fill="#00ff9c"/>
<rect x="780" y="301" width="10" height="5" fill="#00ff43"/>
<rect x="790" y="301" width="5" height="5" fill="#00ff9c"/>
<rect x="795" y="301" width="15" height="5" fill="#00ffae"/>
<rect x="810" y="301" width="25" height="5" fill="#00fff4"/>
<rect x="835" y="301" width="5" height="5" fill="#00ffe3"/>
<rect x="840" y="301" width="5" height="5" fill="#00ff43"/>
<rect x="845" y="301" width="5" height="5" fill="#00ff20"/>
<rect x="850" y="301" width="5" height="5" fill="#97ff00"/>
<rect x="855" y="301" width="5" height="5" fill="#afff00"/>
<rect x="860" y="301" width="10" height="5" fill="#f8ff00"/>
<rect x="870" y="301" width="5" height="5" fill="#00ff20"/>
<rect x="875" y="301" width="5" height="5" fill="#00ff43"/>
<rect x="880" y="301" width="5" height="5" fill="#00ff9c"/>
<rect x="885" y="301" width="25" height="5" fill="#00ffae"/>
<rect x="910" y="301" width="43" height="5" fill="#00fff4"/>
<rect x="690" y="312" width="5" height="5" fill="#fff600"/>
<rect x="695" y="312" width="5" height="5" fill="#dfff00"/>
<rect x="700" y="312" width="5" height="5" fill="#00ff8a"/>
<rect x="705" y="312" width="5" height="5" fill="#00ffae"/>
<rect x="710" y="312" width="10" height="5" fill="#00bfff"/>
<rect x="720" y="312" width="20" height="5" fill="#0064ff"/>
<rect x="740" y="312" width="10" height="5" fill="#00bfff"/>
<rect x="750" y="312" width="10" height="5" fill="#00fff4"/>
<rect x="760" y="312" width="25" height="5" fill="#00ffae"/>
<rect x="785" y="312" width="5" height="5" fill="#00ff9c"/>
<rect x="790" y="312" width="10" height="5" fill="#1dff00"/>
<rect x="800" y="312" width="5" height="5" fill="#00ff9c"/>
<rect x="805" y="312" width="5" height="5" fill="#00ffae"/>
<rect x="810" y="312" width="10" height="5" fill="#00fff4"/>
<rect x="820" y="312" width="20" height="5" fill="#00bfff"/>
<rect x="840" y="312" width="5" height="5" fill="#00ffae"/>
<rect x="845" y="312" width="5" height="5" fill="#00ff9c"/>
<rect x="850" y="312" width="5" height="5" fill="#1dff00"/>
<rect x="855" y="312" width="5" height="5" fill="#4eff00"/>
<rect x="860" y="312" width="5" height="5" fill="#f8ff00"/>
<rect x="865" y="312" width="5" height="5" fill="#dfff00"/>
<rect x="870" y="312" width="5" height="5" fill="#00ff8a"/>
<rect x="875" y="312" width="5" height="5" fill="#00ff9c"/>
<rect x="880" y="312" width="5" height="5" fill="#00ff43"/>
<rect x="885" y="312" width="40" height="5" fill="#00ff32"/>
<rect x="925" y="312" width="5" height="5" fill="#00ff43"/>
<rect x="930" y="312" width="5" height="5" fill="#00ff9c"/>
<rect x="935" y="312" width="18" height="5" fill="#00ffae"/>
<rect x="690" y="317" width="5" height="5" fill="#fff600"/>
<rect x="695" y="317" width="5" height="5" fill="#dfff00"/>
<rect x="700" y="317" width="5" height="5" fill="#00ff8a"/>
<rect x="705" y="317" width="5" height="5" fill="#00ffae"/>
<rect x="710" y="317" width="10" height="5" fill="#00bfff"/>
<rect x="720" y="317" width="20" height="5" fill="#0064ff"/>
<rect x="740" y="317" width="5" height="5" fill="#0091ff"/>
<rect x="745" y="317" width="5" height="5" fill="#00bfff"/>
<rect x="750" y="317" width="10" height="5" fill="#00fff4"/>
<rect x="760" y="317" width="10" height="5" fill="#00ffae"/>
<rect x="770" y="317" width="10" height="5" fill="#00ff9c"/>
<rect x="780" y="317" width="5" height="5" fill="#00ffae"/>
<rect x="785" y="317" width="5" height="5" fill="#00ff9c"/>
<rect x="790" y="317" width="10" height="5" fill="#1dff00"/>
<rect x="800" y="317" width="5" height="5" fill="#00ff9c"/>
<rect x="805" y="317" width="5" height="5" fill="#00ffae"/>
<rect x="810" y="317" width="10" height="5" fill="#00fff4"/>
<rect x="820" y="317" width="20" height="5" fill="#00bfff"/>
<rect x="840" y="317" width="5" height="5" fill="#00ffae"/>
<rect x="845" y="317" width="5" height="5" fill="#00ff9c"/>
<rect x="850" y="317" width="5" height="5" fill="#1dff00"/>
<rect x="855" y="317" width="5" height="5" fill="#4eff00"/>
<rect x="860" y="317" width="5" height="5" fill="#f8ff00"/>
<rect x="865" y="317" width="5" height="5" fill="#dfff00"/>
<rect x="870" y="317" width="5" height="5" fill="#00ff8a"/>
<rect x="875" y="317" width="5" height="5" fill="#00ff9c"/>
<rect x="880" y="317" width="5" height="5" fill="#00ff43"/>
<rect x="885" y="317" width="35" height="5" fill="#00ff32"/>
<rect x="920" y="317" width="10" height="5" fill="#00ff43"/>
<rect x="930" y="317" width="5" height="5" fill="#00ff9c"/>
<rect x="935" y="317" width="18" height="5" fill="#00ffae"/>
<rect x="690" y="322" width="5" height="5" fill="#fff600"/>
<rect x="695" y="322" width="5" height="5" fill="#dfff00"/>
<rect x="700" y="322" width="5" height="5" fill="#00ff8a"/>
<rect x="705" y="322" width="5" height="5" fill="#00ffae"/>
<rect x="710" y="322" width="10" height="5" fill="#00bfff"/>
<rect x="720" y="322" width="25" height="5" fill="#0064ff"/>
<rect x="745" y="322" width="5" height="5" fill="#0091ff"/>
<rect x="750" y="322" width="10" height="5" fill="#00fff4"/>
<rect x="760" y="322" width="5" height="5" fill="#00ffae"/>
<rect x="765" y="322" width="5" height="5" fill="#00ff9c"/>
<rect x="770" y="322" width="10" height="5" fill="#00ff43"/>
<rect x="780" y="322" width="10" height="5" fill="#00ff9c"/>
<rect x="790" y="322" width="10" height="5" fill="#1dff00"/>
<rect x="800" y="322" width="5" height="5" fill="#00ff9c"/>
<rect x="805" y="322" width="5" height="5" fill="#00ffae"/>
<rect x="810" y="322" width="10" height="5" fill="#00fff4"/>
<rect x="820" y="322" width="20" height="5" fill="#00bfff"/>
<rect x="840" y="322" width="5" height="5" fill="#00ffae"/>
<rect x="845" y="322" width="5" height="5" fill="#00ff9c"/>
<rect x="850" y="322" width="5" height="5" fill="#1dff00"/>
<rect x="855" y="322" width="5" height="5" fill="#4eff00"/>
<rect x="860" y="322" width="5" height="5" fill="#f8ff00"/>
<rect x="865" y="322" width="5" height="5" fill="#dfff00"/>
<rect x="870" y="322" width="5" height="5" fill="#00ff32"/>
<rect x="875" y="322" width="5" height="5" fill="#00ff43"/>
<rect x="880" y="322" width="35" height="5" fill="#00ff32"/>
<rect x="915" y="322" width="5" height="5" fill="#00ff43"/>
<rect x="920" y="322" width="10" height="5" fill="#00ff9c"/>
<rect x="930" y="322" width="10" height="5" fill="#00ffae"/>
<rect x="940" y="322" width="5" height="5" fill="#00ffe3"/>
<rect x="945" y="322" width="8" height="5" fill="#00fff4"/>
<rect x="690" y="327" width="5" height="5" fill="#fff600"/>
<rect x="695" y="327" width="5" height="5" fill="#dfff00"/>
<rect x="700" y="327" width="5" height="5" fill="#00ff8a"/>
<rect x="705" y="327" width="5" height="5" fill="#00ffae"/>
<rect x="710" y="327" width="10" height="5" fill="#00bfff"/>
<rect x="720" y="327" width="25" height="5" fill="#0064ff"/>
<rect x="745" y="327" width="5" height="5" fill="#0091ff"/>
<rect x="750" y="327" width="10" height="5" fill="#00fff4"/>
<rect x="760" y="327" width="5" height="5" fill="#00ffae"/>
<rect x="765" y="327" width="5" height="5" fill="#00ff9c"/>
<rect x="770" y="327" width="10" height="5" fill="#00ff43"/>
<rect x="780" y="327" width="10" height="5" fill="#00ff9c"/>
<rect x="790" y="327" width="10" height="5" fill="#1dff00"/>
<rect x="800" y="327" width="5" height="5" fill="#00ff9c"/>
<rect x="805" y="327" width="5" height="5" fill="#00ffae"/>
<rect x="810" y="327" width="10" height="5" fill="#00fff4"/>
<rect x="820" y="327" width="20" height="5" fill="#00bfff"/>
<rect x="840" y="327" width="5" height="5" fill="#00ffae"/>
<rect x="845" y="327" width="5" height="5" fill="#00ff9c"/>
<rect x="850" y="327" width="5" height="5" fill="#1dff00"/>
<rect x="855" y="327" width="5" height="5" fill="#4eff00"/>
<rect x="860" y="327" width="10" height="5" fill="#f8ff00"/>
<rect x="870" y="327" width="5" height="5" fill="#00ff32"/>
<rect x="875" y="327" width="5" height="5" fill="#00ff43"/>
<rect x="880" y="327" width="35" height="5" fill="#00ff32"/>
<rect x="915" y="327" width="5" height="5" fill="#00ff43"/>
<rect x="920" y="327" width="10" height="5" fill="#00ff9c"/>
<rect x="930" y="327" width="10" height="5" fill="#00ffae"/>
<rect x="940" y="327" width="13" height="5" fill="#00fff4"/>
<rect x="690" y="332" width="5" height="5" fill="#fff600"/>
<rect x="695" y="332" width="5" height="5" fill="#dfff00"/>
<rect x="700" y="332" width="5" height="5" fill="#00ff8a"/>
<rect x="705" y="332" width="5" height="5" fill="#00ffae"/>
<rect x="710" y="332" width="10" height="5" fill="#00bfff"/>
<rect x="720" y="332" width="25" height="5" fill="#0064ff"/>
<rect x="745" y="332" width="5" height="5" fill="#0091ff"/>
<rect x="750" y="332" width="5" height="5" fill="#00fff4"/>
<rect x="755" y="332" width="5" height="5" fill="#00ffe3"/>
<rect x="760" y="332" width="5" height="5" fill="#00ff55"/>
<rect x="765" y="332" width="5" height="5" fill="#00ff43"/>
<rect x="770" y="332" width="5" height="5" fill="#00ff32"/>
<rect x="775" y="332" width="5" height="5" fill="#00ff43"/>
<rect x="780" y="332" width="10" height="5" fill="#00ff9c"/>
<rect x="790" y="332" width="10" height="5" fill="#1dff00"/>
<rect x="800" y="332" width="5" height="5" fill="#00ff9c"/>
<rect x="805" y="332" width="5" height="5" fill="#00ffae"/>
<rect x="810" y="332" width="10" height="5" fill="#00fff4"/>
<rect x="820" y="332" width="10" height="5" fill="#00bfff"/>
<rect x="830" y="332" width="10" height="5" fill="#00fff4"/>
<rect x="840" y="332" width="5" height="5" fill="#00ffae"/>
<rect x="845" y="332" width="5" height="5" fill="#00ff9c"/>
<rect x="850" y="332" width="5" height="5" fill="#1dff00"/>
<rect x="855" y="332" width="5" height="5" fill="#4eff00"/>
<rect x="860" y="332" width="5" height="5" fill="#ffd100"/>
<rect x="865" y="332" width="5" height="5" fill="#ffde00"/>
<rect x="870" y="332" width="5" height="5" fill="#00ff78"/>
<rect x="875" y="332" width="5" height="5" fill="#00ff9c"/>
<rect x="880" y="332" width="5" height="5" fill="#00ff43"/>
<rect x="885" y="332" width="5" height="5" fill="#00ff32"/>
<rect x="890" y="332" width="5" height="5" fill="#1dff00"/>
<rect x="895" y="332" width="10" height="5" fill="#35ff00"/>
<rect x="905" y="332" width="5" height="5" fill="#1dff00"/>
<rect x="910" y="332" width="10" height="5" fill="#00ff32"/>
<rect x="920" y="332" width="10" height="5" fill="#00ff43"/>
<rect x="930" y="332" width="5" height="5" fill="#00ff9c"/>
<rect x="935" y="332" width="5" height="5" fill="#00ffae"/>
<rect x="940" y="332" width="13" height="5" fill="#00fff4"/>
<rect x="690" y="337" width="5" height="5" fill="#fff600"/>
<rect x="695" y="337" width="5" height="5" fill="#dfff00"/>
<rect x="700" y="337" width="5" height="5" fill="#00ff8a"/>
<rect x="705" y="337" width="5" height="5" fill="#00ffae"/>
<rect x="710" y="337" width="10" height="5" fill="#00bfff"/>
<rect x="720" y="337" width="25" height="5" fill="#0064ff"/>
<rect x="745" y="337" width="5" height="5" fill="#0091ff"/>
<rect x="750" y="337" width="5" height="5" fill="#00fff4"/>
<rect x="755" y="337" width="5" height="5" fill="#00ffe3"/>
<rect x="760" y="337" width="5" height="5" fill="#00ff43"/>
<rect x="765" y="337" width="10" height="5" fill="#00ff32"/>
<rect x="775" y="337" width="5" height="5" fill="#00ff43"/>
<rect x="780" y="337" width="5" height="5" fill="#00ff9c"/>
<rect x="785" y="337" width="5" height="5" fill="#00ff8a"/>
<rect x="790" y="337" width="10" height="5" fill="#1dff00"/>
<rect x="800" y="337" width="5" height="5" fill="#00ff9c"/>
<rect x="805" y="337" width="5" height="5" fill="#00ffae"/>
<rect x="810" y="337" width="10" height="5" fill="#00fff4"/>
<rect x="820" y="337" width="10" height="5" fill="#00bfff"/>
<rect x="830" y="337" width="10" height="5" fill="#00fff4"/>
<rect x="840" y="337" width="5" height="5" fill="#00ffae"/>
<rect x="845" y="337" width="5" height="5" fill="#00ff9c"/>
<rect x="850" y="337" width="5" height="5" fill="#1dff00"/>
<rect x="855" y="337" width="5" height="5" fill="#4eff00"/>
<rect x="860" y="337" width="5" height="5" fill="#ffd100"/>
<rect x="865" y="337" width="5" height="5" fill="#ffde00"/>
<rect x="870" y="337" width="5" height="5" fill="#00ff8a"/>
<rect x="875" y="337" width="5" height="5" fill="#00ff9c"/>
<rect x="880" y="337" width="5" height="5" fill="#00ff43"/>
<rect x="885" y="337" width="5" height="5" fill="#00ff32"/>
<rect x="890" y="337" width="5" height="5" fill="#1dff00"/>
<rect x="895" y="337" width="10" height="5" fill="#35ff00"/>
<rect x="905" y="337" width="5" height="5" fill="#1dff00"/>
<rect x="910" y="337" width="15" height="5" fill="#00ff32"/>
<rect x="925" y="337" width="5" height="5" fill="#00ff43"/>
<rect x="930" y="337" width="5" height="5" fill="#00ff9c"/>
<rect x="935" y="337" width="5" height="5" fill="#00ffae"/>
<rect x="940" y="337" width="13" height="5" fill="#00fff4"/>
<rect x="690" y="342" width="5" height="5" fill="#fff600"/>
<rect x="695" y="342" width="5" height="5" fill="#dfff00"/>
<rect x="700" y="342" width="5" height="5" fill="#00ff8a"/>
<rect x="705" y="342" width="5" height="5" fill="#00ffae"/>
<rect x="710" y="342" width="10" height="5" fill="#00bfff"/>
<rect x="720" y="342" width="20" height="5" fill="#0064ff"/>
<rect x="740" y="342" width="5" height="5" fill="#0091ff"/>
<rect x="745" y="342" width="5" height="5" fill="#00bfff"/>
<rect x="750" y="342" width="5" height="5" fill="#00fff4"/>
<rect x="755" y="342" width="5" height="5" fill="#00ffe3"/>
<rect x="760" y="342" width="5" height="5" fill="#00ff43"/>
<rect x="765" y="342" width="15" height="5" fill="#00ff32"/>
<rect x="780" y="342" width="5" height="5" fill="#00ff43"/>
<rect x="785" y="342" width="5" height="5" fill="#00ff32"/>
<rect x="790" y="342" width="5" height="5" fill="#35ff00"/>
<rect x="795" y="342" width="5" height="5" fill="#1dff00"/>
<rect x="800" y="342" width="5" height="5" fill="#00ff9c"/>
<rect x="805" y="342" width="5" height="5" fill="#00ffae"/>
<rect x="810" y="342" width="30" height="5" fill="#00fff4"/>
<rect x="840" y="342" width="5" height="5" fill="#00ffae"/>
<rect x="845" y="342" width="5" height="5" fill="#00ff9c"/>
<rect x="850" y="342" width="5" height="5" fill="#1dff00"/>
<rect x="855" y="342" width="5" height="5" fill="#4eff00"/>
<rect x="860" y="342" width="5" height="5" fill="#ffd100"/>
<rect x="865" y="342" width="5" height="5" fill="#ffde00"/>
<rect x="870" y="342" width="5" height="5" fill="#00ff8a"/>
<rect x="875" y="342" width="5" height="5" fill="#00ff9c"/>
<rect x="880" y="342" width="5" height="5" fill="#00ff43"/>
<rect x="885" y="342" width="40" height="5" fill="#00ff32"/>
<rect x="925" y="342" width="5" height="5" fill="#00ff43"/>
<rect x="930" y="342" width="5" height="5" fill="#00ff9c"/>
<rect x="935" y="342" width="5" height="5" fill="#00ffae"/>
<rect x="940" y="342" width="13" height="5" fill="#00fff4"/>
<rect x="690" y="347" width="5" height="5" fill="#f8ff00"/>
<rect x="695" y="347" width="5" height="5" fill="#dfff00"/>
<rect x="700" y="347" width="5" height="5" fill="#00ff8a"/>
<rect x="705" y="347" width="5" height="5" fill="#00ffae"/>
<rect x="710" y="347" width="10" height="5" fill="#00bfff"/>
<rect x="720" y="347" width="20" height="5" fill="#0064ff"/>
<rect x="740" y="347" width="10" height="5" fill="#00bfff"/>
<rect x="750" y="347" width="5" height="5" fill="#00fff4"/>
<rect x="755" y="347" width="5" height="5" fill="#00ffe3"/>
<rect x="760" y="347" width="5" height="5" fill="#00ff43"/>
<rect x="765" y="347" width="25" height="5" fill="#00ff32"/>
<rect x="790" y="347" width="5" height="5" fill="#35ff00"/>
<rect x="795" y="347" width="5" height="5" fill="#1dff00"/>
<rect x="800" y="347" width="5" height="5" fill="#00ff9c"/>
<rect x="805" y="347" width="5" height="5" fill="#00ffae"/>
<rect x="810" y="347" width="30" height="5" fill="#00fff4"/>
<rect x="840" y="347" width="5" height="5" fill="#00ffae"/>
<rect x="845" y="347" width="5" height="5" fill="#00ff8a"/>
<rect x="850" y="347" width="5" height="5" fill="#1dff00"/>
<rect x="855" y="347" width="5" height="5" fill="#4eff00"/>
<rect x="860" y="347" width="5" height="5" fill="#ffd100"/>
<rect x="865" y="347" width="5" height="5" fill="#ffde00"/>
<rect x="870" y="347" width="5" height="5" fill="#00ff8a"/>
<rect x="875" y="347" width="5" height="5" fill="#00ff9c"/>
<rect x="880" y="347" width="5" height="5" fill="#00ff43"/>
<rect x="885" y="347" width="40" height="5" fill="#00ff32"/>
<rect x="925" y="347" width="5" height="5" fill="#00ff43"/>
<rect x="930" y="347" width="5" height="5" fill="#00ff9c"/>
<rect x="935" y="347" width="5" height="5" fill="#00ffae"/>
<rect x="940" y="347" width="13" height="5" fill="#00fff4"/>
<rect x="690" y="352" width="5" height="5" fill="#afff00"/>
<rect x="695" y="352" width="5" height="5" fill="#97ff00"/>
<rect x="700" y="352" width="5" height="5" fill="#00ff8a"/>
<rect x="705" y="352" width="5" height="5" fill="#00ffae"/>
<rect x="710" y="352" width="10" height="5" fill="#00bfff"/>
<rect x="720" y="352" width="20" height="5" fill="#0064ff"/>
<rect x="740" y="352" width="10" height="5" fill="#00bfff"/>
<rect x="750" y="352" width="5" height="5" fill="#00fff4"/>
<rect x="755" y="352" width="5" height="5" fill="#00ffe3"/>
<rect x="760" y="352" width="5" height="5" fill="#00ff43"/>
<rect x="765" y="352" width="25" height="5" fill="#00ff32"/>
<rect x="790" y="352" width="5" height="5" fill="#35ff00"/>
<rect x="795" y="352" width="5" height="5" fill="#1dff00"/>
<rect x="800" y="352" width="5" height="5" fill="#00ff9c"/>
<rect x="805" y="352" width="5" height="5" fill="#00ffae"/>
<rect x="810" y="352" width="25" height="5" fill="#00fff4"/>
<rect x="835" y="352" width="5" height="5" fill="#00ffe3"/>
<rect x="840" y="352" width="5" height="5" fill="#00ff55"/>
<rect x="845" y="352" width="5" height="5" fill="#00ff32"/>
<rect x="850" y="352" width="5" height="5" fill="#35ff00"/>
<rect x="855" y="352" width="5" height="5" fill="#4eff00"/>
<rect x="860" y="352" width="5" height="5" fill="#ffd100"/>
<rect x="865" y="352" width="5" height="5" fill="#ffde00"/>
<rect x="870" y="352" width="5" height="5" fill="#00ff8a"/>
<rect x="875" y="352" width="5" height="5" fill="#00ff9c"/>
<rect x="880" y="352" width="5" height="5" fill="#00ff43"/>
<rect x="885" y="352" width="40" height="5" fill="#00ff32"/>
<rect x="925" y="352" width="5" height="5" fill="#00ff43"/>
<rect x="930" y="352" width="5" height="5" fill="#00ff9c"/>
<rect x="935" y="352" width="5" height="5" fill="#00ffae"/>
<rect x="940" y="352" width="13" height="5" fill="#00fff4"/>
<rect x="690" y="357" width="5" height="5" fill="#afff00"/>
<rect x="695" y="357" width="5" height="5" fill="#7eff00"/>
<rect x="700" y="357" width="5" height="5" fill="#00ff9c"/>
<rect x="705" y="357" width="5" height="5" fill="#00ffae"/>
<rect x="710" y="357" width="10" height="5" fill="#00bfff"/>
<rect x="720" y="357" width="5" height="5" fill="#0091ff"/>
<rect x="725" y="357" width="15" height="5" fill="#0064ff"/>
<rect x="740" y="357" width="10" height="5" fill="#00bfff"/>
<rect x="750" y="357" width="5" height="5" fill="#00fff4"/>
<rect x="755" y="357" width="5" height="5" fill="#00ffe3"/>
<rect x="760" y="357" width="5" height="5" fill="#00ff55"/>
<rect x="765" y="357" width="5" height="5" fill="#00ff43"/>
<rect x="770" y="357" width="10" height="5" fill="#00ff32"/>
<rect x="780" y="357" width="5" height="5" fill="#00ff43"/>
<rect x="785" y="357" width="5" height="5" fill="#00ff32"/>
<rect x="790" y="357" width="5" height="5" fill="#35ff00"/>
<rect x="795" y="357" width="5" height="5" fill="#1dff00"/>
<rect x="800" y="357" width="5" height="5" fill="#00ff9c"/>
<rect x="805" y="357" width="5" height="5" fill="#00ffae"/>
<rect x="810" y="357" width="25" height="5" fill="#00fff4"/>
<rect x="835" y="357" width="5" height="5" fill="#00ffe3"/>
<rect x="840" y="357" width="5" height="5" fill="#00ff43"/>
<rect x="845" y="357" width="5" height="5" fill="#00ff32"/>
<rect x="850" y="357" width="5" height="5" fill="#35ff00"/>
<rect x="855" y="357" width="5" height="5" fill="#4eff00"/>
<rect x="860" y="357" width="5" height="5" fill="#ffd100"/>
<rect x="865" y="357" width="5" height="5" fill="#ffde00"/>
<rect x="870" y="357" width="5" height="5" fill="#00ff8a"/>
<rect x="875" y="357" width="5" height="5" fill="#00ff9c"/>
<rect x="880" y="357" width="40" height="5" fill="#00ff43"/>
<rect x="920" y="357" width="5" height="5" fill="#00ff32"/>
<rect x="925" y="357" width="5" height="5" fill="#00ff43"/>
<rect x="930" y="357" width="5" height="5" fill="#00ff9c"/>
<rect x="935" y="357" width="5" height="5" fill="#00ffae"/>
<rect x="940" y="357" width="13" height="5" fill="#00fff4"/>
<rect x="690" y="362" width="5" height="5" fill="#4eff00"/>
<rect x="695" y="362" width="5" height="5" fill="#35ff00"/>
<rect x="700" y="362" width="5" height="5" fill="#00ff9c"/>
<rect x="705" y="362" width="5" height="5" fill="#00ffae"/>
<rect x="710" y="362" width="15" height="5" fill="#00bfff"/>
<rect x="725" y="362" width="5" height="5" fill="#0091ff"/>
<rect x="730" y="362" width="10" height="5" fill="#0064ff"/>
<rect x="740" y="362" width="10" height="5" fill="#00bfff"/>
<rect x="750" y="362" width="10" height="5" fill="#00fff4"/>
<rect x="760" y="362" width="5" height="5" fill="#00ffae"/>
<rect x="765" y="362" width="5" height="5" fill="#00ff9c"/>
<rect x="770" y="362" width="10" height="5" fill="#00ff43"/>
<rect x="780" y="362" width="5" height="5" fill="#00ff9c"/>
<rect x="785" y="362" width="5" height="5" fill="#00ff8a"/>
<rect x="790" y="362" width="10" height="5" fill="#1dff00"/>
<rect x="800" y="362" width="5" height="5" fill="#00ff9c"/>
<rect x="805" y="362" width="5" height="5" fill="#00ffae"/>
<rect x="810" y="362" width="25" height="5" fill="#00fff4"/>
<rect x="835" y="362" width="5" height="5" fill="#00ffe3"/>
<rect x="840" y="362" width="5" height="5" fill="#00ff43"/>
<rect x="845" y="362" width="5" height="5" fill="#00ff32"/>
<rect x="850" y="362" width="5" height="5" fill="#35ff00"/>
<rect x="855" y="362" width="5" height="5" fill="#4eff00"/>
<rect x="860" y="362" width="5" height="5" fill="#ffd100"/>
<rect x="865" y="362" width="5" height="5" fill="#ffde00"/>
<rect x="870" y="362" width="5" height="5" fill="#00ff8a"/>
<rect x="875" y="362" width="5" height="5" fill="#00ffae"/>
<rect x="880" y="362" width="40" height="5" fill="#00ff9c"/>
<rect x="920" y="362" width="10" height="5" fill="#00ff43"/>
<rect x="930" y="362" width="5" height="5" fill="#00ff9c"/>
<rect x="935" y="362" width="5" height="5" fill="#00ffae"/>
<rect x="940" y="362" width="13" height="5" fill="#00fff4"/>
<rect x="690" y="367" width="5" height="5" fill="#35ff00"/>
<rect x="695" y="367" width="5" height="5" fill="#1dff00"/>
<rect x="700" y="367" width="5" height="5" fill="#00ff9c"/>
<rect x="705" y="367" width="5" height="5" fill="#00ffae"/>
<rect x="710" y="367" width="20" height="5" fill="#00bfff"/>
<rect x="730" y="367" width="10" height="5" fill="#0091ff"/>
<rect x="740" y="367" width="10" height="5" fill="#00bfff"/>
<rect x="750" y="367" width="10" height="5" fill="#00fff4"/>
<rect x="760" y="367" width="5" height="5" fill="#00ffae"/>
<rect x="765" y="367" width="5" height="5" fill="#00ff9c"/>
<rect x="770" y="367" width="10" height="5" fill="#00ff43"/>
<rect x="780" y="367" width="10" height="5" fill="#00ff9c"/>
<rect x="790" y="367" width="10" height="5" fill="#1dff00"/>
<rect x="800" y="367" width="5" height="5" fill="#00ff9c"/>
<rect x="805" y="367" width="5" height="5" fill="#00ffae"/>
<rect x="810" y="367" width="25" height="5" fill="#00fff4"/>
<rect x="835" y="367" width="5" height="5" fill="#00ffe3"/>
<rect x="840" y="367" width="5" height="5" fill="#00ff43"/>
<rect x="845" y="367" width="5" height="5" fill="#00ff32"/>
<rect x="850" y="367" width="5" height="5" fill="#35ff00"/>
<rect x="855" y="367" width="5" height="5" fill="#4eff00"/>
<rect x="860" y="367" width="5" height="5" fill="#ffd100"/>
<rect x="865" y="367" width="5" height="5" fill="#ffde00"/>
<rect x="870" y="367" width="5" height="5" fill="#00ff8a"/>
<rect x="875" y="367" width="45" height="5" fill="#00ffae"/>
<rect x="920" y="367" width="10" height="5" fill="#00ff43"/>
<rect x="930" y="367" width="10" height="5" fill="#00ffae"/>
<rect x="940" y="367" width="13" height="5" fill="#00fff4"/>
<rect x="690" y="372" width="5" height="5" fill="#35ff00"/>
<rect x="695" y="372" width="5" height="5" fill="#1dff00"/>
<rect x="700" y="372" width="5" height="5" fill="#00ff9c"/>
<rect x="705" y="372" width="5" height="5" fill="#00ffae"/>
<rect x="710" y="372" width="40" height="5" fill="#00bfff"/>
<rect x="750" y="372" width="10" height="5" fill="#00fff4"/>
<rect x="760" y="372" width="5" height="5" fill="#00ffae"/>
<rect x="765" y="372" width="5" height="5" fill="#00ff9c"/>
<rect x="770" y="372" width="10" height="5" fill="#00ff43"/>
<rect x="780" y="372" width="10" height="5" fill="#00ff9c"/>
<rect x="790" y="372" width="10" height="5" fill="#1dff00"/>
<rect x="800" y="372" width="5" height="5" fill="#00ff9c"/>
<rect x="805" y="372" width="5" height="5" fill="#00ffae"/>
<rect x="810" y="372" width="25" height="5" fill="#00fff4"/>
<rect x="835" y="372" width="5" height="5" fill="#00ffe3"/>
<rect x="840" y="372" width="5" height="5" fill="#00ff43"/>
<rect x="845" y="372" width="5" height="5" fill="#00ff32"/>
<rect x="850" y="372" width="5" height="5" fill="#35ff00"/>
<rect x="855" y="372" width="5" height="5" fill="#4eff00"/>
<rect x="860" y="372" width="5" height="5" fill="#ffd100"/>
<rect x="865" y="372" width="5" height="5" fill="#ffde00"/>
<rect x="870" y="372" width="5" height="5" fill="#00ffbf"/>
<rect x="875" y="372" width="40" height="5" fill="#00fff4"/>
<rect x="915" y="372" width="5" height="5" fill="#00ffe3"/>
<rect x="920" y="372" width="10" height="5" fill="#00ffae"/>
<rect x="930" y="372" width="5" height="5" fill="#00ffe3"/>
<rect x="935" y="372" width="15" height="5" fill="#00fff4"/>
<rect x="950" y="372" width="3" height="5" fill="#00bfff"/>
<rect x="690" y="377" width="5" height="5" fill="#35ff00"/>
<rect x="695" y="377" width="5" height="5" fill="#1dff00"/>
<rect x="700" y="377" width="5" height="5" fill="#00ff9c"/>
<rect x="705" y="377" width="5" height="5" fill="#00ffae"/>
<rect x="710" y="377" width="40" height="5" fill="#00bfff"/>
<rect x="750" y="377" width="10" height="5" fill="#00fff4"/>
<rect x="760" y="377" width="10" height="5" fill="#00ffae"/>
<rect x="770" y="377" width="5" height="5" fill="#00ff55"/>
<rect x="775" y="377" width="5" height="5" fill="#00ff43"/>
<rect x="780" y="377" width="10" height="5" fill="#00ff9c"/>
<rect x="790" y="377" width="10" height="5" fill="#05ff00"/>
<rect x="800" y="377" width="5" height="5" fill="#00ff8a"/>
<rect x="805" y="377" width="5" height="5" fill="#00ff9c"/>
<rect x="810" y="377" width="5" height="5" fill="#00ffe3"/>
<rect x="815" y="377" width="20" height="5" fill="#00fff4"/>
<rect x="835" y="377" width="5" height="5" fill="#00ffe3"/>
<rect x="840" y="377" width="5" height="5" fill="#00ff43"/>
<rect x="845" y="377" width="5" height="5" fill="#00ff32"/>
<rect x="850" y="377" width="5" height="5" fill="#35ff00"/>
<rect x="855" y="377" width="5" height="5" fill="#4eff00"/>
<rect x="860" y="377" width="5" height="5" fill="#ffd100"/>
<rect x="865" y="377" width="5" height="5" fill="#ffde00"/>
<rect x="870" y="377" width="5" height="5" fill="#00ffd1"/>
<rect x="875" y="377" width="45" height="5" fill="#00fff4"/>
<rect x="920" y="377" width="10" height="5" fill="#00ffae"/>
<rect x="930" y="377" width="20" height="5" fill="#00fff4"/>
<rect x="950" y="377" width="3" height="5" fill="#00bfff"/>
<rect x="690" y="382" width="10" height="5" fill="#00ff32"/>
<rect x="700" y="382" width="5" height="5" fill="#00ff9c"/>
<rect x="705" y="382" width="5" height="5" fill="#00ffae"/>
<rect x="710" y="382" width="10" height="5" fill="#00fff4"/>
<rect x="720" y="382" width="20" height="5" fill="#00bfff"/>
<rect x="740" y="382" width="30" height="5" fill="#00fff4"/>
<rect x="770" y="382" width="10" height="5" fill="#00ffe3"/>
<rect x="780" y="382" width="10" height="5" fill="#00ffae"/>
<rect x="790" y="382" width="5" height="5" fill="#00ff9c"/>
<rect x="795" y="382" width="5" height="5" fill="#00ff8a"/>
<rect x="800" y="382" width="10" height="5" fill="#05ff00"/>
<rect x="810" y="382" width="5" height="5" fill="#00ff9c"/>
<rect x="815" y="382" width="5" height="5" fill="#00ffae"/>
<rect x="820" y="382" width="15" height="5" fill="#00fff4"/>
<rect x="835" y="382" width="5" height="5" fill="#00ffe3"/>
<rect x="840" y="382" width="5" height="5" fill="#00ff43"/>
<rect x="845" y="382" width="5" height="5" fill="#00ff32"/>
<rect x="850" y="382" width="5" height="5" fill="#35ff00"/>
<rect x="855" y="382" width="5" height="5" fill="#4eff00"/>
<rect x="860" y="382" width="5" height="5" fill="#ffd100"/>
<rect x="865" y="382" width="5" height="5" fill="#ffde00"/>
<rect x="870" y="382" width="5" height="5" fill="#00ffd1"/>
<rect x="875" y="382" width="75" height="5" fill="#00fff4"/>
<rect x="950" y="382" width="3" height="5" fill="#00bfff"/>
<rect x="690" y="387" width="5" height="5" fill="#00ff32"/>
<rect x="695" y="387" width="5" height="5" fill="#00ff43"/>
<rect x="700" y="387" width="5" height="5" fill="#00ff9c"/>
<rect x="705" y="387" width="5" height="5" fill="#00ffae"/>
<rect x="710" y="387" width="10" height="5" fill="#00fff4"/>
<rect x="720" y="387" width="20" height="5" fill="#00bfff"/>
<rect x="740" y="387" width="40" height="5" fill="#00fff4"/>
<rect x="780" y="387" width="15" height="5" fill="#00ffae"/>
<rect x="795" y="387" width="5" height="5" fill="#00ff9c"/>
<rect x="800" y="387" width="10" height="5" fill="#1dff00"/>
<rect x="810" y="387" width="5" height="5" fill="#00ff9c"/>
<rect x="815" y="387" width="5" height="5" fill="#00ffae"/>
<rect x="820" y="387" width="15" height="5" fill="#00fff4"/>
<rect x="835" y="387" width="5" height="5" fill="#00ffe3"/>
<rect x="840" y="387" width="5" height="5" fill="#00ff43"/>
<rect x="845" y="387" width="5" height="5" fill="#00ff32"/>
<rect x="850" y="387" width="5" height="5" fill="#35ff00"/>
<rect x="855" y="387" width="5" height="5" fill="#4eff00"/>
<rect x="860" y="387" width="5" height="5" fill="#ffd100"/>
<rect x="865" y="387" width="5" height="5" fill="#ffde00"/>
<rect x="870" y="387" width="5" height="5" fill="#00ffd1"/>
<rect x="875" y="387" width="75" height="5" fill="#00fff4"/>
<rect x="950" y="387" width="3" height="5" fill="#00bfff"/>
<rect x="690" y="392" width="5" height="5" fill="#00ff32"/>
<rect x="695" y="392" width="5" height="5" fill="#00ff43"/>
<rect x="700" y="392" width="5" height="5" fill="#00ff9c"/>
<rect x="705" y="392" width="5" height="5" fill="#00ffae"/>
<rect x="710" y="392" width="10" height="5" fill="#00fff4"/>
<rect x="720" y="392" width="20" height="5" fill="#00bfff"/>
<rect x="740" y="392" width="40" height="5" fill="#00fff4"/>
<rect x="780" y="392" width="10" height="5" fill="#00ffae"/>
<rect x="790" y="392" width="5" height="5" fill="#00ffe3"/>
<rect x="795" y="392" width="5" height="5" fill="#00ffd1"/>
<rect x="800" y="392" width="10" height="5" fill="#1dff00"/>
<rect x="810" y="392" width="5" height="5" fill="#00ff9c"/>
<rect x="815" y="392" width="5" height="5" fill="#00ffae"/>
<rect x="820" y="392" width="15" height="5" fill="#00fff4"/>
<rect x="835" y="392" width="5" height="5" fill="#00ffe3"/>
<rect x="840" y="392" width="5" height="5" fill="#00ff43"/>
<rect x="845" y="392" width="5" height="5" fill="#00ff32"/>
<rect x="850" y="392" width="5" height="5" fill="#35ff00"/>
<rect x="855" y="392" width="5" height="5" fill="#4eff00"/>
<rect x="860" y="392" width="5" height="5" fill="#ffd100"/>
<rect x="865" y="392" width="5" height="5" fill="#ffde00"/>
<rect x="870" y="392" width="5" height="5" fill="#00ffd1"/>
<rect x="875" y="392" width="35" height="5" fill="#00fff4"/>
<rect x="910" y="392" width="10" height="5" fill="#00bfff"/>
<rect x="920" y="392" width="20" height="5" fill="#00fff4"/>
<rect x="940" y="392" width="13" height="5" fill="#00bfff"/>
<rect x="690" y="397" width="5" height="5" fill="#00ff32"/>
<rect x="695" y="397" width="5" height="5" fill="#00ff43"/>
<rect x="700" y="397" width="5" height="5" fill="#00ff9c"/>
<rect x="705" y="397" width="5" height="5" fill="#00ffae"/>
<rect x="710" y="397" width="10" height="5" fill="#00fff4"/>
<rect x="720" y="397" width="20" height="5" fill="#00bfff"/>
<rect x="740" y="397" width="40" height="5" fill="#00fff4"/>
<rect x="780" y="397" width="10" height="5" fill="#00ffae"/>
<rect x="790" y="397" width="5" height="5" fill="#00fff4"/>
<rect x="795" y="397" width="5" height="5" fill="#00ffe3"/>
<rect x="800" y="397" width="10" height="5" fill="#1dff00"/>
<rect x="810" y="397" width="5" height="5" fill="#00ff9c"/>
<rect x="815" y="397" width="5" height="5" fill="#00ffae"/>
<rect x="820" y="397" width="15" height="5" fill="#00fff4"/>
<rect x="835" y="397" width="5" height="5" fill="#00ffe3"/>
<rect x="840" y="397" width="5" height="5" fill="#00ff43"/>
<rect x="845" y="397" width="5" height="5" fill="#00ff32"/>
<rect x="850" y="397" width="5" height="5" fill="#35ff00"/>
<rect x="855" y="397" width="5" height="5" fill="#4eff00"/>
<rect x="860" y="397" width="5" height="5" fill="#ffd100"/>
<rect x="865" y="397" width="5" height="5" fill="#ffde00"/>
<rect x="870" y="397" width="5" height="5" fill="#00ffd1"/>
<rect x="875" y="397" width="35" height="5" fill="#00fff4"/>
<rect x="910" y="397" width="10" height="5" fill="#00bfff"/>
<rect x="920" y="397" width="20" height="5" fill="#00fff4"/>
<rect x="940" y="397" width="13" height="5" fill="#00bfff"/>
<rect x="690" y="402" width="5" height="3" fill="#00ff32"/>
<rect x="695" y="402" width="5" height="3" fill="#00ff43"/>
<rect x="700" y="402" width="5" height="3" fill="#00ff9c"/>
<rect x="705" y="402" width="5" height="3" fill="#00ffae"/>
<rect x="710" y="402" width="15" height="3" fill="#00fff4"/>
<rect x="725" y="402" width="5" height="3" fill="#00edff"/>
<rect x="730" y="402" width="10" height="3" fill="#00bfff"/>
<rect x="740" y="402" width="40" height="3" fill="#00fff4"/>
<rect x="780" y="402" width="10" height="3" fill="#00ffae"/>
<rect x="790" y="402" width="5" height="3" fill="#00fff4"/>
<rect x="795" y="402" width="5" height="3" fill="#00ffe3"/>
<rect x="800" y="402" width="10" height="3" fill="#1dff00"/>
<rect x="810" y="402" width="5" height="3" fill="#00ff9c"/>
<rect x="815" y="402" width="5" height="3" fill="#00ffae"/>
<rect x="820" y="402" width="15" height="3" fill="#00fff4"/>
<rect x="835" y="402" width="5" height="3" fill="#00ffe3"/>
<rect x="840" y="402" width="5" height="3" fill="#00ff43"/>
<rect x="845" y="402" width="5" height="3" fill="#00ff32"/>
<rect x="850" y="402" width="5" height="3" fill="#35ff00"/>
<rect x="855" y="402" width="5" height="3" fill="#4eff00"/>
<rect x="860" y="402" width="5" height="3" fill="#ffd100"/>
<rect x="865" y="402" width="5" height="3" fill="#ffde00"/>
<rect x="870" y="402" width="5" height="3" fill="#00ffd1"/>
<rect x="875" y="402" width="70" height="3" fill="#00fff4"/>
<rect x="945" y="402" width="8" height="3" fill="#00edff"/>
<rect x="135" y="428" width="48" height="6" fill="#00ffae"/>
<rect x="183" y="428" width="3" height="6" fill="#00ff78"/>
<rect x="186" y="428" width="3" height="6" fill="#00ff43"/>
<rect x="189" y="428" width="3" height="6" fill="#00ff32"/>
<rect x="192" y="428" width="3" height="6" fill="#00ff20"/>
<rect x="195" y="428" width="3" height="6" fill="#1dff00"/>
<rect x="198" y="428" width="3" height="6" fill="#35ff00"/>
<rect x="201" y="428" width="3" height="6" fill="#4eff00"/>
<rect x="204" y="428" width="3" height="6" fill="#afff00"/>
<rect x="207" y="428" width="6" height="6" fill="#fff600"/>
<rect x="213" y="428" width="3" height="6" fill="#afff00"/>
<rect x="216" y="428" width="3" height="6" fill="#4eff00"/>
<rect x="219" y="428" width="3" height="6" fill="#35ff00"/>
<rect x="222" y="428" width="3" height="6" fill="#1dff00"/>
<rect x="225" y="428" width="3" height="6" fill="#00ff20"/>
<rect x="228" y="428" width="24" height="6" fill="#00ff32"/>
<rect x="252" y="428" width="3" height="6" fill="#00ff55"/>
<rect x="255" y="428" width="3" height="6" fill="#00ff8a"/>
<rect x="258" y="428" width="33" height="6" fill="#00ffae"/>
<rect x="291" y="428" width="3" height="6" fill="#00ff9c"/>
<rect x="294" y="428" width="3" height="6" fill="#00ff67"/>
<rect x="297" y="428" width="36" height="6" fill="#00ff32"/>
<rect x="333" y="428" width="3" height="6" fill="#00ff67"/>
<rect x="336" y="428" width="3" height="6" fill="#00ff9c"/>
<rect x="339" y="428" width="3" height="6" fill="#00ffae"/>
<rect x="342" y="428" width="3" height="6" fill="#00ff8a"/>
<rect x="345" y="428" width="3" height="6" fill="#00ff55"/>
<rect x="348" y="428" width="24" height="6" fill="#00ff32"/>
<rect x="372" y="428" width="3" height="6" fill="#00ff20"/>
<rect x="375" y="428" width="3" height="6" fill="#1dff00"/>
<rect x="378" y="428" width="3" height="6" fill="#35ff00"/>
<rect x="381" y="428" width="3" height="6" fill="#4eff00"/>
<rect x="384" y="428" width="3" height="6" fill="#7eff00"/>
<rect x="387" y="428" width="27" height="6" fill="#afff00"/>
<rect x="414" y="428" width="3" height="6" fill="#66ff00"/>
<rect x="417" y="428" width="12" height="6" fill="#35ff00"/>
<rect x="135" y="434" width="48" height="11" fill="#00fff4"/>
<rect x="183" y="434" width="3" height="11" fill="#00ffd1"/>
<rect x="186" y="434" width="6" height="11" fill="#00ffae"/>
<rect x="192" y="434" width="3" height="11" fill="#00ff8a"/>
<rect x="195" y="434" width="3" height="11" fill="#00ff55"/>
<rect x="198" y="434" width="6" height="11" fill="#00ff32"/>
<rect x="204" y="434" width="3" height="11" fill="#05ff00"/>
<rect x="207" y="434" width="15" height="11" fill="#35ff00"/>
<rect x="222" y="434" width="3" height="11" fill="#1dff00"/>
<rect x="225" y="434" width="3" height="11" fill="#00ff20"/>
<rect x="228" y="434" width="24" height="11" fill="#00ff32"/>
<rect x="252" y="434" width="3" height="11" fill="#00ff55"/>
<rect x="255" y="434" width="3" height="11" fill="#00ff8a"/>
<rect x="258" y="434" width="84" height="11" fill="#00ffae"/>
<rect x="342" y="434" width="3" height="11" fill="#00ff8a"/>
<rect x="345" y="434" width="3" height="11" fill="#00ff55"/>
<rect x="348" y="434" width="24" height="11" fill="#00ff32"/>
<rect x="372" y="434" width="3" height="11" fill="#00ff20"/>
<rect x="375" y="434" width="3" height="11" fill="#1dff00"/>
<rect x="378" y="434" width="3" height="11" fill="#35ff00"/>
<rect x="381" y="434" width="3" height="11" fill="#4eff00"/>
<rect x="384" y="434" width="3" height="11" fill="#7eff00"/>
<rect x="387" y="434" width="42" height="11" fill="#afff00"/>
<rect x="135" y="445" width="78" height="10" fill="#00ffae"/>
<rect x="213" y="445" width="3" height="10" fill="#00ff78"/>
<rect x="216" y="445" width="3" height="10" fill="#00ff43"/>
<rect x="219" y="445" width="135" height="10" fill="#00ff32"/>
<rect x="354" y="445" width="3" height="10" fill="#05ff00"/>
<rect x="357" y="445" width="24" height="10" fill="#35ff00"/>
<rect x="381" y="445" width="3" height="10" fill="#4eff00"/>
<rect x="384" y="445" width="3" height="10" fill="#7eff00"/>
<rect x="387" y="445" width="42" height="10" fill="#afff00"/>
<rect x="135" y="455" width="57" height="10" fill="#00ff32"/>
<rect x="192" y="455" width="3" height="10" fill="#00ff20"/>
<rect x="195" y="455" width="3" height="10" fill="#1dff00"/>
<rect x="198" y="455" width="3" height="10" fill="#35ff00"/>
<rect x="201" y="455" width="3" height="10" fill="#4eff00"/>
<rect x="204" y="455" width="3" height="10" fill="#afff00"/>
<rect x="207" y="455" width="6" height="10" fill="#fff600"/>
<rect x="213" y="455" width="3" height="10" fill="#7eff00"/>
<rect x="216" y="455" width="3" height="10" fill="#00ff20"/>
<rect x="219" y="455" width="75" height="10" fill="#00ff32"/>
<rect x="294" y="455" width="3" height="10" fill="#05ff00"/>
<rect x="297" y="455" width="15" height="10" fill="#35ff00"/>
<rect x="312" y="455" width="3" height="10" fill="#1dff00"/>
<rect x="315" y="455" width="3" height="10" fill="#00ff20"/>
<rect x="318" y="455" width="15" height="10" fill="#00ff32"/>
<rect x="333" y="455" width="3" height="10" fill="#00ff0e"/>
<rect x="336" y="455" width="6" height="10" fill="#35ff00"/>
<rect x="342" y="455" width="3" height="10" fill="#1dff00"/>
<rect x="345" y="455" width="3" height="10" fill="#00ff20"/>
<rect x="348" y="455" width="6" height="10" fill="#00ff32"/>
<rect x="354" y="455" width="3" height="10" fill="#05ff00"/>
<rect x="357" y="455" width="24" height="10" fill="#35ff00"/>
<rect x="381" y="455" width="3" height="10" fill="#4eff00"/>
<rect x="384" y="455" width="3" height="10" fill="#7eff00"/>
<rect x="387" y="455" width="42" height="10" fill="#afff00"/>
<rect x="135" y="465" width="48" height="11" fill="#00ffae"/>
<rect x="183" y="465" width="3" height="11" fill="#00ff78"/>
<rect x="186" y="465" width="3" height="11" fill="#00ff43"/>
<rect x="189" y="465" width="54" height="11" fill="#00ff32"/>
<rect x="243" y="465" width="3" height="11" fill="#00ff0e"/>
<rect x="246" y="465" width="36" height="11" fill="#35ff00"/>
<rect x="282" y="465" width="3" height="11" fill="#1dff00"/>
<rect x="285" y="465" width="3" height="11" fill="#00ff20"/>
<rect x="288" y="465" width="3" height="11" fill="#00ff32"/>
<rect x="291" y="465" width="3" height="11" fill="#00ff20"/>
<rect x="294" y="465" width="3" height="11" fill="#4eff00"/>
<rect x="297" y="465" width="15" height="11" fill="#afff00"/>
<rect x="312" y="465" width="3" height="11" fill="#97ff00"/>
<rect x="315" y="465" width="3" height="11" fill="#4eff00"/>
<rect x="318" y="465" width="3" height="11" fill="#35ff00"/>
<rect x="321" y="465" width="3" height="11" fill="#4eff00"/>
<rect x="324" y="465" width="3" height="11" fill="#7eff00"/>
<rect x="327" y="465" width="15" height="11" fill="#afff00"/>
<rect x="342" y="465" width="3" height="11" fill="#97ff00"/>
<rect x="345" y="465" width="3" height="11" fill="#4eff00"/>
<rect x="348" y="465" width="3" height="11" fill="#35ff00"/>
<rect x="351" y="465" width="3" height="11" fill="#4eff00"/>
<rect x="354" y="465" width="3" height="11" fill="#7eff00"/>
<rect x="357" y="465" width="15" height="11" fill="#afff00"/>
<rect x="372" y="465" width="3" height="11" fill="#97ff00"/>
<rect x="375" y="465" width="3" height="11" fill="#4eff00"/>
<rect x="378" y="465" width="15" height="11" fill="#35ff00"/>
<rect x="393" y="465" width="3" height="11" fill="#66ff00"/>
<rect x="396" y="465" width="33" height="11" fill="#afff00"/>
<rect x="135" y="476" width="48" height="10" fill="#00ffae"/>
<rect x="183" y="476" width="3" height="10" fill="#00ff55"/>
<rect x="186" y="476" width="3" height="10" fill="#1dff00"/>
<rect x="189" y="476" width="3" height="10" fill="#35ff00"/>
<rect x="192" y="476" width="3" height="10" fill="#1dff00"/>
<rect x="195" y="476" width="3" height="10" fill="#00ff20"/>
<rect x="198" y="476" width="6" height="10" fill="#00ff32"/>
<rect x="204" y="476" width="3" height="10" fill="#05ff00"/>
<rect x="207" y="476" width="36" height="10" fill="#35ff00"/>
<rect x="243" y="476" width="3" height="10" fill="#66ff00"/>
<rect x="246" y="476" width="36" height="10" fill="#afff00"/>
<rect x="282" y="476" width="3" height="10" fill="#c7ff00"/>
<rect x="285" y="476" width="3" height="10" fill="#f8ff00"/>
<rect x="288" y="476" width="6" height="10" fill="#fff600"/>
<rect x="294" y="476" width="3" height="10" fill="#ffde00"/>
<rect x="297" y="476" width="15" height="10" fill="#ffc500"/>
<rect x="312" y="476" width="3" height="10" fill="#ffd100"/>
<rect x="315" y="476" width="3" height="10" fill="#ffea00"/>
<rect x="318" y="476" width="15" height="10" fill="#fff600"/>
<rect x="333" y="476" width="3" height="10" fill="#ffea00"/>
<rect x="336" y="476" width="3" height="10" fill="#ffd100"/>
<rect x="339" y="476" width="33" height="10" fill="#ffc500"/>
<rect x="372" y="476" width="3" height="10" fill="#ffd100"/>
<rect x="375" y="476" width="3" height="10" fill="#ffea00"/>
<rect x="378" y="476" width="6" height="10" fill="#fff600"/>
<rect x="384" y="476" width="3" height="10" fill="#ffde00"/>
<rect x="387" y="476" width="6" height="10" fill="#ffc500"/>
<rect x="393" y="476" width="3" height="10" fill="#ffde00"/>
<rect x="396" y="476" width="6" height="10" fill="#fff600"/>
<rect x="402" y="476" width="3" height="10" fill="#ffea00"/>
<rect x="405" y="476" width="3" height="10" fill="#ffd100"/>
<rect x="408" y="476" width="21" height="10" fill="#ffc500"/>
<rect x="135" y="486" width="48" height="10" fill="#00ff32"/>
<rect x="183" y="486" width="3" height="10" fill="#1dff00"/>
<rect x="186" y="486" width="3" height="10" fill="#97ff00"/>
<rect x="189" y="486" width="3" height="10" fill="#afff00"/>
<rect x="192" y="486" width="3" height="10" fill="#97ff00"/>
<rect x="195" y="486" width="3" height="10" fill="#4eff00"/>
<rect x="198" y="486" width="3" height="10" fill="#35ff00"/>
<rect x="201" y="486" width="3" height="10" fill="#4eff00"/>
<rect x="204" y="486" width="3" height="10" fill="#7eff00"/>
<rect x="207" y="486" width="15" height="10" fill="#afff00"/>
<rect x="222" y="486" width="3" height="10" fill="#97ff00"/>
<rect x="225" y="486" width="3" height="10" fill="#4eff00"/>
<rect x="228" y="486" width="15" height="10" fill="#35ff00"/>
<rect x="243" y="486" width="3" height="10" fill="#66ff00"/>
<rect x="246" y="486" width="18" height="10" fill="#afff00"/>
<rect x="264" y="486" width="3" height="10" fill="#dfff00"/>
<rect x="267" y="486" width="27" height="10" fill="#fff600"/>
<rect x="294" y="486" width="3" height="10" fill="#ffde00"/>
<rect x="297" y="486" width="6" height="10" fill="#ffc500"/>
<rect x="303" y="486" width="3" height="10" fill="#ffde00"/>
<rect x="306" y="486" width="27" height="10" fill="#fff600"/>
<rect x="333" y="486" width="3" height="10" fill="#ffea00"/>
<rect x="336" y="486" width="3" height="10" fill="#ffd100"/>
<rect x="339" y="486" width="15" height="10" fill="#ffc500"/>
<rect x="354" y="486" width="3" height="10" fill="#ffac00"/>
<rect x="357" y="486" width="6" height="10" fill="#ff9400"/>
<rect x="363" y="486" width="3" height="10" fill="#ffac00"/>
<rect x="366" y="486" width="48" height="10" fill="#ffc500"/>
<rect x="414" y="486" width="3" height="10" fill="#ffac00"/>
<rect x="417" y="486" width="6" height="10" fill="#ff9400"/>
<rect x="423" y="486" width="3" height="10" fill="#ffac00"/>
<rect x="426" y="486" width="3" height="10" fill="#ffc500"/>
<rect x="135" y="496" width="48" height="8" fill="#afff00"/>
<rect x="183" y="496" width="3" height="8" fill="#c7ff00"/>
<rect x="186" y="496" width="3" height="8" fill="#f8ff00"/>
<rect x="189" y="496" width="93" height="8" fill="#fff600"/>
<rect x="282" y="496" width="3" height="8" fill="#ffea00"/>
<rect x="285" y="496" width="3" height="8" fill="#ffac00"/>
<rect x="288" y="496" width="24" height="8" fill="#ff9400"/>
<rect x="312" y="496" width="3" height="8" fill="#ffa000"/>
<rect x="315" y="496" width="3" height="8" fill="#ffb900"/>
<rect x="318" y="496" width="6" height="8" fill="#ffc500"/>
<rect x="324" y="496" width="3" height="8" fill="#ffac00"/>
<rect x="327" y="496" width="27" height="8" fill="#ff9400"/>
<rect x="354" y="496" width="3" height="8" fill="#ff6300"/>
<rect x="357" y="496" width="6" height="8" fill="#ff4a00"/>
<rect x="363" y="496" width="3" height="8" fill="#ff6300"/>
<rect x="366" y="496" width="48" height="8" fill="#ff9400"/>
<rect x="414" y="496" width="3" height="8" fill="#ff6300"/>
<rect x="417" y="496" width="12" height="8" fill="#ff4a00"/>
<rect x="690" y="428" width="18" height="6" fill="#35ff00"/>
<rect x="708" y="428" width="3" height="6" fill="#00ff32"/>
<rect x="711" y="428" width="3" height="6" fill="#00ff9c"/>
<rect x="714" y="428" width="3" height="6" fill="#00ffae"/>
<rect x="717" y="428" width="3" height="6" fill="#00ffbf"/>
<rect x="720" y="428" width="3" height="6" fill="#00ffe3"/>
<rect x="723" y="428" width="15" height="6" fill="#00fff4"/>
<rect x="738" y="428" width="3" height="6" fill="#00ffd1"/>
<rect x="741" y="428" width="36" height="6" fill="#00ffae"/>
<rect x="777" y="428" width="3" height="6" fill="#00ff55"/>
<rect x="780" y="428" width="3" height="6" fill="#97ff00"/>
<rect x="783" y="428" width="3" height="6" fill="#fff600"/>
<rect x="786" y="428" width="3" height="6" fill="#f8ff00"/>
<rect x="789" y="428" width="3" height="6" fill="#35ff00"/>
<rect x="792" y="428" width="45" height="6" fill="#00ff32"/>
<rect x="837" y="428" width="3" height="6" fill="#1dff00"/>
<rect x="840" y="428" width="3" height="6" fill="#fff600"/>
<rect x="843" y="428" width="3" height="6" fill="#ffc500"/>
<rect x="846" y="428" width="3" height="6" fill="#ffd100"/>
<rect x="849" y="428" width="3" height="6" fill="#ffea00"/>
<rect x="852" y="428" width="6" height="6" fill="#fff600"/>
<rect x="858" y="428" width="3" height="6" fill="#ffb900"/>
<rect x="861" y="428" width="3" height="6" fill="#ff5600"/>
<rect x="864" y="428" width="3" height="6" fill="#ff4a00"/>
<rect x="867" y="428" width="3" height="6" fill="#ff7b00"/>
<rect x="870" y="428" width="3" height="6" fill="#fff600"/>
<rect x="873" y="428" width="3" height="6" fill="#afff00"/>
<rect x="876" y="428" width="3" height="6" fill="#97ff00"/>
<rect x="879" y="428" width="3" height="6" fill="#1dff00"/>
<rect x="882" y="428" width="6" height="6" fill="#00ff32"/>
<rect x="888" y="428" width="3" height="6" fill="#00ff67"/>
<rect x="891" y="428" width="3" height="6" fill="#00ff9c"/>
<rect x="894" y="428" width="59" height="6" fill="#00ffae"/>
<rect x="690" y="434" width="6" height="11" fill="#35ff00"/>
<rect x="696" y="434" width="3" height="11" fill="#4eff00"/>
<rect x="699" y="434" width="3" height="11" fill="#7eff00"/>
<rect x="702" y="434" width="6" height="11" fill="#afff00"/>
<rect x="708" y="434" width="3" height="11" fill="#4eff00"/>
<rect x="711" y="434" width="3" height="11" fill="#00ff20"/>
<rect x="714" y="434" width="3" height="11" fill="#00ff32"/>
<rect x="717" y="434" width="3" height="11" fill="#00ff55"/>
<rect x="720" y="434" width="3" height="11" fill="#00ff8a"/>
<rect x="723" y="434" width="45" height="11" fill="#00ffae"/>
<rect x="768" y="434" width="3" height="11" fill="#00ff78"/>
<rect x="771" y="434" width="3" height="11" fill="#00ff43"/>
<rect x="774" y="434" width="3" height="11" fill="#00ff32"/>
<rect x="777" y="434" width="3" height="11" fill="#05ff00"/>
<rect x="780" y="434" width="3" height="11" fill="#c7ff00"/>
<rect x="783" y="434" width="3" height="11" fill="#fff600"/>
<rect x="786" y="434" width="3" height="11" fill="#f8ff00"/>
<rect x="789" y="434" width="3" height="11" fill="#97ff00"/>
<rect x="792" y="434" width="15" height="11" fill="#35ff00"/>
<rect x="807" y="434" width="3" height="11" fill="#1dff00"/>
<rect x="810" y="434" width="3" height="11" fill="#00ff20"/>
<rect x="813" y="434" width="24" height="11" fill="#00ff32"/>
<rect x="837" y="434" width="3" height="11" fill="#1dff00"/>
<rect x="840" y="434" width="3" height="11" fill="#fff600"/>
<rect x="843" y="434" width="15" height="11" fill="#ffc500"/>
<rect x="858" y="434" width="3" height="11" fill="#ff9400"/>
<rect x="861" y="434" width="3" height="11" fill="#ff5600"/>
<rect x="864" y="434" width="3" height="11" fill="#ff4a00"/>
<rect x="867" y="434" width="3" height="11" fill="#ff7b00"/>
<rect x="870" y="434" width="3" height="11" fill="#fff600"/>
<rect x="873" y="434" width="3" height="11" fill="#afff00"/>
<rect x="876" y="434" width="3" height="11" fill="#97ff00"/>
<rect x="879" y="434" width="3" height="11" fill="#00ff32"/>
<rect x="882" y="434" width="15" height="11" fill="#00ffae"/>
<rect x="897" y="434" width="3" height="11" fill="#00ffbf"/>
<rect x="900" y="434" width="3" height="11" fill="#00ffe3"/>
<rect x="903" y="434" width="24" height="11" fill="#00fff4"/>
<rect x="927" y="434" width="3" height="11" fill="#00ffe3"/>
<rect x="930" y="434" width="3" height="11" fill="#00ffbf"/>
<rect x="933" y="434" width="6" height="11" fill="#00ffae"/>
<rect x="939" y="434" width="3" height="11" fill="#00ffd1"/>
<rect x="942" y="434" width="6" height="11" fill="#00fff4"/>
<rect x="948" y="434" width="3" height="11" fill="#00ffd1"/>
<rect x="951" y="434" width="2" height="11" fill="#00ffae"/>
<rect x="690" y="445" width="18" height="10" fill="#afff00"/>
<rect x="708" y="445" width="3" height="10" fill="#7eff00"/>
<rect x="711" y="445" width="3" height="10" fill="#4eff00"/>
<rect x="714" y="445" width="3" height="10" fill="#35ff00"/>
<rect x="717" y="445" width="3" height="10" fill="#1dff00"/>
<rect x="720" y="445" width="3" height="10" fill="#00ff20"/>
<rect x="723" y="445" width="36" height="10" fill="#00ff32"/>
<rect x="759" y="445" width="3" height="10" fill="#05ff00"/>
<rect x="762" y="445" width="24" height="10" fill="#35ff00"/>
<rect x="786" y="445" width="3" height="10" fill="#66ff00"/>
<rect x="789" y="445" width="3" height="10" fill="#ffea00"/>
<rect x="792" y="445" width="6" height="10" fill="#ff9400"/>
<rect x="798" y="445" width="3" height="10" fill="#ffd100"/>
<rect x="801" y="445" width="3" height="10" fill="#c7ff00"/>
<rect x="804" y="445" width="33" height="10" fill="#afff00"/>
<rect x="837" y="445" width="3" height="10" fill="#dfff00"/>
<rect x="840" y="445" width="3" height="10" fill="#ffde00"/>
<rect x="843" y="445" width="3" height="10" fill="#ffc500"/>
<rect x="846" y="445" width="3" height="10" fill="#ffd100"/>
<rect x="849" y="445" width="3" height="10" fill="#ffea00"/>
<rect x="852" y="445" width="6" height="10" fill="#fff600"/>
<rect x="858" y="445" width="3" height="10" fill="#ffb900"/>
<rect x="861" y="445" width="3" height="10" fill="#ff5600"/>
<rect x="864" y="445" width="3" height="10" fill="#ff4a00"/>
<rect x="867" y="445" width="3" height="10" fill="#ff6f00"/>
<rect x="870" y="445" width="3" height="10" fill="#ffd100"/>
<rect x="873" y="445" width="3" height="10" fill="#fff600"/>
<rect x="876" y="445" width="3" height="10" fill="#f8ff00"/>
<rect x="879" y="445" width="3" height="10" fill="#35ff00"/>
<rect x="882" y="445" width="15" height="10" fill="#00ff32"/>
<rect x="897" y="445" width="3" height="10" fill="#00ff55"/>
<rect x="900" y="445" width="3" height="10" fill="#00ff8a"/>
<rect x="903" y="445" width="50" height="10" fill="#00ffae"/>
<rect x="690" y="455" width="18" height="10" fill="#fff600"/>
<rect x="708" y="455" width="3" height="10" fill="#dfff00"/>
<rect x="711" y="455" width="6" height="10" fill="#afff00"/>
<rect x="717" y="455" width="3" height="10" fill="#97ff00"/>
<rect x="720" y="455" width="3" height="10" fill="#4eff00"/>
<rect x="723" y="455" width="45" height="10" fill="#35ff00"/>
<rect x="768" y="455" width="3" height="10" fill="#66ff00"/>
<rect x="771" y="455" width="15" height="10" fill="#afff00"/>
<rect x="786" y="455" width="3" height="10" fill="#c7ff00"/>
<rect x="789" y="455" width="3" height="10" fill="#ffd100"/>
<rect x="792" y="455" width="6" height="10" fill="#ff9400"/>
<rect x="798" y="455" width="3" height="10" fill="#ffb900"/>
<rect x="801" y="455" width="36" height="10" fill="#fff600"/>
<rect x="837" y="455" width="3" height="10" fill="#ffea00"/>
<rect x="840" y="455" width="3" height="10" fill="#ffd100"/>
<rect x="843" y="455" width="15" height="10" fill="#ffc500"/>
<rect x="858" y="455" width="3" height="10" fill="#ff9400"/>
<rect x="861" y="455" width="3" height="10" fill="#ff5600"/>
<rect x="864" y="455" width="3" height="10" fill="#ff4a00"/>
<rect x="867" y="455" width="3" height="10" fill="#ff6f00"/>
<rect x="870" y="455" width="3" height="10" fill="#ffd100"/>
<rect x="873" y="455" width="3" height="10" fill="#fff600"/>
<rect x="876" y="455" width="3" height="10" fill="#f8ff00"/>
<rect x="879" y="455" width="3" height="10" fill="#35ff00"/>
<rect x="882" y="455" width="15" height="10" fill="#00ff32"/>
<rect x="897" y="455" width="3" height="10" fill="#00ff55"/>
<rect x="900" y="455" width="3" height="10" fill="#00ff8a"/>
<rect x="903" y="455" width="15" height="10" fill="#00ffae"/>
<rect x="918" y="455" width="3" height="10" fill="#00ff78"/>
<rect x="921" y="455" width="3" height="10" fill="#00ff43"/>
<rect x="924" y="455" width="24" height="10" fill="#00ff32"/>
<rect x="948" y="455" width="3" height="10" fill="#00ff67"/>
<rect x="951" y="455" width="2" height="10" fill="#00ff9c"/>
<rect x="690" y="465" width="18" height="11" fill="#ffc500"/>
<rect x="708" y="465" width="3" height="11" fill="#ffde00"/>
<rect x="711" y="465" width="6" height="11" fill="#fff600"/>
<rect x="717" y="465" width="3" height="11" fill="#f8ff00"/>
<rect x="720" y="465" width="3" height="11" fill="#c7ff00"/>
<rect x="723" y="465" width="6" height="11" fill="#afff00"/>
<rect x="729" y="465" width="3" height="11" fill="#dfff00"/>
<rect x="732" y="465" width="57" height="11" fill="#fff600"/>
<rect x="789" y="465" width="3" height="11" fill="#ffb900"/>
<rect x="792" y="465" width="6" height="11" fill="#ff9400"/>
<rect x="798" y="465" width="3" height="11" fill="#ffac00"/>
<rect x="801" y="465" width="57" height="11" fill="#ffc500"/>
<rect x="858" y="465" width="3" height="11" fill="#ff9400"/>
<rect x="861" y="465" width="3" height="11" fill="#ff5600"/>
<rect x="864" y="465" width="3" height="11" fill="#ff4a00"/>
<rect x="867" y="465" width="3" height="11" fill="#ff6f00"/>
<rect x="870" y="465" width="3" height="11" fill="#ffd100"/>
<rect x="873" y="465" width="3" height="11" fill="#fff600"/>
<rect x="876" y="465" width="3" height="11" fill="#f8ff00"/>
<rect x="879" y="465" width="3" height="11" fill="#97ff00"/>
<rect x="882" y="465" width="6" height="11" fill="#35ff00"/>
<rect x="888" y="465" width="3" height="11" fill="#05ff00"/>
<rect x="891" y="465" width="6" height="11" fill="#00ff32"/>
<rect x="897" y="465" width="3" height="11" fill="#00ff55"/>
<rect x="900" y="465" width="3" height="11" fill="#00ff8a"/>
<rect x="903" y="465" width="33" height="11" fill="#00ffae"/>
<rect x="936" y="465" width="3" height="11" fill="#00ff9c"/>
<rect x="939" y="465" width="3" height="11" fill="#00ff67"/>
<rect x="942" y="465" width="6" height="11" fill="#00ff32"/>
<rect x="948" y="465" width="3" height="11" fill="#00ff0e"/>
<rect x="951" y="465" width="2" height="11" fill="#1dff00"/>
<rect x="690" y="476" width="9" height="10" fill="#fff600"/>
<rect x="699" y="476" width="3" height="10" fill="#ffde00"/>
<rect x="702" y="476" width="36" height="10" fill="#ffc500"/>
<rect x="738" y="476" width="3" height="10" fill="#ffde00"/>
<rect x="741" y="476" width="6" height="10" fill="#fff600"/>
<rect x="747" y="476" width="3" height="10" fill="#ffea00"/>
<rect x="750" y="476" width="3" height="10" fill="#ffd100"/>
<rect x="753" y="476" width="33" height="10" fill="#ffc500"/>
<rect x="786" y="476" width="3" height="10" fill="#ffb900"/>
<rect x="789" y="476" width="3" height="10" fill="#ff7b00"/>
<rect x="792" y="476" width="6" height="10" fill="#ff4a00"/>
<rect x="798" y="476" width="3" height="10" fill="#ff6300"/>
<rect x="801" y="476" width="57" height="10" fill="#ff9400"/>
<rect x="858" y="476" width="3" height="10" fill="#ff7b00"/>
<rect x="861" y="476" width="6" height="10" fill="#ff4a00"/>
<rect x="867" y="476" width="3" height="10" fill="#ff6300"/>
<rect x="870" y="476" width="3" height="10" fill="#ffac00"/>
<rect x="873" y="476" width="3" height="10" fill="#ffc500"/>
<rect x="876" y="476" width="3" height="10" fill="#ffd100"/>
<rect x="879" y="476" width="3" height="10" fill="#afff00"/>
<rect x="882" y="476" width="6" height="10" fill="#35ff00"/>
<rect x="888" y="476" width="3" height="10" fill="#05ff00"/>
<rect x="891" y="476" width="6" height="10" fill="#00ff32"/>
<rect x="897" y="476" width="3" height="10" fill="#00ff67"/>
<rect x="900" y="476" width="3" height="10" fill="#00ffd1"/>
<rect x="903" y="476" width="15" height="10" fill="#00fff4"/>
<rect x="918" y="476" width="3" height="10" fill="#00ffd1"/>
<rect x="921" y="476" width="6" height="10" fill="#00ffae"/>
<rect x="927" y="476" width="3" height="10" fill="#00ff8a"/>
<rect x="930" y="476" width="3" height="10" fill="#00ff55"/>
<rect x="933" y="476" width="15" height="10" fill="#00ff32"/>
<rect x="948" y="476" width="3" height="10" fill="#1dff00"/>
<rect x="951" y="476" width="2" height="10" fill="#97ff00"/>
<rect x="690" y="486" width="9" height="10" fill="#ffc500"/>
<rect x="699" y="486" width="3" height="10" fill="#ffac00"/>
<rect x="702" y="486" width="87" height="10" fill="#ff9400"/>
<rect x="789" y="486" width="3" height="10" fill="#ff6300"/>
<rect x="792" y="486" width="57" height="10" fill="#ff4a00"/>
<rect x="849" y="486" width="3" height="10" fill="#ff7b00"/>
<rect x="852" y="486" width="6" height="10" fill="#ff9400"/>
<rect x="858" y="486" width="3" height="10" fill="#ff6300"/>
<rect x="861" y="486" width="3" height="10" fill="#ff2500"/>
<rect x="864" y="486" width="3" height="10" fill="#ff1900"/>
<rect x="867" y="486" width="3" height="10" fill="#ff3100"/>
<rect x="870" y="486" width="3" height="10" fill="#ff7b00"/>
<rect x="873" y="486" width="3" height="10" fill="#ff9400"/>
<rect x="876" y="486" width="3" height="10" fill="#ffa000"/>
<rect x="879" y="486" width="3" height="10" fill="#ffea00"/>
<rect x="882" y="486" width="6" height="10" fill="#afff00"/>
<rect x="888" y="486" width="3" height="10" fill="#7eff00"/>
<rect x="891" y="486" width="3" height="10" fill="#4eff00"/>
<rect x="894" y="486" width="59" height="10" fill="#35ff00"/>
<rect x="690" y="496" width="18" height="8" fill="#ff9400"/>
<rect x="708" y="496" width="3" height="8" fill="#ff7b00"/>
<rect x="711" y="496" width="87" height="8" fill="#ff4a00"/>
<rect x="798" y="496" width="3" height="8" fill="#ff3100"/>
<rect x="801" y="496" width="36" height="8" fill="#ff1900"/>
<rect x="837" y="496" width="3" height="8" fill="#ff2500"/>
<rect x="840" y="496" width="3" height="8" fill="#ff3e00"/>
<rect x="843" y="496" width="15" height="8" fill="#ff4a00"/>
<rect x="858" y="496" width="3" height="8" fill="#ff3100"/>
<rect x="861" y="496" width="6" height="8" fill="#ff1900"/>
<rect x="867" y="496" width="3" height="8" fill="#ff2500"/>
<rect x="870" y="496" width="3" height="8" fill="#ff3e00"/>
<rect x="873" y="496" width="3" height="8" fill="#ff4a00"/>
<rect x="876" y="496" width="3" height="8" fill="#ff5600"/>
<rect x="879" y="496" width="3" height="8" fill="#ffb900"/>
<rect x="882" y="496" width="6" height="8" fill="#fff600"/>
<rect x="888" y="496" width="3" height="8" fill="#dfff00"/>
<rect x="891" y="496" width="62" height="8" fill="#afff00"/><g clip-path="url(#cLT)" shape-rendering="auto">
 <rect x="230" y="131" width="60" height="5" fill="#0070ff" fill-opacity="0.6"/>
 <rect x="223" y="130" width="7" height="7" fill="#00ff90"/>
 <rect x="141" y="183" width="288" height="2" fill="#2080ff" fill-opacity="0.5"/>
 <rect x="135" y="175" width="6" height="16" fill="#00e0ff" fill-opacity="0.8"/>
 <g filter="url(#bl2)">
  <polyline points="221,184 236,201 252,215 266,229 279,238 297,256 306,265 320,276 335,285 341,293" fill="none" stroke="#20ff80" stroke-width="16" stroke-opacity="0.5" stroke-linecap="round"/>
  <polyline points="221,184 236,201 252,215 266,229 279,238 297,256 306,265 320,276 335,285 341,293" fill="none" stroke="#70ff00" stroke-width="7" stroke-opacity="0.6" stroke-linecap="round"/>
  <ellipse cx="237" cy="201" rx="4" ry="6" fill="#e8ff00" fill-opacity="0.8"/>
  <ellipse cx="302" cy="261" rx="8" ry="10" fill="#ffe800" fill-opacity="0.8"/>
  <ellipse cx="336" cy="287" rx="4" ry="6" fill="#ffe000" fill-opacity="0.8"/>
  <ellipse cx="357" cy="299" rx="6" ry="8" fill="#ffd800" fill-opacity="0.85"/>
 </g>
</g>
<g clip-path="url(#cRT)" shape-rendering="auto">
 <rect x="697" y="89" width="57" height="48" fill="#0000c8"/>
 <rect x="832" y="112" width="38" height="25" fill="#0000c0"/>
 <rect x="893" y="51" width="60" height="120" fill="#0000c8"/>
 <rect x="690" y="134" width="183" height="3" fill="#00e0ff" fill-opacity="0.4"/>
 <g filter="url(#bl)">
  <polygon points="855,137 865,137 870,200 851,200" fill="#40ff00" fill-opacity="0.9"/>
  <polygon points="851,190 868,190 877,305 843,305" fill="#a0ff00" fill-opacity="0.5"/>
  <polygon points="858,200 866,200 873,305 856,305" fill="#ffd800" fill-opacity="0.8"/>
  <polygon points="862,235 867,235 870,305 861,305" fill="#ffa000" fill-opacity="0.8"/>
 </g>
</g>
<g clip-path="url(#cRL)" shape-rendering="auto">
 <g filter="url(#bl)">
  <rect x="845" y="312" width="27" height="93" fill="#c0ff00" fill-opacity="0.55"/>
  <rect x="857" y="312" width="15" height="93" fill="#ffc800" fill-opacity="0.7"/>
  <rect x="862" y="312" width="6" height="93" fill="#ff5000" fill-opacity="0.9"/>
 </g>
</g>
<g shape-rendering="auto"><path d="M136.5,63.7 C138.3,66.6 143.8,75.3 147.4,81.1 C151.0,86.9 154.0,92.3 158.3,98.5 C162.7,104.7 168.1,111.9 173.5,118.1 C178.9,124.3 185.6,130.8 191.0,135.5 C196.4,140.2 200.0,142.4 206.2,146.4 C212.4,150.4 220.8,155.5 228.0,159.5 C235.2,163.5 242.4,167.3 249.7,170.4 C256.9,173.5 264.8,176.1 271.5,178.0 C278.2,179.9 283.7,180.7 290.0,182.0 C296.3,183.3 301.3,184.6 309.5,186.0 C317.7,187.4 329.1,189.4 339.0,190.7 C348.9,192.0 358.7,192.7 368.6,193.6 C378.5,194.5 389.1,195.6 398.2,196.3 C407.3,197.0 419.1,197.6 423.3,197.8" fill="none" stroke="#ff00ff" stroke-width="2"/><path d="M691.9,173.8 C696.5,172.3 709.2,168.2 719.6,165.0 C730.0,161.8 744.7,157.7 754.3,154.6 C763.9,151.5 769.6,149.5 777.3,146.6 C785.0,143.7 792.7,140.6 800.4,137.3 C808.1,134.0 815.8,130.8 823.5,127.0 C831.2,123.2 838.9,119.1 846.6,114.3 C854.3,109.5 862.0,104.1 869.7,98.1 C877.4,92.1 885.1,85.2 892.8,78.5 C900.5,71.8 910.8,62.1 915.8,57.7 C920.8,53.3 921.6,52.9 922.8,51.9" fill="none" stroke="#ff00ff" stroke-width="2"/></g><rect x="90" y="51" width="864" height="1" fill="#000"/><rect x="90" y="405" width="864" height="1" fill="#000"/><rect x="90" y="51" width="1" height="355" fill="#000"/><rect x="953" y="51" width="1" height="355" fill="#000"/><rect x="90" y="427" width="864" height="1" fill="#000"/><rect x="90" y="504" width="864" height="1" fill="#000"/><rect x="90" y="427" width="1" height="78" fill="#000"/><rect x="953" y="427" width="1" height="78" fill="#000"/><rect x="81" y="405" width="10" height="1" fill="#000"/><rect x="86" y="376" width="5" height="1" fill="#000"/><rect x="86" y="359" width="5" height="1" fill="#000"/><rect x="86" y="346" width="5" height="1" fill="#000"/><rect x="86" y="337" width="5" height="1" fill="#000"/><rect x="86" y="329" width="5" height="1" fill="#000"/><rect x="86" y="323" width="5" height="1" fill="#000"/><rect x="86" y="317" width="5" height="1" fill="#000"/><rect x="86" y="312" width="5" height="1" fill="#000"/><rect x="81" y="307" width="10" height="1" fill="#000"/><rect x="86" y="278" width="5" height="1" fill="#000"/><rect x="86" y="261" width="5" height="1" fill="#000"/><rect x="86" y="249" width="5" height="1" fill="#000"/><rect x="86" y="239" width="5" height="1" fill="#000"/><rect x="86" y="231" width="5" height="1" fill="#000"/><rect x="86" y="225" width="5" height="1" fill="#000"/><rect x="86" y="219" width="5" height="1" fill="#000"/><rect x="86" y="214" width="5" height="1" fill="#000"/><rect x="81" y="209" width="10" height="1" fill="#000"/><rect x="86" y="180" width="5" height="1" fill="#000"/><rect x="86" y="163" width="5" height="1" fill="#000"/><rect x="86" y="151" width="5" height="1" fill="#000"/><rect x="86" y="141" width="5" height="1" fill="#000"/><rect x="86" y="133" width="5" height="1" fill="#000"/><rect x="86" y="127" width="5" height="1" fill="#000"/><rect x="86" y="121" width="5" height="1" fill="#000"/><rect x="86" y="116" width="5" height="1" fill="#000"/><rect x="81" y="111" width="10" height="1" fill="#000"/><rect x="86" y="82" width="5" height="1" fill="#000"/><rect x="86" y="65" width="5" height="1" fill="#000"/><rect x="86" y="53" width="5" height="1" fill="#000"/><rect x="81" y="470" width="10" height="1" fill="#000"/><rect x="81" y="428" width="10" height="1" fill="#000"/><rect x="86" y="500" width="5" height="1" fill="#000"/><rect x="86" y="492" width="5" height="1" fill="#000"/><rect x="86" y="487" width="5" height="1" fill="#000"/><rect x="86" y="483" width="5" height="1" fill="#000"/><rect x="86" y="480" width="5" height="1" fill="#000"/><rect x="86" y="477" width="5" height="1" fill="#000"/><rect x="86" y="474" width="5" height="1" fill="#000"/><rect x="86" y="472" width="5" height="1" fill="#000"/><rect x="86" y="457" width="5" height="1" fill="#000"/><rect x="86" y="450" width="5" height="1" fill="#000"/><rect x="86" y="445" width="5" height="1" fill="#000"/><rect x="86" y="441" width="5" height="1" fill="#000"/><rect x="86" y="437" width="5" height="1" fill="#000"/><rect x="86" y="434" width="5" height="1" fill="#000"/><rect x="86" y="432" width="5" height="1" fill="#000"/><rect x="86" y="430" width="5" height="1" fill="#000"/><rect x="156" y="504" width="1" height="10" fill="#000"/><rect x="281" y="504" width="1" height="10" fill="#000"/><rect x="407" y="504" width="1" height="10" fill="#000"/><rect x="533" y="504" width="1" height="10" fill="#000"/><rect x="659" y="504" width="1" height="10" fill="#000"/><rect x="785" y="504" width="1" height="10" fill="#000"/><rect x="911" y="504" width="1" height="10" fill="#000"/><rect x="93" y="504" width="1" height="5" fill="#000"/><rect x="124" y="504" width="1" height="5" fill="#000"/><rect x="187" y="504" width="1" height="5" fill="#000"/><rect x="218" y="504" width="1" height="5" fill="#000"/><rect x="250" y="504" width="1" height="5" fill="#000"/><rect x="313" y="504" width="1" height="5" fill="#000"/><rect x="344" y="504" width="1" height="5" fill="#000"/><rect x="376" y="504" width="1" height="5" fill="#000"/><rect x="439" y="504" width="1" height="5" fill="#000"/><rect x="470" y="504" width="1" height="5" fill="#000"/><rect x="502" y="504" width="1" height="5" fill="#000"/><rect x="564" y="504" width="1" height="5" fill="#000"/><rect x="596" y="504" width="1" height="5" fill="#000"/><rect x="627" y="504" width="1" height="5" fill="#000"/><rect x="690" y="504" width="1" height="5" fill="#000"/><rect x="722" y="504" width="1" height="5" fill="#000"/><rect x="753" y="504" width="1" height="5" fill="#000"/><rect x="816" y="504" width="1" height="5" fill="#000"/><rect x="848" y="504" width="1" height="5" fill="#000"/><rect x="879" y="504" width="1" height="5" fill="#000"/><rect x="943" y="504" width="1" height="5" fill="#000"/><rect x="966" y="53" width="13" height="352" fill="url(#cb)"/><rect x="979" y="52" width="1" height="354" fill="#000"/><rect x="979" y="52" width="10" height="1" fill="#000"/><rect x="979" y="87" width="5" height="1" fill="#000"/><rect x="979" y="122" width="10" height="1" fill="#000"/><rect x="979" y="158" width="5" height="1" fill="#000"/><rect x="979" y="193" width="10" height="1" fill="#000"/><rect x="979" y="228" width="5" height="1" fill="#000"/><rect x="979" y="263" width="10" height="1" fill="#000"/><rect x="979" y="298" width="5" height="1" fill="#000"/><rect x="979" y="334" width="10" height="1" fill="#000"/><rect x="979" y="369" width="5" height="1" fill="#000"/><rect x="979" y="404" width="10" height="1" fill="#000"/><rect x="966" y="429" width="13" height="75" fill="url(#cb)"/><rect x="979" y="428" width="1" height="77" fill="#000"/><rect x="979" y="428" width="5" height="1" fill="#000"/><rect x="979" y="436" width="5" height="1" fill="#000"/><rect x="979" y="443" width="5" height="1" fill="#000"/><rect x="979" y="451" width="5" height="1" fill="#000"/><rect x="979" y="458" width="10" height="1" fill="#000"/><rect x="979" y="466" width="5" height="1" fill="#000"/><rect x="979" y="474" width="5" height="1" fill="#000"/><rect x="979" y="481" width="5" height="1" fill="#000"/><rect x="979" y="489" width="5" height="1" fill="#000"/><rect x="979" y="496" width="10" height="1" fill="#000"/><rect x="979" y="504" width="5" height="1" fill="#000"/>
<g shape-rendering="auto" text-rendering="geometricPrecision">
<text x="279.6" y="31" font-size="13" text-anchor="start" font-weight="normal" xml:space="preserve" textLength="483.4" lengthAdjust="spacingAndGlyphs">DE 1/PWI-SFC  Spin Plane E-Field Spectra, 200 meter antenna, 104 Hz to 409 kHz</text><text x="459.7" y="44" font-size="8.8" text-anchor="start" font-weight="normal" textLength="123.3" lengthAdjust="spacing" stroke="#000" stroke-width="0.3">(Magenta Line: Fce in Hz)</text><text x="282.5" y="418.8" font-size="13" text-anchor="start" font-weight="normal" xml:space="preserve" textLength="478.1" lengthAdjust="spacingAndGlyphs">DE 1/PWI-LFC  Spin Plane E-Field Spectra, 200 meter antenna, 1.78 Hz to 100 Hz</text><text transform="translate(77,412.5) scale(0.87,1)" font-size="14" text-anchor="end">10<tspan dy="-6">2</tspan></text><text transform="translate(77,314.5) scale(0.87,1)" font-size="14" text-anchor="end">10<tspan dy="-6">3</tspan></text><text transform="translate(77,216.5) scale(0.87,1)" font-size="14" text-anchor="end">10<tspan dy="-6">4</tspan></text><text transform="translate(77,118.5) scale(0.87,1)" font-size="14" text-anchor="end">10<tspan dy="-6">5</tspan></text><text transform="translate(77,436) scale(0.87,1)" font-size="14" text-anchor="end">10<tspan dy="-6">2</tspan></text><text transform="translate(77,478.3) scale(0.87,1)" font-size="14" text-anchor="end">10<tspan dy="-6">1</tspan></text><text transform="translate(993,60) scale(0.87,1)" font-size="14">10<tspan dy="-6">-6</tspan></text><text transform="translate(993,130) scale(0.87,1)" font-size="14">10<tspan dy="-6">-8</tspan></text><text transform="translate(993,201) scale(0.87,1)" font-size="14">10<tspan dy="-6">-10</tspan></text><text transform="translate(993,271) scale(0.87,1)" font-size="14">10<tspan dy="-6">-12</tspan></text><text transform="translate(993,341) scale(0.87,1)" font-size="14">10<tspan dy="-6">-14</tspan></text><text transform="translate(993,412) scale(0.87,1)" font-size="14">10<tspan dy="-6">-16</tspan></text><text transform="translate(992.5,465) scale(0.87,1)" font-size="14">10<tspan dy="-6">-10</tspan></text><text transform="translate(992.5,503.5) scale(0.87,1)" font-size="14">10<tspan dy="-6">-15</tspan></text><text transform="translate(46.2,228.4) rotate(-90)" font-size="13" text-anchor="middle" textLength="87.3" lengthAdjust="spacingAndGlyphs">Frequency (Hz)</text><text transform="translate(47.5,465.7) rotate(-90)" font-size="13" text-anchor="middle">Freq (Hz)</text><text transform="translate(1048.3,228) rotate(-90)" font-size="13" text-anchor="middle">Ex (V<tspan dy="-6">2</tspan><tspan dy="6"> m</tspan><tspan dy="-6">-2</tspan><tspan dy="6"> Hz</tspan><tspan dy="-6">-1</tspan><tspan dy="6">)</tspan></text><text transform="translate(1042,466) rotate(-90)" font-size="13" text-anchor="middle">LFC Ex</text><text transform="translate(171.0,530) scale(0.94,1)" font-size="13.4" text-anchor="end">08:00</text><text transform="translate(171.0,546) scale(0.94,1)" font-size="13.4" text-anchor="end">1.896</text><text transform="translate(171.0,562) scale(0.94,1)" font-size="13.4" text-anchor="end">2.289</text><text transform="translate(171.0,578) scale(0.94,1)" font-size="13.4" text-anchor="end">6.770</text><text transform="translate(171.0,594) scale(0.94,1)" font-size="13.4" text-anchor="end">27.482</text><text transform="translate(296.0,530) scale(0.94,1)" font-size="13.4" text-anchor="end">09:00</text><text transform="translate(296.0,546) scale(0.94,1)" font-size="13.4" text-anchor="end">3.557</text><text transform="translate(296.0,562) scale(0.94,1)" font-size="13.4" text-anchor="end">4.031</text><text transform="translate(296.0,578) scale(0.94,1)" font-size="13.4" text-anchor="end">6.295</text><text transform="translate(296.0,594) scale(0.94,1)" font-size="13.4" text-anchor="end">-17.948</text><text transform="translate(422.0,530) scale(0.94,1)" font-size="13.4" text-anchor="end">10:00</text><text transform="translate(422.0,546) scale(0.94,1)" font-size="13.4" text-anchor="end">4.419</text><text transform="translate(422.0,562) scale(0.94,1)" font-size="13.4" text-anchor="end">6.995</text><text transform="translate(422.0,578) scale(0.94,1)" font-size="13.4" text-anchor="end">6.221</text><text transform="translate(422.0,594) scale(0.94,1)" font-size="13.4" text-anchor="end">-37.599</text><text transform="translate(548.0,530) scale(0.94,1)" font-size="13.4" text-anchor="end">11:00</text><text transform="translate(674.0,530) scale(0.94,1)" font-size="13.4" text-anchor="end">12:00</text><text transform="translate(800.0,530) scale(0.94,1)" font-size="13.4" text-anchor="end">13:00</text><text transform="translate(800.0,546) scale(0.94,1)" font-size="13.4" text-anchor="end">3.317</text><text x="800.0" y="561" font-size="11" text-anchor="end">****</text><text transform="translate(800.0,578) scale(0.94,1)" font-size="13.4" text-anchor="end">14.424</text><text transform="translate(800.0,594) scale(0.94,1)" font-size="13.4" text-anchor="end">-84.133</text><text transform="translate(926.0,530) scale(0.94,1)" font-size="13.4" text-anchor="end">14:00</text><text transform="translate(926.0,546) scale(0.94,1)" font-size="13.4" text-anchor="end">1.511</text><text transform="translate(926.0,562) scale(0.94,1)" font-size="13.4" text-anchor="end">1.694</text><text transform="translate(926.0,578) scale(0.94,1)" font-size="13.4" text-anchor="end">18.278</text><text transform="translate(926.0,594) scale(0.94,1)" font-size="13.4" text-anchor="end">-20.863</text><text x="58.7" y="546" font-size="13.4" text-anchor="end">R<tspan font-size="8" dy="3">e</tspan></text><text x="58.7" y="562" font-size="13.4" text-anchor="end" font-weight="normal" >L</text><text x="58.7" y="578" font-size="13.4" text-anchor="end">M<tspan font-size="8" dy="3">LT</tspan></text><text x="58.7" y="594" font-size="13.4" text-anchor="end">M<tspan font-size="8" dy="3">LAT</tspan></text><text x="433" y="611.7" font-size="13" text-anchor="start" font-weight="normal" textLength="176.2" lengthAdjust="spacingAndGlyphs">1983-05-24 (144) 7:29 to 14:20</text>
</g>
</svg>
</body></html>
